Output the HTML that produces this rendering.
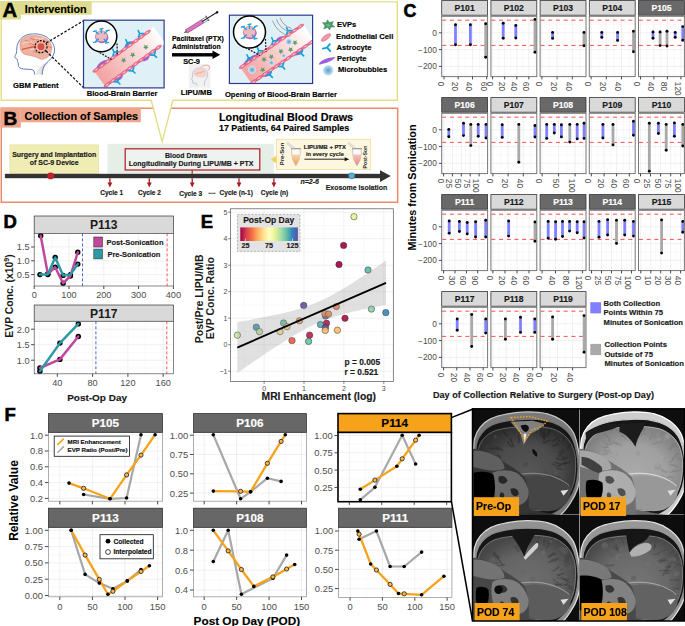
<!DOCTYPE html>
<html><head><meta charset="utf-8"><style>
html,body{margin:0;padding:0;background:#fff;}
svg{display:block;font-family:"Liberation Sans",sans-serif;}
</style></head><body>
<svg width="685" height="626" viewBox="0 0 685 626">
<rect width="685" height="626" fill="#fff"/>
<rect x="441.70" y="0.60" width="45.90" height="14.60" fill="#d9d9d9" stroke="#333" stroke-width="0.8" />
<text x="464.65" y="11.20" style="font-size:8.6px;font-weight:bold;" fill="#1a1a1a" text-anchor="middle"  stroke="#1a1a1a" stroke-width="0.16">P101</text>
<rect x="441.70" y="16.30" width="45.90" height="60.30" fill="#fff" stroke="none" stroke-width="1" />
<line x1="441.70" y1="24.40" x2="487.60" y2="24.40" stroke="#f3f3f3" stroke-width="0.5" />
<line x1="441.70" y1="41.20" x2="487.60" y2="41.20" stroke="#f3f3f3" stroke-width="0.5" />
<line x1="441.70" y1="58.00" x2="487.60" y2="58.00" stroke="#f3f3f3" stroke-width="0.5" />
<line x1="441.70" y1="74.80" x2="487.60" y2="74.80" stroke="#f3f3f3" stroke-width="0.5" />
<line x1="451.10" y1="16.30" x2="451.10" y2="76.60" stroke="#f3f3f3" stroke-width="0.5" />
<line x1="465.30" y1="16.30" x2="465.30" y2="76.60" stroke="#f3f3f3" stroke-width="0.5" />
<line x1="479.50" y1="16.30" x2="479.50" y2="76.60" stroke="#f3f3f3" stroke-width="0.5" />
<line x1="441.70" y1="32.80" x2="487.60" y2="32.80" stroke="#e6e6e6" stroke-width="0.6" />
<line x1="441.70" y1="49.60" x2="487.60" y2="49.60" stroke="#e6e6e6" stroke-width="0.6" />
<line x1="441.70" y1="66.40" x2="487.60" y2="66.40" stroke="#e6e6e6" stroke-width="0.6" />
<line x1="444.00" y1="16.30" x2="444.00" y2="76.60" stroke="#e6e6e6" stroke-width="0.6" />
<line x1="458.20" y1="16.30" x2="458.20" y2="76.60" stroke="#e6e6e6" stroke-width="0.6" />
<line x1="472.50" y1="16.30" x2="472.50" y2="76.60" stroke="#e6e6e6" stroke-width="0.6" />
<line x1="486.70" y1="16.30" x2="486.70" y2="76.60" stroke="#e6e6e6" stroke-width="0.6" />
<line x1="442.20" y1="20.20" x2="487.60" y2="20.20" stroke="#ff3b3b" stroke-width="0.9" stroke-dasharray="4,3.7"/>
<line x1="442.20" y1="45.40" x2="487.60" y2="45.40" stroke="#ff3b3b" stroke-width="0.9" stroke-dasharray="4,3.7"/>
<line x1="455.50" y1="24.80" x2="455.50" y2="44.70" stroke="#8080ff" stroke-width="2.8" />
<line x1="470.40" y1="24.80" x2="470.40" y2="44.70" stroke="#8080ff" stroke-width="2.8" />
<line x1="485.70" y1="23.80" x2="485.70" y2="57.20" stroke="#a9a9a9" stroke-width="2.8" />
<circle cx="455.50" cy="24.80" r="1.45" fill="#000" stroke="none" stroke-width="1" />
<circle cx="455.50" cy="44.70" r="1.45" fill="#000" stroke="none" stroke-width="1" />
<circle cx="470.40" cy="24.80" r="1.45" fill="#000" stroke="none" stroke-width="1" />
<circle cx="470.40" cy="44.70" r="1.45" fill="#000" stroke="none" stroke-width="1" />
<circle cx="485.70" cy="23.80" r="1.45" fill="#000" stroke="none" stroke-width="1" />
<circle cx="485.70" cy="57.20" r="1.45" fill="#000" stroke="none" stroke-width="1" />
<rect x="441.70" y="16.30" width="45.90" height="60.30" fill="none" stroke="#777" stroke-width="1.0" />
<line x1="444.00" y1="76.60" x2="444.00" y2="79.40" stroke="#333" stroke-width="0.9" />
<text transform="translate(437.90,81.80) rotate(90)" style="font-size:8.4px" fill="#4d4d4d">0</text>
<line x1="458.20" y1="76.60" x2="458.20" y2="79.40" stroke="#333" stroke-width="0.9" />
<text transform="translate(452.10,81.80) rotate(90)" style="font-size:8.4px" fill="#4d4d4d">20</text>
<line x1="472.50" y1="76.60" x2="472.50" y2="79.40" stroke="#333" stroke-width="0.9" />
<text transform="translate(466.40,81.80) rotate(90)" style="font-size:8.4px" fill="#4d4d4d">40</text>
<line x1="486.70" y1="76.60" x2="486.70" y2="79.40" stroke="#333" stroke-width="0.9" />
<text transform="translate(480.60,81.80) rotate(90)" style="font-size:8.4px" fill="#4d4d4d">60</text>
<line x1="438.90" y1="32.80" x2="441.70" y2="32.80" stroke="#333" stroke-width="0.9" />
<text x="436.90" y="35.80" style="font-size:8.4px;" fill="#4d4d4d" text-anchor="end" >0</text>
<line x1="438.90" y1="49.60" x2="441.70" y2="49.60" stroke="#333" stroke-width="0.9" />
<text x="436.90" y="52.60" style="font-size:8.4px;" fill="#4d4d4d" text-anchor="end" >−100</text>
<line x1="438.90" y1="66.40" x2="441.70" y2="66.40" stroke="#333" stroke-width="0.9" />
<text x="436.90" y="69.40" style="font-size:8.4px;" fill="#4d4d4d" text-anchor="end" >−200</text>
<rect x="490.90" y="0.60" width="45.90" height="14.60" fill="#d9d9d9" stroke="#333" stroke-width="0.8" />
<text x="513.85" y="11.20" style="font-size:8.6px;font-weight:bold;" fill="#1a1a1a" text-anchor="middle"  stroke="#1a1a1a" stroke-width="0.16">P102</text>
<rect x="490.90" y="16.30" width="45.90" height="60.30" fill="#fff" stroke="none" stroke-width="1" />
<line x1="490.90" y1="24.40" x2="536.80" y2="24.40" stroke="#f3f3f3" stroke-width="0.5" />
<line x1="490.90" y1="41.20" x2="536.80" y2="41.20" stroke="#f3f3f3" stroke-width="0.5" />
<line x1="490.90" y1="58.00" x2="536.80" y2="58.00" stroke="#f3f3f3" stroke-width="0.5" />
<line x1="490.90" y1="74.80" x2="536.80" y2="74.80" stroke="#f3f3f3" stroke-width="0.5" />
<line x1="498.65" y1="16.30" x2="498.65" y2="76.60" stroke="#f3f3f3" stroke-width="0.5" />
<line x1="510.75" y1="16.30" x2="510.75" y2="76.60" stroke="#f3f3f3" stroke-width="0.5" />
<line x1="522.85" y1="16.30" x2="522.85" y2="76.60" stroke="#f3f3f3" stroke-width="0.5" />
<line x1="534.95" y1="16.30" x2="534.95" y2="76.60" stroke="#f3f3f3" stroke-width="0.5" />
<line x1="490.90" y1="32.80" x2="536.80" y2="32.80" stroke="#e6e6e6" stroke-width="0.6" />
<line x1="490.90" y1="49.60" x2="536.80" y2="49.60" stroke="#e6e6e6" stroke-width="0.6" />
<line x1="490.90" y1="66.40" x2="536.80" y2="66.40" stroke="#e6e6e6" stroke-width="0.6" />
<line x1="492.60" y1="16.30" x2="492.60" y2="76.60" stroke="#e6e6e6" stroke-width="0.6" />
<line x1="504.70" y1="16.30" x2="504.70" y2="76.60" stroke="#e6e6e6" stroke-width="0.6" />
<line x1="516.80" y1="16.30" x2="516.80" y2="76.60" stroke="#e6e6e6" stroke-width="0.6" />
<line x1="528.80" y1="16.30" x2="528.80" y2="76.60" stroke="#e6e6e6" stroke-width="0.6" />
<line x1="491.40" y1="20.20" x2="536.80" y2="20.20" stroke="#ff3b3b" stroke-width="0.9" stroke-dasharray="4,3.7"/>
<line x1="491.40" y1="45.40" x2="536.80" y2="45.40" stroke="#ff3b3b" stroke-width="0.9" stroke-dasharray="4,3.7"/>
<line x1="503.20" y1="23.30" x2="503.20" y2="38.20" stroke="#8080ff" stroke-width="2.8" />
<line x1="515.80" y1="25.50" x2="515.80" y2="38.00" stroke="#8080ff" stroke-width="2.8" />
<line x1="535.00" y1="19.40" x2="535.00" y2="52.30" stroke="#a9a9a9" stroke-width="2.8" />
<circle cx="503.20" cy="23.30" r="1.45" fill="#000" stroke="none" stroke-width="1" />
<circle cx="503.20" cy="38.20" r="1.45" fill="#000" stroke="none" stroke-width="1" />
<circle cx="515.80" cy="25.50" r="1.45" fill="#000" stroke="none" stroke-width="1" />
<circle cx="515.80" cy="38.00" r="1.45" fill="#000" stroke="none" stroke-width="1" />
<circle cx="535.00" cy="19.40" r="1.45" fill="#000" stroke="none" stroke-width="1" />
<circle cx="535.00" cy="52.30" r="1.45" fill="#000" stroke="none" stroke-width="1" />
<rect x="490.90" y="16.30" width="45.90" height="60.30" fill="none" stroke="#777" stroke-width="1.0" />
<line x1="492.60" y1="76.60" x2="492.60" y2="79.40" stroke="#333" stroke-width="0.9" />
<text transform="translate(486.50,81.80) rotate(90)" style="font-size:8.4px" fill="#4d4d4d">0</text>
<line x1="504.70" y1="76.60" x2="504.70" y2="79.40" stroke="#333" stroke-width="0.9" />
<text transform="translate(498.60,81.80) rotate(90)" style="font-size:8.4px" fill="#4d4d4d">20</text>
<line x1="516.80" y1="76.60" x2="516.80" y2="79.40" stroke="#333" stroke-width="0.9" />
<text transform="translate(510.70,81.80) rotate(90)" style="font-size:8.4px" fill="#4d4d4d">40</text>
<line x1="528.80" y1="76.60" x2="528.80" y2="79.40" stroke="#333" stroke-width="0.9" />
<text transform="translate(522.70,81.80) rotate(90)" style="font-size:8.4px" fill="#4d4d4d">60</text>
<rect x="540.10" y="0.60" width="45.90" height="14.60" fill="#d9d9d9" stroke="#333" stroke-width="0.8" />
<text x="563.05" y="11.20" style="font-size:8.6px;font-weight:bold;" fill="#1a1a1a" text-anchor="middle"  stroke="#1a1a1a" stroke-width="0.16">P103</text>
<rect x="540.10" y="16.30" width="45.90" height="60.30" fill="#fff" stroke="none" stroke-width="1" />
<line x1="540.10" y1="24.40" x2="586.00" y2="24.40" stroke="#f3f3f3" stroke-width="0.5" />
<line x1="540.10" y1="41.20" x2="586.00" y2="41.20" stroke="#f3f3f3" stroke-width="0.5" />
<line x1="540.10" y1="58.00" x2="586.00" y2="58.00" stroke="#f3f3f3" stroke-width="0.5" />
<line x1="540.10" y1="74.80" x2="586.00" y2="74.80" stroke="#f3f3f3" stroke-width="0.5" />
<line x1="549.50" y1="16.30" x2="549.50" y2="76.60" stroke="#f3f3f3" stroke-width="0.5" />
<line x1="564.70" y1="16.30" x2="564.70" y2="76.60" stroke="#f3f3f3" stroke-width="0.5" />
<line x1="579.90" y1="16.30" x2="579.90" y2="76.60" stroke="#f3f3f3" stroke-width="0.5" />
<line x1="540.10" y1="32.80" x2="586.00" y2="32.80" stroke="#e6e6e6" stroke-width="0.6" />
<line x1="540.10" y1="49.60" x2="586.00" y2="49.60" stroke="#e6e6e6" stroke-width="0.6" />
<line x1="540.10" y1="66.40" x2="586.00" y2="66.40" stroke="#e6e6e6" stroke-width="0.6" />
<line x1="541.90" y1="16.30" x2="541.90" y2="76.60" stroke="#e6e6e6" stroke-width="0.6" />
<line x1="557.10" y1="16.30" x2="557.10" y2="76.60" stroke="#e6e6e6" stroke-width="0.6" />
<line x1="572.30" y1="16.30" x2="572.30" y2="76.60" stroke="#e6e6e6" stroke-width="0.6" />
<line x1="540.60" y1="20.20" x2="586.00" y2="20.20" stroke="#ff3b3b" stroke-width="0.9" stroke-dasharray="4,3.7"/>
<line x1="540.60" y1="45.40" x2="586.00" y2="45.40" stroke="#ff3b3b" stroke-width="0.9" stroke-dasharray="4,3.7"/>
<line x1="552.60" y1="32.40" x2="552.60" y2="38.40" stroke="#8080ff" stroke-width="2.8" />
<line x1="584.00" y1="32.40" x2="584.00" y2="45.80" stroke="#a9a9a9" stroke-width="2.8" />
<circle cx="552.60" cy="32.40" r="1.45" fill="#000" stroke="none" stroke-width="1" />
<circle cx="552.60" cy="38.40" r="1.45" fill="#000" stroke="none" stroke-width="1" />
<circle cx="584.00" cy="32.40" r="1.45" fill="#000" stroke="none" stroke-width="1" />
<circle cx="584.00" cy="45.80" r="1.45" fill="#000" stroke="none" stroke-width="1" />
<rect x="540.10" y="16.30" width="45.90" height="60.30" fill="none" stroke="#777" stroke-width="1.0" />
<line x1="541.90" y1="76.60" x2="541.90" y2="79.40" stroke="#333" stroke-width="0.9" />
<text transform="translate(535.80,81.80) rotate(90)" style="font-size:8.4px" fill="#4d4d4d">0</text>
<line x1="557.10" y1="76.60" x2="557.10" y2="79.40" stroke="#333" stroke-width="0.9" />
<text transform="translate(551.00,81.80) rotate(90)" style="font-size:8.4px" fill="#4d4d4d">20</text>
<line x1="572.30" y1="76.60" x2="572.30" y2="79.40" stroke="#333" stroke-width="0.9" />
<text transform="translate(566.20,81.80) rotate(90)" style="font-size:8.4px" fill="#4d4d4d">40</text>
<rect x="589.30" y="0.60" width="45.90" height="14.60" fill="#d9d9d9" stroke="#333" stroke-width="0.8" />
<text x="612.25" y="11.20" style="font-size:8.6px;font-weight:bold;" fill="#1a1a1a" text-anchor="middle"  stroke="#1a1a1a" stroke-width="0.16">P104</text>
<rect x="589.30" y="16.30" width="45.90" height="60.30" fill="#fff" stroke="none" stroke-width="1" />
<line x1="589.30" y1="24.40" x2="635.20" y2="24.40" stroke="#f3f3f3" stroke-width="0.5" />
<line x1="589.30" y1="41.20" x2="635.20" y2="41.20" stroke="#f3f3f3" stroke-width="0.5" />
<line x1="589.30" y1="58.00" x2="635.20" y2="58.00" stroke="#f3f3f3" stroke-width="0.5" />
<line x1="589.30" y1="74.80" x2="635.20" y2="74.80" stroke="#f3f3f3" stroke-width="0.5" />
<line x1="598.70" y1="16.30" x2="598.70" y2="76.60" stroke="#f3f3f3" stroke-width="0.5" />
<line x1="613.90" y1="16.30" x2="613.90" y2="76.60" stroke="#f3f3f3" stroke-width="0.5" />
<line x1="629.10" y1="16.30" x2="629.10" y2="76.60" stroke="#f3f3f3" stroke-width="0.5" />
<line x1="589.30" y1="32.80" x2="635.20" y2="32.80" stroke="#e6e6e6" stroke-width="0.6" />
<line x1="589.30" y1="49.60" x2="635.20" y2="49.60" stroke="#e6e6e6" stroke-width="0.6" />
<line x1="589.30" y1="66.40" x2="635.20" y2="66.40" stroke="#e6e6e6" stroke-width="0.6" />
<line x1="591.10" y1="16.30" x2="591.10" y2="76.60" stroke="#e6e6e6" stroke-width="0.6" />
<line x1="606.30" y1="16.30" x2="606.30" y2="76.60" stroke="#e6e6e6" stroke-width="0.6" />
<line x1="621.50" y1="16.30" x2="621.50" y2="76.60" stroke="#e6e6e6" stroke-width="0.6" />
<line x1="589.80" y1="20.20" x2="635.20" y2="20.20" stroke="#ff3b3b" stroke-width="0.9" stroke-dasharray="4,3.7"/>
<line x1="589.80" y1="45.40" x2="635.20" y2="45.40" stroke="#ff3b3b" stroke-width="0.9" stroke-dasharray="4,3.7"/>
<line x1="601.80" y1="32.40" x2="601.80" y2="37.40" stroke="#8080ff" stroke-width="2.8" />
<line x1="617.60" y1="32.40" x2="617.60" y2="40.40" stroke="#8080ff" stroke-width="2.8" />
<line x1="633.50" y1="31.30" x2="633.50" y2="51.80" stroke="#a9a9a9" stroke-width="2.8" />
<circle cx="601.80" cy="32.40" r="1.45" fill="#000" stroke="none" stroke-width="1" />
<circle cx="601.80" cy="37.40" r="1.45" fill="#000" stroke="none" stroke-width="1" />
<circle cx="617.60" cy="32.40" r="1.45" fill="#000" stroke="none" stroke-width="1" />
<circle cx="617.60" cy="40.40" r="1.45" fill="#000" stroke="none" stroke-width="1" />
<circle cx="633.50" cy="31.30" r="1.45" fill="#000" stroke="none" stroke-width="1" />
<circle cx="633.50" cy="51.80" r="1.45" fill="#000" stroke="none" stroke-width="1" />
<rect x="589.30" y="16.30" width="45.90" height="60.30" fill="none" stroke="#777" stroke-width="1.0" />
<line x1="591.10" y1="76.60" x2="591.10" y2="79.40" stroke="#333" stroke-width="0.9" />
<text transform="translate(585.00,81.80) rotate(90)" style="font-size:8.4px" fill="#4d4d4d">0</text>
<line x1="606.30" y1="76.60" x2="606.30" y2="79.40" stroke="#333" stroke-width="0.9" />
<text transform="translate(600.20,81.80) rotate(90)" style="font-size:8.4px" fill="#4d4d4d">20</text>
<line x1="621.50" y1="76.60" x2="621.50" y2="79.40" stroke="#333" stroke-width="0.9" />
<text transform="translate(615.40,81.80) rotate(90)" style="font-size:8.4px" fill="#4d4d4d">40</text>
<rect x="638.50" y="0.60" width="45.90" height="14.60" fill="#696969" stroke="#333" stroke-width="0.8" />
<text x="661.45" y="11.20" style="font-size:8.6px;font-weight:bold;" fill="#fff" text-anchor="middle"  stroke="#fff" stroke-width="0.16">P105</text>
<rect x="638.50" y="16.30" width="45.90" height="60.30" fill="#fff" stroke="none" stroke-width="1" />
<line x1="638.50" y1="24.40" x2="684.40" y2="24.40" stroke="#f3f3f3" stroke-width="0.5" />
<line x1="638.50" y1="41.20" x2="684.40" y2="41.20" stroke="#f3f3f3" stroke-width="0.5" />
<line x1="638.50" y1="58.00" x2="684.40" y2="58.00" stroke="#f3f3f3" stroke-width="0.5" />
<line x1="638.50" y1="74.80" x2="684.40" y2="74.80" stroke="#f3f3f3" stroke-width="0.5" />
<line x1="647.20" y1="16.30" x2="647.20" y2="76.60" stroke="#f3f3f3" stroke-width="0.5" />
<line x1="660.60" y1="16.30" x2="660.60" y2="76.60" stroke="#f3f3f3" stroke-width="0.5" />
<line x1="674.00" y1="16.30" x2="674.00" y2="76.60" stroke="#f3f3f3" stroke-width="0.5" />
<line x1="638.50" y1="32.80" x2="684.40" y2="32.80" stroke="#e6e6e6" stroke-width="0.6" />
<line x1="638.50" y1="49.60" x2="684.40" y2="49.60" stroke="#e6e6e6" stroke-width="0.6" />
<line x1="638.50" y1="66.40" x2="684.40" y2="66.40" stroke="#e6e6e6" stroke-width="0.6" />
<line x1="640.50" y1="16.30" x2="640.50" y2="76.60" stroke="#e6e6e6" stroke-width="0.6" />
<line x1="653.90" y1="16.30" x2="653.90" y2="76.60" stroke="#e6e6e6" stroke-width="0.6" />
<line x1="667.40" y1="16.30" x2="667.40" y2="76.60" stroke="#e6e6e6" stroke-width="0.6" />
<line x1="680.90" y1="16.30" x2="680.90" y2="76.60" stroke="#e6e6e6" stroke-width="0.6" />
<line x1="639.00" y1="20.20" x2="684.40" y2="20.20" stroke="#ff3b3b" stroke-width="0.9" stroke-dasharray="4,3.7"/>
<line x1="639.00" y1="45.40" x2="684.40" y2="45.40" stroke="#ff3b3b" stroke-width="0.9" stroke-dasharray="4,3.7"/>
<line x1="653.00" y1="32.00" x2="653.00" y2="38.20" stroke="#8080ff" stroke-width="2.8" />
<line x1="660.10" y1="32.00" x2="660.10" y2="45.60" stroke="#a9a9a9" stroke-width="2.8" />
<line x1="667.00" y1="31.30" x2="667.00" y2="46.00" stroke="#a9a9a9" stroke-width="2.8" />
<line x1="675.20" y1="32.40" x2="675.20" y2="37.40" stroke="#8080ff" stroke-width="2.8" />
<line x1="682.80" y1="26.60" x2="682.80" y2="40.20" stroke="#8080ff" stroke-width="2.8" />
<circle cx="653.00" cy="32.00" r="1.45" fill="#000" stroke="none" stroke-width="1" />
<circle cx="653.00" cy="38.20" r="1.45" fill="#000" stroke="none" stroke-width="1" />
<circle cx="660.10" cy="32.00" r="1.45" fill="#000" stroke="none" stroke-width="1" />
<circle cx="660.10" cy="45.60" r="1.45" fill="#000" stroke="none" stroke-width="1" />
<circle cx="667.00" cy="31.30" r="1.45" fill="#000" stroke="none" stroke-width="1" />
<circle cx="667.00" cy="46.00" r="1.45" fill="#000" stroke="none" stroke-width="1" />
<circle cx="675.20" cy="32.40" r="1.45" fill="#000" stroke="none" stroke-width="1" />
<circle cx="675.20" cy="37.40" r="1.45" fill="#000" stroke="none" stroke-width="1" />
<circle cx="682.80" cy="26.60" r="1.45" fill="#000" stroke="none" stroke-width="1" />
<circle cx="682.80" cy="40.20" r="1.45" fill="#000" stroke="none" stroke-width="1" />
<rect x="638.50" y="16.30" width="45.90" height="60.30" fill="none" stroke="#777" stroke-width="1.0" />
<line x1="640.50" y1="76.60" x2="640.50" y2="79.40" stroke="#333" stroke-width="0.9" />
<text transform="translate(634.40,81.80) rotate(90)" style="font-size:8.4px" fill="#4d4d4d">0</text>
<line x1="653.90" y1="76.60" x2="653.90" y2="79.40" stroke="#333" stroke-width="0.9" />
<text transform="translate(647.80,81.80) rotate(90)" style="font-size:8.4px" fill="#4d4d4d">40</text>
<line x1="667.40" y1="76.60" x2="667.40" y2="79.40" stroke="#333" stroke-width="0.9" />
<text transform="translate(661.30,81.80) rotate(90)" style="font-size:8.4px" fill="#4d4d4d">80</text>
<line x1="680.90" y1="76.60" x2="680.90" y2="79.40" stroke="#333" stroke-width="0.9" />
<text transform="translate(674.80,81.80) rotate(90)" style="font-size:8.4px" fill="#4d4d4d">120</text>
<rect x="441.70" y="97.60" width="45.90" height="14.60" fill="#696969" stroke="#333" stroke-width="0.8" />
<text x="464.65" y="108.20" style="font-size:8.6px;font-weight:bold;" fill="#fff" text-anchor="middle"  stroke="#fff" stroke-width="0.16">P106</text>
<rect x="441.70" y="113.30" width="45.90" height="60.30" fill="#fff" stroke="none" stroke-width="1" />
<line x1="441.70" y1="121.40" x2="487.60" y2="121.40" stroke="#f3f3f3" stroke-width="0.5" />
<line x1="441.70" y1="138.20" x2="487.60" y2="138.20" stroke="#f3f3f3" stroke-width="0.5" />
<line x1="441.70" y1="155.00" x2="487.60" y2="155.00" stroke="#f3f3f3" stroke-width="0.5" />
<line x1="441.70" y1="171.80" x2="487.60" y2="171.80" stroke="#f3f3f3" stroke-width="0.5" />
<line x1="448.00" y1="113.30" x2="448.00" y2="173.60" stroke="#f3f3f3" stroke-width="0.5" />
<line x1="456.80" y1="113.30" x2="456.80" y2="173.60" stroke="#f3f3f3" stroke-width="0.5" />
<line x1="465.60" y1="113.30" x2="465.60" y2="173.60" stroke="#f3f3f3" stroke-width="0.5" />
<line x1="474.40" y1="113.30" x2="474.40" y2="173.60" stroke="#f3f3f3" stroke-width="0.5" />
<line x1="483.20" y1="113.30" x2="483.20" y2="173.60" stroke="#f3f3f3" stroke-width="0.5" />
<line x1="441.70" y1="129.80" x2="487.60" y2="129.80" stroke="#e6e6e6" stroke-width="0.6" />
<line x1="441.70" y1="146.60" x2="487.60" y2="146.60" stroke="#e6e6e6" stroke-width="0.6" />
<line x1="441.70" y1="163.40" x2="487.60" y2="163.40" stroke="#e6e6e6" stroke-width="0.6" />
<line x1="443.60" y1="113.30" x2="443.60" y2="173.60" stroke="#e6e6e6" stroke-width="0.6" />
<line x1="452.40" y1="113.30" x2="452.40" y2="173.60" stroke="#e6e6e6" stroke-width="0.6" />
<line x1="461.30" y1="113.30" x2="461.30" y2="173.60" stroke="#e6e6e6" stroke-width="0.6" />
<line x1="470.20" y1="113.30" x2="470.20" y2="173.60" stroke="#e6e6e6" stroke-width="0.6" />
<line x1="479.10" y1="113.30" x2="479.10" y2="173.60" stroke="#e6e6e6" stroke-width="0.6" />
<line x1="442.20" y1="117.20" x2="487.60" y2="117.20" stroke="#ff3b3b" stroke-width="0.9" stroke-dasharray="4,3.7"/>
<line x1="442.20" y1="142.40" x2="487.60" y2="142.40" stroke="#ff3b3b" stroke-width="0.9" stroke-dasharray="4,3.7"/>
<line x1="448.80" y1="129.40" x2="448.80" y2="136.70" stroke="#8080ff" stroke-width="2.8" />
<line x1="463.50" y1="123.30" x2="463.50" y2="135.60" stroke="#8080ff" stroke-width="2.8" />
<line x1="470.80" y1="124.40" x2="470.80" y2="145.60" stroke="#a9a9a9" stroke-width="2.8" />
<line x1="478.20" y1="124.40" x2="478.20" y2="136.30" stroke="#8080ff" stroke-width="2.8" />
<line x1="486.00" y1="124.40" x2="486.00" y2="138.00" stroke="#8080ff" stroke-width="2.8" />
<circle cx="448.80" cy="129.40" r="1.45" fill="#000" stroke="none" stroke-width="1" />
<circle cx="448.80" cy="136.70" r="1.45" fill="#000" stroke="none" stroke-width="1" />
<circle cx="463.50" cy="123.30" r="1.45" fill="#000" stroke="none" stroke-width="1" />
<circle cx="463.50" cy="135.60" r="1.45" fill="#000" stroke="none" stroke-width="1" />
<circle cx="470.80" cy="124.40" r="1.45" fill="#000" stroke="none" stroke-width="1" />
<circle cx="470.80" cy="145.60" r="1.45" fill="#000" stroke="none" stroke-width="1" />
<circle cx="478.20" cy="124.40" r="1.45" fill="#000" stroke="none" stroke-width="1" />
<circle cx="478.20" cy="136.30" r="1.45" fill="#000" stroke="none" stroke-width="1" />
<circle cx="486.00" cy="124.40" r="1.45" fill="#000" stroke="none" stroke-width="1" />
<circle cx="486.00" cy="138.00" r="1.45" fill="#000" stroke="none" stroke-width="1" />
<rect x="441.70" y="113.30" width="45.90" height="60.30" fill="none" stroke="#777" stroke-width="1.0" />
<line x1="443.60" y1="173.60" x2="443.60" y2="176.40" stroke="#333" stroke-width="0.9" />
<text transform="translate(437.50,178.80) rotate(90)" style="font-size:8.4px" fill="#4d4d4d">0</text>
<line x1="452.40" y1="173.60" x2="452.40" y2="176.40" stroke="#333" stroke-width="0.9" />
<text transform="translate(446.30,178.80) rotate(90)" style="font-size:8.4px" fill="#4d4d4d">25</text>
<line x1="461.30" y1="173.60" x2="461.30" y2="176.40" stroke="#333" stroke-width="0.9" />
<text transform="translate(455.20,178.80) rotate(90)" style="font-size:8.4px" fill="#4d4d4d">50</text>
<line x1="470.20" y1="173.60" x2="470.20" y2="176.40" stroke="#333" stroke-width="0.9" />
<text transform="translate(464.10,178.80) rotate(90)" style="font-size:8.4px" fill="#4d4d4d">75</text>
<line x1="479.10" y1="173.60" x2="479.10" y2="176.40" stroke="#333" stroke-width="0.9" />
<text transform="translate(473.00,178.80) rotate(90)" style="font-size:8.4px" fill="#4d4d4d">100</text>
<line x1="438.90" y1="129.80" x2="441.70" y2="129.80" stroke="#333" stroke-width="0.9" />
<text x="436.90" y="132.80" style="font-size:8.4px;" fill="#4d4d4d" text-anchor="end" >0</text>
<line x1="438.90" y1="146.60" x2="441.70" y2="146.60" stroke="#333" stroke-width="0.9" />
<text x="436.90" y="149.60" style="font-size:8.4px;" fill="#4d4d4d" text-anchor="end" >−100</text>
<line x1="438.90" y1="163.40" x2="441.70" y2="163.40" stroke="#333" stroke-width="0.9" />
<text x="436.90" y="166.40" style="font-size:8.4px;" fill="#4d4d4d" text-anchor="end" >−200</text>
<rect x="490.90" y="97.60" width="45.90" height="14.60" fill="#d9d9d9" stroke="#333" stroke-width="0.8" />
<text x="513.85" y="108.20" style="font-size:8.6px;font-weight:bold;" fill="#1a1a1a" text-anchor="middle"  stroke="#1a1a1a" stroke-width="0.16">P107</text>
<rect x="490.90" y="113.30" width="45.90" height="60.30" fill="#fff" stroke="none" stroke-width="1" />
<line x1="490.90" y1="121.40" x2="536.80" y2="121.40" stroke="#f3f3f3" stroke-width="0.5" />
<line x1="490.90" y1="138.20" x2="536.80" y2="138.20" stroke="#f3f3f3" stroke-width="0.5" />
<line x1="490.90" y1="155.00" x2="536.80" y2="155.00" stroke="#f3f3f3" stroke-width="0.5" />
<line x1="490.90" y1="171.80" x2="536.80" y2="171.80" stroke="#f3f3f3" stroke-width="0.5" />
<line x1="500.50" y1="113.30" x2="500.50" y2="173.60" stroke="#f3f3f3" stroke-width="0.5" />
<line x1="515.70" y1="113.30" x2="515.70" y2="173.60" stroke="#f3f3f3" stroke-width="0.5" />
<line x1="530.90" y1="113.30" x2="530.90" y2="173.60" stroke="#f3f3f3" stroke-width="0.5" />
<line x1="490.90" y1="129.80" x2="536.80" y2="129.80" stroke="#e6e6e6" stroke-width="0.6" />
<line x1="490.90" y1="146.60" x2="536.80" y2="146.60" stroke="#e6e6e6" stroke-width="0.6" />
<line x1="490.90" y1="163.40" x2="536.80" y2="163.40" stroke="#e6e6e6" stroke-width="0.6" />
<line x1="492.90" y1="113.30" x2="492.90" y2="173.60" stroke="#e6e6e6" stroke-width="0.6" />
<line x1="508.10" y1="113.30" x2="508.10" y2="173.60" stroke="#e6e6e6" stroke-width="0.6" />
<line x1="523.30" y1="113.30" x2="523.30" y2="173.60" stroke="#e6e6e6" stroke-width="0.6" />
<line x1="491.40" y1="117.20" x2="536.80" y2="117.20" stroke="#ff3b3b" stroke-width="0.9" stroke-dasharray="4,3.7"/>
<line x1="491.40" y1="142.40" x2="536.80" y2="142.40" stroke="#ff3b3b" stroke-width="0.9" stroke-dasharray="4,3.7"/>
<line x1="502.20" y1="124.80" x2="502.20" y2="137.40" stroke="#8080ff" stroke-width="2.8" />
<line x1="518.80" y1="124.40" x2="518.80" y2="162.20" stroke="#a9a9a9" stroke-width="2.8" />
<line x1="535.00" y1="125.50" x2="535.00" y2="137.00" stroke="#8080ff" stroke-width="2.8" />
<circle cx="502.20" cy="124.80" r="1.45" fill="#000" stroke="none" stroke-width="1" />
<circle cx="502.20" cy="137.40" r="1.45" fill="#000" stroke="none" stroke-width="1" />
<circle cx="518.80" cy="124.40" r="1.45" fill="#000" stroke="none" stroke-width="1" />
<circle cx="518.80" cy="162.20" r="1.45" fill="#000" stroke="none" stroke-width="1" />
<circle cx="535.00" cy="125.50" r="1.45" fill="#000" stroke="none" stroke-width="1" />
<circle cx="535.00" cy="137.00" r="1.45" fill="#000" stroke="none" stroke-width="1" />
<rect x="490.90" y="113.30" width="45.90" height="60.30" fill="none" stroke="#777" stroke-width="1.0" />
<line x1="492.90" y1="173.60" x2="492.90" y2="176.40" stroke="#333" stroke-width="0.9" />
<text transform="translate(486.80,178.80) rotate(90)" style="font-size:8.4px" fill="#4d4d4d">0</text>
<line x1="508.10" y1="173.60" x2="508.10" y2="176.40" stroke="#333" stroke-width="0.9" />
<text transform="translate(502.00,178.80) rotate(90)" style="font-size:8.4px" fill="#4d4d4d">20</text>
<line x1="523.30" y1="173.60" x2="523.30" y2="176.40" stroke="#333" stroke-width="0.9" />
<text transform="translate(517.20,178.80) rotate(90)" style="font-size:8.4px" fill="#4d4d4d">40</text>
<rect x="540.10" y="97.60" width="45.90" height="14.60" fill="#696969" stroke="#333" stroke-width="0.8" />
<text x="563.05" y="108.20" style="font-size:8.6px;font-weight:bold;" fill="#fff" text-anchor="middle"  stroke="#fff" stroke-width="0.16">P108</text>
<rect x="540.10" y="113.30" width="45.90" height="60.30" fill="#fff" stroke="none" stroke-width="1" />
<line x1="540.10" y1="121.40" x2="586.00" y2="121.40" stroke="#f3f3f3" stroke-width="0.5" />
<line x1="540.10" y1="138.20" x2="586.00" y2="138.20" stroke="#f3f3f3" stroke-width="0.5" />
<line x1="540.10" y1="155.00" x2="586.00" y2="155.00" stroke="#f3f3f3" stroke-width="0.5" />
<line x1="540.10" y1="171.80" x2="586.00" y2="171.80" stroke="#f3f3f3" stroke-width="0.5" />
<line x1="550.35" y1="113.30" x2="550.35" y2="173.60" stroke="#f3f3f3" stroke-width="0.5" />
<line x1="566.85" y1="113.30" x2="566.85" y2="173.60" stroke="#f3f3f3" stroke-width="0.5" />
<line x1="583.35" y1="113.30" x2="583.35" y2="173.60" stroke="#f3f3f3" stroke-width="0.5" />
<line x1="540.10" y1="129.80" x2="586.00" y2="129.80" stroke="#e6e6e6" stroke-width="0.6" />
<line x1="540.10" y1="146.60" x2="586.00" y2="146.60" stroke="#e6e6e6" stroke-width="0.6" />
<line x1="540.10" y1="163.40" x2="586.00" y2="163.40" stroke="#e6e6e6" stroke-width="0.6" />
<line x1="542.10" y1="113.30" x2="542.10" y2="173.60" stroke="#e6e6e6" stroke-width="0.6" />
<line x1="558.60" y1="113.30" x2="558.60" y2="173.60" stroke="#e6e6e6" stroke-width="0.6" />
<line x1="575.10" y1="113.30" x2="575.10" y2="173.60" stroke="#e6e6e6" stroke-width="0.6" />
<line x1="540.60" y1="117.20" x2="586.00" y2="117.20" stroke="#ff3b3b" stroke-width="0.9" stroke-dasharray="4,3.7"/>
<line x1="540.60" y1="142.40" x2="586.00" y2="142.40" stroke="#ff3b3b" stroke-width="0.9" stroke-dasharray="4,3.7"/>
<line x1="546.70" y1="124.40" x2="546.70" y2="138.40" stroke="#8080ff" stroke-width="2.8" />
<line x1="554.30" y1="124.40" x2="554.30" y2="133.00" stroke="#8080ff" stroke-width="2.8" />
<line x1="561.40" y1="124.80" x2="561.40" y2="136.90" stroke="#8080ff" stroke-width="2.8" />
<line x1="569.80" y1="124.40" x2="569.80" y2="142.10" stroke="#a9a9a9" stroke-width="2.8" />
<line x1="577.20" y1="124.40" x2="577.20" y2="138.90" stroke="#8080ff" stroke-width="2.8" />
<line x1="584.10" y1="123.30" x2="584.10" y2="138.40" stroke="#8080ff" stroke-width="2.8" />
<circle cx="546.70" cy="124.40" r="1.45" fill="#000" stroke="none" stroke-width="1" />
<circle cx="546.70" cy="138.40" r="1.45" fill="#000" stroke="none" stroke-width="1" />
<circle cx="554.30" cy="124.40" r="1.45" fill="#000" stroke="none" stroke-width="1" />
<circle cx="554.30" cy="133.00" r="1.45" fill="#000" stroke="none" stroke-width="1" />
<circle cx="561.40" cy="124.80" r="1.45" fill="#000" stroke="none" stroke-width="1" />
<circle cx="561.40" cy="136.90" r="1.45" fill="#000" stroke="none" stroke-width="1" />
<circle cx="569.80" cy="124.40" r="1.45" fill="#000" stroke="none" stroke-width="1" />
<circle cx="569.80" cy="142.10" r="1.45" fill="#000" stroke="none" stroke-width="1" />
<circle cx="577.20" cy="124.40" r="1.45" fill="#000" stroke="none" stroke-width="1" />
<circle cx="577.20" cy="138.90" r="1.45" fill="#000" stroke="none" stroke-width="1" />
<circle cx="584.10" cy="123.30" r="1.45" fill="#000" stroke="none" stroke-width="1" />
<circle cx="584.10" cy="138.40" r="1.45" fill="#000" stroke="none" stroke-width="1" />
<rect x="540.10" y="113.30" width="45.90" height="60.30" fill="none" stroke="#777" stroke-width="1.0" />
<line x1="542.10" y1="173.60" x2="542.10" y2="176.40" stroke="#333" stroke-width="0.9" />
<text transform="translate(536.00,178.80) rotate(90)" style="font-size:8.4px" fill="#4d4d4d">0</text>
<line x1="558.60" y1="173.60" x2="558.60" y2="176.40" stroke="#333" stroke-width="0.9" />
<text transform="translate(552.50,178.80) rotate(90)" style="font-size:8.4px" fill="#4d4d4d">50</text>
<line x1="575.10" y1="173.60" x2="575.10" y2="176.40" stroke="#333" stroke-width="0.9" />
<text transform="translate(569.00,178.80) rotate(90)" style="font-size:8.4px" fill="#4d4d4d">100</text>
<rect x="589.30" y="97.60" width="45.90" height="14.60" fill="#d9d9d9" stroke="#333" stroke-width="0.8" />
<text x="612.25" y="108.20" style="font-size:8.6px;font-weight:bold;" fill="#1a1a1a" text-anchor="middle"  stroke="#1a1a1a" stroke-width="0.16">P109</text>
<rect x="589.30" y="113.30" width="45.90" height="60.30" fill="#fff" stroke="none" stroke-width="1" />
<line x1="589.30" y1="121.40" x2="635.20" y2="121.40" stroke="#f3f3f3" stroke-width="0.5" />
<line x1="589.30" y1="138.20" x2="635.20" y2="138.20" stroke="#f3f3f3" stroke-width="0.5" />
<line x1="589.30" y1="155.00" x2="635.20" y2="155.00" stroke="#f3f3f3" stroke-width="0.5" />
<line x1="589.30" y1="171.80" x2="635.20" y2="171.80" stroke="#f3f3f3" stroke-width="0.5" />
<line x1="597.70" y1="113.30" x2="597.70" y2="173.60" stroke="#f3f3f3" stroke-width="0.5" />
<line x1="610.50" y1="113.30" x2="610.50" y2="173.60" stroke="#f3f3f3" stroke-width="0.5" />
<line x1="623.30" y1="113.30" x2="623.30" y2="173.60" stroke="#f3f3f3" stroke-width="0.5" />
<line x1="589.30" y1="129.80" x2="635.20" y2="129.80" stroke="#e6e6e6" stroke-width="0.6" />
<line x1="589.30" y1="146.60" x2="635.20" y2="146.60" stroke="#e6e6e6" stroke-width="0.6" />
<line x1="589.30" y1="163.40" x2="635.20" y2="163.40" stroke="#e6e6e6" stroke-width="0.6" />
<line x1="591.30" y1="113.30" x2="591.30" y2="173.60" stroke="#e6e6e6" stroke-width="0.6" />
<line x1="604.10" y1="113.30" x2="604.10" y2="173.60" stroke="#e6e6e6" stroke-width="0.6" />
<line x1="616.60" y1="113.30" x2="616.60" y2="173.60" stroke="#e6e6e6" stroke-width="0.6" />
<line x1="629.30" y1="113.30" x2="629.30" y2="173.60" stroke="#e6e6e6" stroke-width="0.6" />
<line x1="589.80" y1="117.20" x2="635.20" y2="117.20" stroke="#ff3b3b" stroke-width="0.9" stroke-dasharray="4,3.7"/>
<line x1="589.80" y1="142.40" x2="635.20" y2="142.40" stroke="#ff3b3b" stroke-width="0.9" stroke-dasharray="4,3.7"/>
<line x1="602.90" y1="124.40" x2="602.90" y2="138.00" stroke="#8080ff" stroke-width="2.8" />
<line x1="613.00" y1="124.40" x2="613.00" y2="144.90" stroke="#a9a9a9" stroke-width="2.8" />
<line x1="633.50" y1="121.20" x2="633.50" y2="135.20" stroke="#8080ff" stroke-width="2.8" />
<circle cx="602.90" cy="124.40" r="1.45" fill="#000" stroke="none" stroke-width="1" />
<circle cx="602.90" cy="138.00" r="1.45" fill="#000" stroke="none" stroke-width="1" />
<circle cx="613.00" cy="124.40" r="1.45" fill="#000" stroke="none" stroke-width="1" />
<circle cx="613.00" cy="144.90" r="1.45" fill="#000" stroke="none" stroke-width="1" />
<circle cx="633.50" cy="121.20" r="1.45" fill="#000" stroke="none" stroke-width="1" />
<circle cx="633.50" cy="135.20" r="1.45" fill="#000" stroke="none" stroke-width="1" />
<rect x="589.30" y="113.30" width="45.90" height="60.30" fill="none" stroke="#777" stroke-width="1.0" />
<line x1="591.30" y1="173.60" x2="591.30" y2="176.40" stroke="#333" stroke-width="0.9" />
<text transform="translate(585.20,178.80) rotate(90)" style="font-size:8.4px" fill="#4d4d4d">0</text>
<line x1="604.10" y1="173.60" x2="604.10" y2="176.40" stroke="#333" stroke-width="0.9" />
<text transform="translate(598.00,178.80) rotate(90)" style="font-size:8.4px" fill="#4d4d4d">20</text>
<line x1="616.60" y1="173.60" x2="616.60" y2="176.40" stroke="#333" stroke-width="0.9" />
<text transform="translate(610.50,178.80) rotate(90)" style="font-size:8.4px" fill="#4d4d4d">40</text>
<line x1="629.30" y1="173.60" x2="629.30" y2="176.40" stroke="#333" stroke-width="0.9" />
<text transform="translate(623.20,178.80) rotate(90)" style="font-size:8.4px" fill="#4d4d4d">60</text>
<rect x="638.50" y="97.60" width="45.90" height="14.60" fill="#d9d9d9" stroke="#333" stroke-width="0.8" />
<text x="661.45" y="108.20" style="font-size:8.6px;font-weight:bold;" fill="#1a1a1a" text-anchor="middle"  stroke="#1a1a1a" stroke-width="0.16">P110</text>
<rect x="638.50" y="113.30" width="45.90" height="60.30" fill="#fff" stroke="none" stroke-width="1" />
<line x1="638.50" y1="121.40" x2="684.40" y2="121.40" stroke="#f3f3f3" stroke-width="0.5" />
<line x1="638.50" y1="138.20" x2="684.40" y2="138.20" stroke="#f3f3f3" stroke-width="0.5" />
<line x1="638.50" y1="155.00" x2="684.40" y2="155.00" stroke="#f3f3f3" stroke-width="0.5" />
<line x1="638.50" y1="171.80" x2="684.40" y2="171.80" stroke="#f3f3f3" stroke-width="0.5" />
<line x1="645.50" y1="113.30" x2="645.50" y2="173.60" stroke="#f3f3f3" stroke-width="0.5" />
<line x1="655.50" y1="113.30" x2="655.50" y2="173.60" stroke="#f3f3f3" stroke-width="0.5" />
<line x1="665.50" y1="113.30" x2="665.50" y2="173.60" stroke="#f3f3f3" stroke-width="0.5" />
<line x1="675.50" y1="113.30" x2="675.50" y2="173.60" stroke="#f3f3f3" stroke-width="0.5" />
<line x1="638.50" y1="129.80" x2="684.40" y2="129.80" stroke="#e6e6e6" stroke-width="0.6" />
<line x1="638.50" y1="146.60" x2="684.40" y2="146.60" stroke="#e6e6e6" stroke-width="0.6" />
<line x1="638.50" y1="163.40" x2="684.40" y2="163.40" stroke="#e6e6e6" stroke-width="0.6" />
<line x1="640.50" y1="113.30" x2="640.50" y2="173.60" stroke="#e6e6e6" stroke-width="0.6" />
<line x1="650.50" y1="113.30" x2="650.50" y2="173.60" stroke="#e6e6e6" stroke-width="0.6" />
<line x1="660.60" y1="113.30" x2="660.60" y2="173.60" stroke="#e6e6e6" stroke-width="0.6" />
<line x1="670.70" y1="113.30" x2="670.70" y2="173.60" stroke="#e6e6e6" stroke-width="0.6" />
<line x1="680.60" y1="113.30" x2="680.60" y2="173.60" stroke="#e6e6e6" stroke-width="0.6" />
<line x1="639.00" y1="117.20" x2="684.40" y2="117.20" stroke="#ff3b3b" stroke-width="0.9" stroke-dasharray="4,3.7"/>
<line x1="639.00" y1="142.40" x2="684.40" y2="142.40" stroke="#ff3b3b" stroke-width="0.9" stroke-dasharray="4,3.7"/>
<line x1="649.30" y1="123.30" x2="649.30" y2="171.30" stroke="#a9a9a9" stroke-width="2.8" />
<line x1="658.40" y1="123.30" x2="658.40" y2="133.50" stroke="#8080ff" stroke-width="2.8" />
<line x1="666.20" y1="124.40" x2="666.20" y2="150.30" stroke="#a9a9a9" stroke-width="2.8" />
<line x1="674.40" y1="122.90" x2="674.40" y2="136.30" stroke="#8080ff" stroke-width="2.8" />
<line x1="682.80" y1="124.40" x2="682.80" y2="146.00" stroke="#a9a9a9" stroke-width="2.8" />
<circle cx="649.30" cy="123.30" r="1.45" fill="#000" stroke="none" stroke-width="1" />
<circle cx="649.30" cy="171.30" r="1.45" fill="#000" stroke="none" stroke-width="1" />
<circle cx="658.40" cy="123.30" r="1.45" fill="#000" stroke="none" stroke-width="1" />
<circle cx="658.40" cy="133.50" r="1.45" fill="#000" stroke="none" stroke-width="1" />
<circle cx="666.20" cy="124.40" r="1.45" fill="#000" stroke="none" stroke-width="1" />
<circle cx="666.20" cy="150.30" r="1.45" fill="#000" stroke="none" stroke-width="1" />
<circle cx="674.40" cy="122.90" r="1.45" fill="#000" stroke="none" stroke-width="1" />
<circle cx="674.40" cy="136.30" r="1.45" fill="#000" stroke="none" stroke-width="1" />
<circle cx="682.80" cy="124.40" r="1.45" fill="#000" stroke="none" stroke-width="1" />
<circle cx="682.80" cy="146.00" r="1.45" fill="#000" stroke="none" stroke-width="1" />
<rect x="638.50" y="113.30" width="45.90" height="60.30" fill="none" stroke="#777" stroke-width="1.0" />
<line x1="640.50" y1="173.60" x2="640.50" y2="176.40" stroke="#333" stroke-width="0.9" />
<text transform="translate(634.40,178.80) rotate(90)" style="font-size:8.4px" fill="#4d4d4d">0</text>
<line x1="650.50" y1="173.60" x2="650.50" y2="176.40" stroke="#333" stroke-width="0.9" />
<text transform="translate(644.40,178.80) rotate(90)" style="font-size:8.4px" fill="#4d4d4d">25</text>
<line x1="660.60" y1="173.60" x2="660.60" y2="176.40" stroke="#333" stroke-width="0.9" />
<text transform="translate(654.50,178.80) rotate(90)" style="font-size:8.4px" fill="#4d4d4d">50</text>
<line x1="670.70" y1="173.60" x2="670.70" y2="176.40" stroke="#333" stroke-width="0.9" />
<text transform="translate(664.60,178.80) rotate(90)" style="font-size:8.4px" fill="#4d4d4d">75</text>
<line x1="680.60" y1="173.60" x2="680.60" y2="176.40" stroke="#333" stroke-width="0.9" />
<text transform="translate(674.50,178.80) rotate(90)" style="font-size:8.4px" fill="#4d4d4d">100</text>
<rect x="441.70" y="194.60" width="45.90" height="14.60" fill="#696969" stroke="#333" stroke-width="0.8" />
<text x="464.65" y="205.20" style="font-size:8.6px;font-weight:bold;" fill="#fff" text-anchor="middle"  stroke="#fff" stroke-width="0.16">P111</text>
<rect x="441.70" y="210.30" width="45.90" height="60.30" fill="#fff" stroke="none" stroke-width="1" />
<line x1="441.70" y1="218.40" x2="487.60" y2="218.40" stroke="#f3f3f3" stroke-width="0.5" />
<line x1="441.70" y1="235.20" x2="487.60" y2="235.20" stroke="#f3f3f3" stroke-width="0.5" />
<line x1="441.70" y1="252.00" x2="487.60" y2="252.00" stroke="#f3f3f3" stroke-width="0.5" />
<line x1="441.70" y1="268.80" x2="487.60" y2="268.80" stroke="#f3f3f3" stroke-width="0.5" />
<line x1="449.30" y1="210.30" x2="449.30" y2="270.60" stroke="#f3f3f3" stroke-width="0.5" />
<line x1="460.70" y1="210.30" x2="460.70" y2="270.60" stroke="#f3f3f3" stroke-width="0.5" />
<line x1="472.10" y1="210.30" x2="472.10" y2="270.60" stroke="#f3f3f3" stroke-width="0.5" />
<line x1="483.50" y1="210.30" x2="483.50" y2="270.60" stroke="#f3f3f3" stroke-width="0.5" />
<line x1="441.70" y1="226.80" x2="487.60" y2="226.80" stroke="#e6e6e6" stroke-width="0.6" />
<line x1="441.70" y1="243.60" x2="487.60" y2="243.60" stroke="#e6e6e6" stroke-width="0.6" />
<line x1="441.70" y1="260.40" x2="487.60" y2="260.40" stroke="#e6e6e6" stroke-width="0.6" />
<line x1="443.60" y1="210.30" x2="443.60" y2="270.60" stroke="#e6e6e6" stroke-width="0.6" />
<line x1="455.00" y1="210.30" x2="455.00" y2="270.60" stroke="#e6e6e6" stroke-width="0.6" />
<line x1="466.40" y1="210.30" x2="466.40" y2="270.60" stroke="#e6e6e6" stroke-width="0.6" />
<line x1="477.70" y1="210.30" x2="477.70" y2="270.60" stroke="#e6e6e6" stroke-width="0.6" />
<line x1="442.20" y1="214.20" x2="487.60" y2="214.20" stroke="#ff3b3b" stroke-width="0.9" stroke-dasharray="4,3.7"/>
<line x1="442.20" y1="239.40" x2="487.60" y2="239.40" stroke="#ff3b3b" stroke-width="0.9" stroke-dasharray="4,3.7"/>
<line x1="449.20" y1="221.00" x2="449.20" y2="233.30" stroke="#8080ff" stroke-width="2.8" />
<line x1="459.40" y1="221.40" x2="459.40" y2="231.50" stroke="#8080ff" stroke-width="2.8" />
<line x1="467.20" y1="222.50" x2="467.20" y2="233.90" stroke="#8080ff" stroke-width="2.8" />
<line x1="475.60" y1="221.80" x2="475.60" y2="237.00" stroke="#8080ff" stroke-width="2.8" />
<line x1="485.70" y1="220.30" x2="485.70" y2="237.00" stroke="#8080ff" stroke-width="2.8" />
<circle cx="449.20" cy="221.00" r="1.45" fill="#000" stroke="none" stroke-width="1" />
<circle cx="449.20" cy="233.30" r="1.45" fill="#000" stroke="none" stroke-width="1" />
<circle cx="459.40" cy="221.40" r="1.45" fill="#000" stroke="none" stroke-width="1" />
<circle cx="459.40" cy="231.50" r="1.45" fill="#000" stroke="none" stroke-width="1" />
<circle cx="467.20" cy="222.50" r="1.45" fill="#000" stroke="none" stroke-width="1" />
<circle cx="467.20" cy="233.90" r="1.45" fill="#000" stroke="none" stroke-width="1" />
<circle cx="475.60" cy="221.80" r="1.45" fill="#000" stroke="none" stroke-width="1" />
<circle cx="475.60" cy="237.00" r="1.45" fill="#000" stroke="none" stroke-width="1" />
<circle cx="485.70" cy="220.30" r="1.45" fill="#000" stroke="none" stroke-width="1" />
<circle cx="485.70" cy="237.00" r="1.45" fill="#000" stroke="none" stroke-width="1" />
<rect x="441.70" y="210.30" width="45.90" height="60.30" fill="none" stroke="#777" stroke-width="1.0" />
<line x1="443.60" y1="270.60" x2="443.60" y2="273.40" stroke="#333" stroke-width="0.9" />
<text transform="translate(437.50,275.80) rotate(90)" style="font-size:8.4px" fill="#4d4d4d">0</text>
<line x1="455.00" y1="270.60" x2="455.00" y2="273.40" stroke="#333" stroke-width="0.9" />
<text transform="translate(448.90,275.80) rotate(90)" style="font-size:8.4px" fill="#4d4d4d">30</text>
<line x1="466.40" y1="270.60" x2="466.40" y2="273.40" stroke="#333" stroke-width="0.9" />
<text transform="translate(460.30,275.80) rotate(90)" style="font-size:8.4px" fill="#4d4d4d">60</text>
<line x1="477.70" y1="270.60" x2="477.70" y2="273.40" stroke="#333" stroke-width="0.9" />
<text transform="translate(471.60,275.80) rotate(90)" style="font-size:8.4px" fill="#4d4d4d">90</text>
<line x1="438.90" y1="226.80" x2="441.70" y2="226.80" stroke="#333" stroke-width="0.9" />
<text x="436.90" y="229.80" style="font-size:8.4px;" fill="#4d4d4d" text-anchor="end" >0</text>
<line x1="438.90" y1="243.60" x2="441.70" y2="243.60" stroke="#333" stroke-width="0.9" />
<text x="436.90" y="246.60" style="font-size:8.4px;" fill="#4d4d4d" text-anchor="end" >−100</text>
<line x1="438.90" y1="260.40" x2="441.70" y2="260.40" stroke="#333" stroke-width="0.9" />
<text x="436.90" y="263.40" style="font-size:8.4px;" fill="#4d4d4d" text-anchor="end" >−200</text>
<rect x="490.90" y="194.60" width="45.90" height="14.60" fill="#d9d9d9" stroke="#333" stroke-width="0.8" />
<text x="513.85" y="205.20" style="font-size:8.6px;font-weight:bold;" fill="#1a1a1a" text-anchor="middle"  stroke="#1a1a1a" stroke-width="0.16">P112</text>
<rect x="490.90" y="210.30" width="45.90" height="60.30" fill="#fff" stroke="none" stroke-width="1" />
<line x1="490.90" y1="218.40" x2="536.80" y2="218.40" stroke="#f3f3f3" stroke-width="0.5" />
<line x1="490.90" y1="235.20" x2="536.80" y2="235.20" stroke="#f3f3f3" stroke-width="0.5" />
<line x1="490.90" y1="252.00" x2="536.80" y2="252.00" stroke="#f3f3f3" stroke-width="0.5" />
<line x1="490.90" y1="268.80" x2="536.80" y2="268.80" stroke="#f3f3f3" stroke-width="0.5" />
<line x1="498.95" y1="210.30" x2="498.95" y2="270.60" stroke="#f3f3f3" stroke-width="0.5" />
<line x1="511.05" y1="210.30" x2="511.05" y2="270.60" stroke="#f3f3f3" stroke-width="0.5" />
<line x1="523.15" y1="210.30" x2="523.15" y2="270.60" stroke="#f3f3f3" stroke-width="0.5" />
<line x1="535.25" y1="210.30" x2="535.25" y2="270.60" stroke="#f3f3f3" stroke-width="0.5" />
<line x1="490.90" y1="226.80" x2="536.80" y2="226.80" stroke="#e6e6e6" stroke-width="0.6" />
<line x1="490.90" y1="243.60" x2="536.80" y2="243.60" stroke="#e6e6e6" stroke-width="0.6" />
<line x1="490.90" y1="260.40" x2="536.80" y2="260.40" stroke="#e6e6e6" stroke-width="0.6" />
<line x1="492.90" y1="210.30" x2="492.90" y2="270.60" stroke="#e6e6e6" stroke-width="0.6" />
<line x1="505.00" y1="210.30" x2="505.00" y2="270.60" stroke="#e6e6e6" stroke-width="0.6" />
<line x1="517.00" y1="210.30" x2="517.00" y2="270.60" stroke="#e6e6e6" stroke-width="0.6" />
<line x1="529.00" y1="210.30" x2="529.00" y2="270.60" stroke="#e6e6e6" stroke-width="0.6" />
<line x1="491.40" y1="214.20" x2="536.80" y2="214.20" stroke="#ff3b3b" stroke-width="0.9" stroke-dasharray="4,3.7"/>
<line x1="491.40" y1="239.40" x2="536.80" y2="239.40" stroke="#ff3b3b" stroke-width="0.9" stroke-dasharray="4,3.7"/>
<line x1="508.60" y1="221.00" x2="508.60" y2="236.10" stroke="#8080ff" stroke-width="2.8" />
<line x1="535.00" y1="222.00" x2="535.00" y2="241.30" stroke="#a9a9a9" stroke-width="2.8" />
<circle cx="508.60" cy="221.00" r="1.45" fill="#000" stroke="none" stroke-width="1" />
<circle cx="508.60" cy="236.10" r="1.45" fill="#000" stroke="none" stroke-width="1" />
<circle cx="535.00" cy="222.00" r="1.45" fill="#000" stroke="none" stroke-width="1" />
<circle cx="535.00" cy="241.30" r="1.45" fill="#000" stroke="none" stroke-width="1" />
<rect x="490.90" y="210.30" width="45.90" height="60.30" fill="none" stroke="#777" stroke-width="1.0" />
<line x1="492.90" y1="270.60" x2="492.90" y2="273.40" stroke="#333" stroke-width="0.9" />
<text transform="translate(486.80,275.80) rotate(90)" style="font-size:8.4px" fill="#4d4d4d">0</text>
<line x1="505.00" y1="270.60" x2="505.00" y2="273.40" stroke="#333" stroke-width="0.9" />
<text transform="translate(498.90,275.80) rotate(90)" style="font-size:8.4px" fill="#4d4d4d">20</text>
<line x1="517.00" y1="270.60" x2="517.00" y2="273.40" stroke="#333" stroke-width="0.9" />
<text transform="translate(510.90,275.80) rotate(90)" style="font-size:8.4px" fill="#4d4d4d">40</text>
<line x1="529.00" y1="270.60" x2="529.00" y2="273.40" stroke="#333" stroke-width="0.9" />
<text transform="translate(522.90,275.80) rotate(90)" style="font-size:8.4px" fill="#4d4d4d">60</text>
<rect x="540.10" y="194.60" width="45.90" height="14.60" fill="#696969" stroke="#333" stroke-width="0.8" />
<text x="563.05" y="205.20" style="font-size:8.6px;font-weight:bold;" fill="#fff" text-anchor="middle"  stroke="#fff" stroke-width="0.16">P113</text>
<rect x="540.10" y="210.30" width="45.90" height="60.30" fill="#fff" stroke="none" stroke-width="1" />
<line x1="540.10" y1="218.40" x2="586.00" y2="218.40" stroke="#f3f3f3" stroke-width="0.5" />
<line x1="540.10" y1="235.20" x2="586.00" y2="235.20" stroke="#f3f3f3" stroke-width="0.5" />
<line x1="540.10" y1="252.00" x2="586.00" y2="252.00" stroke="#f3f3f3" stroke-width="0.5" />
<line x1="540.10" y1="268.80" x2="586.00" y2="268.80" stroke="#f3f3f3" stroke-width="0.5" />
<line x1="548.80" y1="210.30" x2="548.80" y2="270.60" stroke="#f3f3f3" stroke-width="0.5" />
<line x1="562.20" y1="210.30" x2="562.20" y2="270.60" stroke="#f3f3f3" stroke-width="0.5" />
<line x1="575.60" y1="210.30" x2="575.60" y2="270.60" stroke="#f3f3f3" stroke-width="0.5" />
<line x1="540.10" y1="226.80" x2="586.00" y2="226.80" stroke="#e6e6e6" stroke-width="0.6" />
<line x1="540.10" y1="243.60" x2="586.00" y2="243.60" stroke="#e6e6e6" stroke-width="0.6" />
<line x1="540.10" y1="260.40" x2="586.00" y2="260.40" stroke="#e6e6e6" stroke-width="0.6" />
<line x1="542.10" y1="210.30" x2="542.10" y2="270.60" stroke="#e6e6e6" stroke-width="0.6" />
<line x1="555.50" y1="210.30" x2="555.50" y2="270.60" stroke="#e6e6e6" stroke-width="0.6" />
<line x1="568.90" y1="210.30" x2="568.90" y2="270.60" stroke="#e6e6e6" stroke-width="0.6" />
<line x1="582.40" y1="210.30" x2="582.40" y2="270.60" stroke="#e6e6e6" stroke-width="0.6" />
<line x1="540.60" y1="214.20" x2="586.00" y2="214.20" stroke="#ff3b3b" stroke-width="0.9" stroke-dasharray="4,3.7"/>
<line x1="540.60" y1="239.40" x2="586.00" y2="239.40" stroke="#ff3b3b" stroke-width="0.9" stroke-dasharray="4,3.7"/>
<line x1="548.20" y1="221.40" x2="548.20" y2="238.20" stroke="#8080ff" stroke-width="2.8" />
<line x1="555.60" y1="221.80" x2="555.60" y2="239.30" stroke="#8080ff" stroke-width="2.8" />
<line x1="562.50" y1="221.40" x2="562.50" y2="236.50" stroke="#8080ff" stroke-width="2.8" />
<line x1="569.60" y1="221.40" x2="569.60" y2="231.10" stroke="#8080ff" stroke-width="2.8" />
<line x1="577.20" y1="221.80" x2="577.20" y2="232.80" stroke="#8080ff" stroke-width="2.8" />
<line x1="584.10" y1="221.80" x2="584.10" y2="238.00" stroke="#8080ff" stroke-width="2.8" />
<circle cx="548.20" cy="221.40" r="1.45" fill="#000" stroke="none" stroke-width="1" />
<circle cx="548.20" cy="238.20" r="1.45" fill="#000" stroke="none" stroke-width="1" />
<circle cx="555.60" cy="221.80" r="1.45" fill="#000" stroke="none" stroke-width="1" />
<circle cx="555.60" cy="239.30" r="1.45" fill="#000" stroke="none" stroke-width="1" />
<circle cx="562.50" cy="221.40" r="1.45" fill="#000" stroke="none" stroke-width="1" />
<circle cx="562.50" cy="236.50" r="1.45" fill="#000" stroke="none" stroke-width="1" />
<circle cx="569.60" cy="221.40" r="1.45" fill="#000" stroke="none" stroke-width="1" />
<circle cx="569.60" cy="231.10" r="1.45" fill="#000" stroke="none" stroke-width="1" />
<circle cx="577.20" cy="221.80" r="1.45" fill="#000" stroke="none" stroke-width="1" />
<circle cx="577.20" cy="232.80" r="1.45" fill="#000" stroke="none" stroke-width="1" />
<circle cx="584.10" cy="221.80" r="1.45" fill="#000" stroke="none" stroke-width="1" />
<circle cx="584.10" cy="238.00" r="1.45" fill="#000" stroke="none" stroke-width="1" />
<rect x="540.10" y="210.30" width="45.90" height="60.30" fill="none" stroke="#777" stroke-width="1.0" />
<line x1="542.10" y1="270.60" x2="542.10" y2="273.40" stroke="#333" stroke-width="0.9" />
<text transform="translate(536.00,275.80) rotate(90)" style="font-size:8.4px" fill="#4d4d4d">0</text>
<line x1="555.50" y1="270.60" x2="555.50" y2="273.40" stroke="#333" stroke-width="0.9" />
<text transform="translate(549.40,275.80) rotate(90)" style="font-size:8.4px" fill="#4d4d4d">40</text>
<line x1="568.90" y1="270.60" x2="568.90" y2="273.40" stroke="#333" stroke-width="0.9" />
<text transform="translate(562.80,275.80) rotate(90)" style="font-size:8.4px" fill="#4d4d4d">80</text>
<line x1="582.40" y1="270.60" x2="582.40" y2="273.40" stroke="#333" stroke-width="0.9" />
<text transform="translate(576.30,275.80) rotate(90)" style="font-size:8.4px" fill="#4d4d4d">120</text>
<rect x="589.30" y="194.60" width="45.90" height="14.60" fill="#696969" stroke="#333" stroke-width="0.8" />
<text x="612.25" y="205.20" style="font-size:8.6px;font-weight:bold;" fill="#fff" text-anchor="middle"  stroke="#fff" stroke-width="0.16">P114</text>
<rect x="589.30" y="210.30" width="45.90" height="60.30" fill="#fff" stroke="none" stroke-width="1" />
<line x1="589.30" y1="218.40" x2="635.20" y2="218.40" stroke="#f3f3f3" stroke-width="0.5" />
<line x1="589.30" y1="235.20" x2="635.20" y2="235.20" stroke="#f3f3f3" stroke-width="0.5" />
<line x1="589.30" y1="252.00" x2="635.20" y2="252.00" stroke="#f3f3f3" stroke-width="0.5" />
<line x1="589.30" y1="268.80" x2="635.20" y2="268.80" stroke="#f3f3f3" stroke-width="0.5" />
<line x1="596.50" y1="210.30" x2="596.50" y2="270.60" stroke="#f3f3f3" stroke-width="0.5" />
<line x1="606.50" y1="210.30" x2="606.50" y2="270.60" stroke="#f3f3f3" stroke-width="0.5" />
<line x1="616.50" y1="210.30" x2="616.50" y2="270.60" stroke="#f3f3f3" stroke-width="0.5" />
<line x1="626.50" y1="210.30" x2="626.50" y2="270.60" stroke="#f3f3f3" stroke-width="0.5" />
<line x1="589.30" y1="226.80" x2="635.20" y2="226.80" stroke="#e6e6e6" stroke-width="0.6" />
<line x1="589.30" y1="243.60" x2="635.20" y2="243.60" stroke="#e6e6e6" stroke-width="0.6" />
<line x1="589.30" y1="260.40" x2="635.20" y2="260.40" stroke="#e6e6e6" stroke-width="0.6" />
<line x1="591.50" y1="210.30" x2="591.50" y2="270.60" stroke="#e6e6e6" stroke-width="0.6" />
<line x1="601.50" y1="210.30" x2="601.50" y2="270.60" stroke="#e6e6e6" stroke-width="0.6" />
<line x1="611.50" y1="210.30" x2="611.50" y2="270.60" stroke="#e6e6e6" stroke-width="0.6" />
<line x1="621.50" y1="210.30" x2="621.50" y2="270.60" stroke="#e6e6e6" stroke-width="0.6" />
<line x1="631.50" y1="210.30" x2="631.50" y2="270.60" stroke="#e6e6e6" stroke-width="0.6" />
<line x1="589.80" y1="214.20" x2="635.20" y2="214.20" stroke="#ff3b3b" stroke-width="0.9" stroke-dasharray="4,3.7"/>
<line x1="589.80" y1="239.40" x2="635.20" y2="239.40" stroke="#ff3b3b" stroke-width="0.9" stroke-dasharray="4,3.7"/>
<line x1="599.00" y1="221.40" x2="599.00" y2="237.20" stroke="#8080ff" stroke-width="2.8" />
<line x1="607.60" y1="219.70" x2="607.60" y2="235.00" stroke="#8080ff" stroke-width="2.8" />
<line x1="616.50" y1="220.30" x2="616.50" y2="243.40" stroke="#a9a9a9" stroke-width="2.8" />
<line x1="624.70" y1="220.30" x2="624.70" y2="235.00" stroke="#8080ff" stroke-width="2.8" />
<line x1="633.50" y1="221.40" x2="633.50" y2="236.10" stroke="#8080ff" stroke-width="2.8" />
<circle cx="599.00" cy="221.40" r="1.45" fill="#000" stroke="none" stroke-width="1" />
<circle cx="599.00" cy="237.20" r="1.45" fill="#000" stroke="none" stroke-width="1" />
<circle cx="607.60" cy="219.70" r="1.45" fill="#000" stroke="none" stroke-width="1" />
<circle cx="607.60" cy="235.00" r="1.45" fill="#000" stroke="none" stroke-width="1" />
<circle cx="616.50" cy="220.30" r="1.45" fill="#000" stroke="none" stroke-width="1" />
<circle cx="616.50" cy="243.40" r="1.45" fill="#000" stroke="none" stroke-width="1" />
<circle cx="624.70" cy="220.30" r="1.45" fill="#000" stroke="none" stroke-width="1" />
<circle cx="624.70" cy="235.00" r="1.45" fill="#000" stroke="none" stroke-width="1" />
<circle cx="633.50" cy="221.40" r="1.45" fill="#000" stroke="none" stroke-width="1" />
<circle cx="633.50" cy="236.10" r="1.45" fill="#000" stroke="none" stroke-width="1" />
<rect x="589.30" y="210.30" width="45.90" height="60.30" fill="none" stroke="#777" stroke-width="1.0" />
<line x1="591.50" y1="270.60" x2="591.50" y2="273.40" stroke="#333" stroke-width="0.9" />
<text transform="translate(585.40,275.80) rotate(90)" style="font-size:8.4px" fill="#4d4d4d">0</text>
<line x1="601.50" y1="270.60" x2="601.50" y2="273.40" stroke="#333" stroke-width="0.9" />
<text transform="translate(595.40,275.80) rotate(90)" style="font-size:8.4px" fill="#4d4d4d">25</text>
<line x1="611.50" y1="270.60" x2="611.50" y2="273.40" stroke="#333" stroke-width="0.9" />
<text transform="translate(605.40,275.80) rotate(90)" style="font-size:8.4px" fill="#4d4d4d">50</text>
<line x1="621.50" y1="270.60" x2="621.50" y2="273.40" stroke="#333" stroke-width="0.9" />
<text transform="translate(615.40,275.80) rotate(90)" style="font-size:8.4px" fill="#4d4d4d">75</text>
<line x1="631.50" y1="270.60" x2="631.50" y2="273.40" stroke="#333" stroke-width="0.9" />
<text transform="translate(625.40,275.80) rotate(90)" style="font-size:8.4px" fill="#4d4d4d">100</text>
<rect x="638.50" y="194.60" width="45.90" height="14.60" fill="#d9d9d9" stroke="#333" stroke-width="0.8" />
<text x="661.45" y="205.20" style="font-size:8.6px;font-weight:bold;" fill="#1a1a1a" text-anchor="middle"  stroke="#1a1a1a" stroke-width="0.16">P115</text>
<rect x="638.50" y="210.30" width="45.90" height="60.30" fill="#fff" stroke="none" stroke-width="1" />
<line x1="638.50" y1="218.40" x2="684.40" y2="218.40" stroke="#f3f3f3" stroke-width="0.5" />
<line x1="638.50" y1="235.20" x2="684.40" y2="235.20" stroke="#f3f3f3" stroke-width="0.5" />
<line x1="638.50" y1="252.00" x2="684.40" y2="252.00" stroke="#f3f3f3" stroke-width="0.5" />
<line x1="638.50" y1="268.80" x2="684.40" y2="268.80" stroke="#f3f3f3" stroke-width="0.5" />
<line x1="645.80" y1="210.30" x2="645.80" y2="270.60" stroke="#f3f3f3" stroke-width="0.5" />
<line x1="655.80" y1="210.30" x2="655.80" y2="270.60" stroke="#f3f3f3" stroke-width="0.5" />
<line x1="665.80" y1="210.30" x2="665.80" y2="270.60" stroke="#f3f3f3" stroke-width="0.5" />
<line x1="675.80" y1="210.30" x2="675.80" y2="270.60" stroke="#f3f3f3" stroke-width="0.5" />
<line x1="638.50" y1="226.80" x2="684.40" y2="226.80" stroke="#e6e6e6" stroke-width="0.6" />
<line x1="638.50" y1="243.60" x2="684.40" y2="243.60" stroke="#e6e6e6" stroke-width="0.6" />
<line x1="638.50" y1="260.40" x2="684.40" y2="260.40" stroke="#e6e6e6" stroke-width="0.6" />
<line x1="640.80" y1="210.30" x2="640.80" y2="270.60" stroke="#e6e6e6" stroke-width="0.6" />
<line x1="650.80" y1="210.30" x2="650.80" y2="270.60" stroke="#e6e6e6" stroke-width="0.6" />
<line x1="660.70" y1="210.30" x2="660.70" y2="270.60" stroke="#e6e6e6" stroke-width="0.6" />
<line x1="670.60" y1="210.30" x2="670.60" y2="270.60" stroke="#e6e6e6" stroke-width="0.6" />
<line x1="680.60" y1="210.30" x2="680.60" y2="270.60" stroke="#e6e6e6" stroke-width="0.6" />
<line x1="639.00" y1="214.20" x2="684.40" y2="214.20" stroke="#ff3b3b" stroke-width="0.9" stroke-dasharray="4,3.7"/>
<line x1="639.00" y1="239.40" x2="684.40" y2="239.40" stroke="#ff3b3b" stroke-width="0.9" stroke-dasharray="4,3.7"/>
<line x1="661.60" y1="219.90" x2="661.60" y2="253.10" stroke="#a9a9a9" stroke-width="2.8" />
<line x1="682.80" y1="221.40" x2="682.80" y2="232.20" stroke="#8080ff" stroke-width="2.8" />
<circle cx="661.60" cy="219.90" r="1.45" fill="#000" stroke="none" stroke-width="1" />
<circle cx="661.60" cy="253.10" r="1.45" fill="#000" stroke="none" stroke-width="1" />
<circle cx="682.80" cy="221.40" r="1.45" fill="#000" stroke="none" stroke-width="1" />
<circle cx="682.80" cy="232.20" r="1.45" fill="#000" stroke="none" stroke-width="1" />
<rect x="638.50" y="210.30" width="45.90" height="60.30" fill="none" stroke="#777" stroke-width="1.0" />
<line x1="640.80" y1="270.60" x2="640.80" y2="273.40" stroke="#333" stroke-width="0.9" />
<text transform="translate(634.70,275.80) rotate(90)" style="font-size:8.4px" fill="#4d4d4d">0</text>
<line x1="650.80" y1="270.60" x2="650.80" y2="273.40" stroke="#333" stroke-width="0.9" />
<text transform="translate(644.70,275.80) rotate(90)" style="font-size:8.4px" fill="#4d4d4d">10</text>
<line x1="660.70" y1="270.60" x2="660.70" y2="273.40" stroke="#333" stroke-width="0.9" />
<text transform="translate(654.60,275.80) rotate(90)" style="font-size:8.4px" fill="#4d4d4d">20</text>
<line x1="670.60" y1="270.60" x2="670.60" y2="273.40" stroke="#333" stroke-width="0.9" />
<text transform="translate(664.50,275.80) rotate(90)" style="font-size:8.4px" fill="#4d4d4d">30</text>
<line x1="680.60" y1="270.60" x2="680.60" y2="273.40" stroke="#333" stroke-width="0.9" />
<text transform="translate(674.50,275.80) rotate(90)" style="font-size:8.4px" fill="#4d4d4d">40</text>
<rect x="441.70" y="291.60" width="45.90" height="14.60" fill="#d9d9d9" stroke="#333" stroke-width="0.8" />
<text x="464.65" y="302.20" style="font-size:8.6px;font-weight:bold;" fill="#1a1a1a" text-anchor="middle"  stroke="#1a1a1a" stroke-width="0.16">P117</text>
<rect x="441.70" y="307.30" width="45.90" height="60.30" fill="#fff" stroke="none" stroke-width="1" />
<line x1="441.70" y1="315.40" x2="487.60" y2="315.40" stroke="#f3f3f3" stroke-width="0.5" />
<line x1="441.70" y1="332.20" x2="487.60" y2="332.20" stroke="#f3f3f3" stroke-width="0.5" />
<line x1="441.70" y1="349.00" x2="487.60" y2="349.00" stroke="#f3f3f3" stroke-width="0.5" />
<line x1="441.70" y1="365.80" x2="487.60" y2="365.80" stroke="#f3f3f3" stroke-width="0.5" />
<line x1="450.20" y1="307.30" x2="450.20" y2="367.60" stroke="#f3f3f3" stroke-width="0.5" />
<line x1="463.40" y1="307.30" x2="463.40" y2="367.60" stroke="#f3f3f3" stroke-width="0.5" />
<line x1="476.60" y1="307.30" x2="476.60" y2="367.60" stroke="#f3f3f3" stroke-width="0.5" />
<line x1="441.70" y1="323.80" x2="487.60" y2="323.80" stroke="#e6e6e6" stroke-width="0.6" />
<line x1="441.70" y1="340.60" x2="487.60" y2="340.60" stroke="#e6e6e6" stroke-width="0.6" />
<line x1="441.70" y1="357.40" x2="487.60" y2="357.40" stroke="#e6e6e6" stroke-width="0.6" />
<line x1="443.60" y1="307.30" x2="443.60" y2="367.60" stroke="#e6e6e6" stroke-width="0.6" />
<line x1="456.80" y1="307.30" x2="456.80" y2="367.60" stroke="#e6e6e6" stroke-width="0.6" />
<line x1="470.00" y1="307.30" x2="470.00" y2="367.60" stroke="#e6e6e6" stroke-width="0.6" />
<line x1="483.20" y1="307.30" x2="483.20" y2="367.60" stroke="#e6e6e6" stroke-width="0.6" />
<line x1="442.20" y1="311.20" x2="487.60" y2="311.20" stroke="#ff3b3b" stroke-width="0.9" stroke-dasharray="4,3.7"/>
<line x1="442.20" y1="336.40" x2="487.60" y2="336.40" stroke="#ff3b3b" stroke-width="0.9" stroke-dasharray="4,3.7"/>
<line x1="457.20" y1="319.00" x2="457.20" y2="330.30" stroke="#8080ff" stroke-width="2.8" />
<line x1="471.70" y1="314.50" x2="471.70" y2="346.50" stroke="#a9a9a9" stroke-width="2.8" />
<line x1="485.70" y1="319.00" x2="485.70" y2="333.10" stroke="#8080ff" stroke-width="2.8" />
<circle cx="457.20" cy="319.00" r="1.45" fill="#000" stroke="none" stroke-width="1" />
<circle cx="457.20" cy="330.30" r="1.45" fill="#000" stroke="none" stroke-width="1" />
<circle cx="471.70" cy="314.50" r="1.45" fill="#000" stroke="none" stroke-width="1" />
<circle cx="471.70" cy="346.50" r="1.45" fill="#000" stroke="none" stroke-width="1" />
<circle cx="485.70" cy="319.00" r="1.45" fill="#000" stroke="none" stroke-width="1" />
<circle cx="485.70" cy="333.10" r="1.45" fill="#000" stroke="none" stroke-width="1" />
<rect x="441.70" y="307.30" width="45.90" height="60.30" fill="none" stroke="#777" stroke-width="1.0" />
<line x1="443.60" y1="367.60" x2="443.60" y2="370.40" stroke="#333" stroke-width="0.9" />
<text transform="translate(437.50,372.80) rotate(90)" style="font-size:8.4px" fill="#4d4d4d">0</text>
<line x1="456.80" y1="367.60" x2="456.80" y2="370.40" stroke="#333" stroke-width="0.9" />
<text transform="translate(450.70,372.80) rotate(90)" style="font-size:8.4px" fill="#4d4d4d">20</text>
<line x1="470.00" y1="367.60" x2="470.00" y2="370.40" stroke="#333" stroke-width="0.9" />
<text transform="translate(463.90,372.80) rotate(90)" style="font-size:8.4px" fill="#4d4d4d">40</text>
<line x1="483.20" y1="367.60" x2="483.20" y2="370.40" stroke="#333" stroke-width="0.9" />
<text transform="translate(477.10,372.80) rotate(90)" style="font-size:8.4px" fill="#4d4d4d">60</text>
<line x1="438.90" y1="323.80" x2="441.70" y2="323.80" stroke="#333" stroke-width="0.9" />
<text x="436.90" y="326.80" style="font-size:8.4px;" fill="#4d4d4d" text-anchor="end" >0</text>
<line x1="438.90" y1="340.60" x2="441.70" y2="340.60" stroke="#333" stroke-width="0.9" />
<text x="436.90" y="343.60" style="font-size:8.4px;" fill="#4d4d4d" text-anchor="end" >−100</text>
<line x1="438.90" y1="357.40" x2="441.70" y2="357.40" stroke="#333" stroke-width="0.9" />
<text x="436.90" y="360.40" style="font-size:8.4px;" fill="#4d4d4d" text-anchor="end" >−200</text>
<rect x="490.90" y="291.60" width="45.90" height="14.60" fill="#d9d9d9" stroke="#333" stroke-width="0.8" />
<text x="513.85" y="302.20" style="font-size:8.6px;font-weight:bold;" fill="#1a1a1a" text-anchor="middle"  stroke="#1a1a1a" stroke-width="0.16">P118</text>
<rect x="490.90" y="307.30" width="45.90" height="60.30" fill="#fff" stroke="none" stroke-width="1" />
<line x1="490.90" y1="315.40" x2="536.80" y2="315.40" stroke="#f3f3f3" stroke-width="0.5" />
<line x1="490.90" y1="332.20" x2="536.80" y2="332.20" stroke="#f3f3f3" stroke-width="0.5" />
<line x1="490.90" y1="349.00" x2="536.80" y2="349.00" stroke="#f3f3f3" stroke-width="0.5" />
<line x1="490.90" y1="365.80" x2="536.80" y2="365.80" stroke="#f3f3f3" stroke-width="0.5" />
<line x1="499.55" y1="307.30" x2="499.55" y2="367.60" stroke="#f3f3f3" stroke-width="0.5" />
<line x1="512.85" y1="307.30" x2="512.85" y2="367.60" stroke="#f3f3f3" stroke-width="0.5" />
<line x1="526.15" y1="307.30" x2="526.15" y2="367.60" stroke="#f3f3f3" stroke-width="0.5" />
<line x1="490.90" y1="323.80" x2="536.80" y2="323.80" stroke="#e6e6e6" stroke-width="0.6" />
<line x1="490.90" y1="340.60" x2="536.80" y2="340.60" stroke="#e6e6e6" stroke-width="0.6" />
<line x1="490.90" y1="357.40" x2="536.80" y2="357.40" stroke="#e6e6e6" stroke-width="0.6" />
<line x1="492.90" y1="307.30" x2="492.90" y2="367.60" stroke="#e6e6e6" stroke-width="0.6" />
<line x1="506.20" y1="307.30" x2="506.20" y2="367.60" stroke="#e6e6e6" stroke-width="0.6" />
<line x1="519.50" y1="307.30" x2="519.50" y2="367.60" stroke="#e6e6e6" stroke-width="0.6" />
<line x1="532.80" y1="307.30" x2="532.80" y2="367.60" stroke="#e6e6e6" stroke-width="0.6" />
<line x1="491.40" y1="311.20" x2="536.80" y2="311.20" stroke="#ff3b3b" stroke-width="0.9" stroke-dasharray="4,3.7"/>
<line x1="491.40" y1="336.40" x2="536.80" y2="336.40" stroke="#ff3b3b" stroke-width="0.9" stroke-dasharray="4,3.7"/>
<line x1="505.40" y1="319.00" x2="505.40" y2="339.30" stroke="#a9a9a9" stroke-width="2.8" />
<line x1="520.50" y1="317.30" x2="520.50" y2="332.40" stroke="#8080ff" stroke-width="2.8" />
<line x1="534.80" y1="319.00" x2="534.80" y2="332.40" stroke="#8080ff" stroke-width="2.8" />
<circle cx="505.40" cy="319.00" r="1.45" fill="#000" stroke="none" stroke-width="1" />
<circle cx="505.40" cy="339.30" r="1.45" fill="#000" stroke="none" stroke-width="1" />
<circle cx="520.50" cy="317.30" r="1.45" fill="#000" stroke="none" stroke-width="1" />
<circle cx="520.50" cy="332.40" r="1.45" fill="#000" stroke="none" stroke-width="1" />
<circle cx="534.80" cy="319.00" r="1.45" fill="#000" stroke="none" stroke-width="1" />
<circle cx="534.80" cy="332.40" r="1.45" fill="#000" stroke="none" stroke-width="1" />
<rect x="490.90" y="307.30" width="45.90" height="60.30" fill="none" stroke="#777" stroke-width="1.0" />
<line x1="492.90" y1="367.60" x2="492.90" y2="370.40" stroke="#333" stroke-width="0.9" />
<text transform="translate(486.80,372.80) rotate(90)" style="font-size:8.4px" fill="#4d4d4d">0</text>
<line x1="506.20" y1="367.60" x2="506.20" y2="370.40" stroke="#333" stroke-width="0.9" />
<text transform="translate(500.10,372.80) rotate(90)" style="font-size:8.4px" fill="#4d4d4d">20</text>
<line x1="519.50" y1="367.60" x2="519.50" y2="370.40" stroke="#333" stroke-width="0.9" />
<text transform="translate(513.40,372.80) rotate(90)" style="font-size:8.4px" fill="#4d4d4d">40</text>
<line x1="532.80" y1="367.60" x2="532.80" y2="370.40" stroke="#333" stroke-width="0.9" />
<text transform="translate(526.70,372.80) rotate(90)" style="font-size:8.4px" fill="#4d4d4d">60</text>
<rect x="540.10" y="291.60" width="45.90" height="14.60" fill="#d9d9d9" stroke="#333" stroke-width="0.8" />
<text x="563.05" y="302.20" style="font-size:8.6px;font-weight:bold;" fill="#1a1a1a" text-anchor="middle"  stroke="#1a1a1a" stroke-width="0.16">P119</text>
<rect x="540.10" y="307.30" width="45.90" height="60.30" fill="#fff" stroke="none" stroke-width="1" />
<line x1="540.10" y1="315.40" x2="586.00" y2="315.40" stroke="#f3f3f3" stroke-width="0.5" />
<line x1="540.10" y1="332.20" x2="586.00" y2="332.20" stroke="#f3f3f3" stroke-width="0.5" />
<line x1="540.10" y1="349.00" x2="586.00" y2="349.00" stroke="#f3f3f3" stroke-width="0.5" />
<line x1="540.10" y1="365.80" x2="586.00" y2="365.80" stroke="#f3f3f3" stroke-width="0.5" />
<line x1="549.90" y1="307.30" x2="549.90" y2="367.60" stroke="#f3f3f3" stroke-width="0.5" />
<line x1="565.10" y1="307.30" x2="565.10" y2="367.60" stroke="#f3f3f3" stroke-width="0.5" />
<line x1="580.30" y1="307.30" x2="580.30" y2="367.60" stroke="#f3f3f3" stroke-width="0.5" />
<line x1="540.10" y1="323.80" x2="586.00" y2="323.80" stroke="#e6e6e6" stroke-width="0.6" />
<line x1="540.10" y1="340.60" x2="586.00" y2="340.60" stroke="#e6e6e6" stroke-width="0.6" />
<line x1="540.10" y1="357.40" x2="586.00" y2="357.40" stroke="#e6e6e6" stroke-width="0.6" />
<line x1="542.30" y1="307.30" x2="542.30" y2="367.60" stroke="#e6e6e6" stroke-width="0.6" />
<line x1="557.50" y1="307.30" x2="557.50" y2="367.60" stroke="#e6e6e6" stroke-width="0.6" />
<line x1="572.60" y1="307.30" x2="572.60" y2="367.60" stroke="#e6e6e6" stroke-width="0.6" />
<line x1="540.60" y1="311.20" x2="586.00" y2="311.20" stroke="#ff3b3b" stroke-width="0.9" stroke-dasharray="4,3.7"/>
<line x1="540.60" y1="336.40" x2="586.00" y2="336.40" stroke="#ff3b3b" stroke-width="0.9" stroke-dasharray="4,3.7"/>
<line x1="552.60" y1="316.90" x2="552.60" y2="339.30" stroke="#a9a9a9" stroke-width="2.8" />
<line x1="584.10" y1="315.60" x2="584.10" y2="352.30" stroke="#a9a9a9" stroke-width="2.8" />
<circle cx="552.60" cy="316.90" r="1.45" fill="#000" stroke="none" stroke-width="1" />
<circle cx="552.60" cy="339.30" r="1.45" fill="#000" stroke="none" stroke-width="1" />
<circle cx="584.10" cy="315.60" r="1.45" fill="#000" stroke="none" stroke-width="1" />
<circle cx="584.10" cy="352.30" r="1.45" fill="#000" stroke="none" stroke-width="1" />
<rect x="540.10" y="307.30" width="45.90" height="60.30" fill="none" stroke="#777" stroke-width="1.0" />
<line x1="542.30" y1="367.60" x2="542.30" y2="370.40" stroke="#333" stroke-width="0.9" />
<text transform="translate(536.20,372.80) rotate(90)" style="font-size:8.4px" fill="#4d4d4d">0</text>
<line x1="557.50" y1="367.60" x2="557.50" y2="370.40" stroke="#333" stroke-width="0.9" />
<text transform="translate(551.40,372.80) rotate(90)" style="font-size:8.4px" fill="#4d4d4d">20</text>
<line x1="572.60" y1="367.60" x2="572.60" y2="370.40" stroke="#333" stroke-width="0.9" />
<text transform="translate(566.50,372.80) rotate(90)" style="font-size:8.4px" fill="#4d4d4d">40</text>
<text transform="translate(415.5,187.5) rotate(-90)" style="font-size:10.8px;font-weight:bold" text-anchor="middle" fill="#000">Minutes from Sonication</text>
<text x="543.50" y="397.50" style="font-size:9.08px;font-weight:bold;" fill="#1a1a1a" text-anchor="middle"  stroke="#1a1a1a" stroke-width="0.16">Day of Collection Relative to Surgery (Post-op Day)</text>
<text x="403.60" y="16.80" style="font-size:17.8px;font-weight:bold;" fill="#000" text-anchor="start" stroke="#000" stroke-width="0.6">C</text>
<rect x="590.30" y="302.20" width="10.80" height="11.20" fill="#8080ff" stroke="none" stroke-width="1" />
<rect x="590.30" y="343.90" width="10.80" height="11.20" fill="#a9a9a9" stroke="none" stroke-width="1" />
<text x="603.50" y="305.60" style="font-size:7.66px;font-weight:bold;" fill="#1a1a1a" text-anchor="start"  stroke="#1a1a1a" stroke-width="0.16">Both Collection</text>
<text x="603.50" y="315.10" style="font-size:7.66px;font-weight:bold;" fill="#1a1a1a" text-anchor="start"  stroke="#1a1a1a" stroke-width="0.16">Points Within 75</text>
<text x="603.50" y="324.60" style="font-size:7.66px;font-weight:bold;" fill="#1a1a1a" text-anchor="start"  stroke="#1a1a1a" stroke-width="0.16">Minutes of Sonication</text>
<text x="604.40" y="347.30" style="font-size:7.66px;font-weight:bold;" fill="#1a1a1a" text-anchor="start"  stroke="#1a1a1a" stroke-width="0.16">Collection Points</text>
<text x="604.40" y="356.70" style="font-size:7.66px;font-weight:bold;" fill="#1a1a1a" text-anchor="start"  stroke="#1a1a1a" stroke-width="0.16">Outside of 75</text>
<text x="604.40" y="366.10" style="font-size:7.66px;font-weight:bold;" fill="#1a1a1a" text-anchor="start"  stroke="#1a1a1a" stroke-width="0.16">Minutes of Sonication</text>
<text x="3.60" y="227.80" style="font-size:18.5px;font-weight:bold;" fill="#000" text-anchor="start" stroke="#000" stroke-width="0.6">D</text>
<rect x="34.20" y="216.00" width="139.20" height="17.40" fill="#d9d9d9" stroke="#333" stroke-width="0.7" />
<text x="103.80" y="229.30" style="font-size:12.0px;font-weight:bold;" fill="#1a1a1a" text-anchor="middle" >P113</text>
<rect x="34.20" y="233.40" width="139.20" height="52.60" fill="#fff" stroke="none" stroke-width="1" />
<line x1="51.60" y1="233.40" x2="51.60" y2="286.00" stroke="#f3f3f3" stroke-width="0.5" />
<line x1="86.40" y1="233.40" x2="86.40" y2="286.00" stroke="#f3f3f3" stroke-width="0.5" />
<line x1="121.20" y1="233.40" x2="121.20" y2="286.00" stroke="#f3f3f3" stroke-width="0.5" />
<line x1="156.00" y1="233.40" x2="156.00" y2="286.00" stroke="#f3f3f3" stroke-width="0.5" />
<line x1="34.20" y1="281.50" x2="173.40" y2="281.50" stroke="#f3f3f3" stroke-width="0.5" />
<line x1="34.20" y1="267.70" x2="173.40" y2="267.70" stroke="#f3f3f3" stroke-width="0.5" />
<line x1="34.20" y1="253.90" x2="173.40" y2="253.90" stroke="#f3f3f3" stroke-width="0.5" />
<line x1="34.20" y1="240.10" x2="173.40" y2="240.10" stroke="#f3f3f3" stroke-width="0.5" />
<line x1="69.00" y1="233.40" x2="69.00" y2="286.00" stroke="#e6e6e6" stroke-width="0.6" />
<line x1="103.80" y1="233.40" x2="103.80" y2="286.00" stroke="#e6e6e6" stroke-width="0.6" />
<line x1="138.60" y1="233.40" x2="138.60" y2="286.00" stroke="#e6e6e6" stroke-width="0.6" />
<line x1="34.20" y1="274.60" x2="173.40" y2="274.60" stroke="#e6e6e6" stroke-width="0.6" />
<line x1="34.20" y1="260.80" x2="173.40" y2="260.80" stroke="#e6e6e6" stroke-width="0.6" />
<line x1="34.20" y1="247.00" x2="173.40" y2="247.00" stroke="#e6e6e6" stroke-width="0.6" />
<line x1="82.50" y1="233.40" x2="82.50" y2="286.00" stroke="#4a66c8" stroke-width="1.0" stroke-dasharray="3,2"/>
<line x1="167.10" y1="233.40" x2="167.10" y2="286.00" stroke="#ff4444" stroke-width="0.9" stroke-dasharray="3,2"/>
<circle cx="40.70" cy="235.70" r="2.70" fill="#000" stroke="none" stroke-width="1" />
<circle cx="47.80" cy="273.80" r="2.70" fill="#000" stroke="none" stroke-width="1" />
<circle cx="55.20" cy="267.30" r="2.70" fill="#000" stroke="none" stroke-width="1" />
<circle cx="63.10" cy="283.30" r="2.70" fill="#000" stroke="none" stroke-width="1" />
<circle cx="70.40" cy="276.00" r="2.70" fill="#000" stroke="none" stroke-width="1" />
<circle cx="77.80" cy="252.30" r="2.70" fill="#000" stroke="none" stroke-width="1" />
<circle cx="39.90" cy="274.60" r="2.70" fill="#000" stroke="none" stroke-width="1" />
<circle cx="47.80" cy="274.60" r="2.70" fill="#000" stroke="none" stroke-width="1" />
<circle cx="55.20" cy="257.50" r="2.70" fill="#000" stroke="none" stroke-width="1" />
<circle cx="63.10" cy="275.40" r="2.70" fill="#000" stroke="none" stroke-width="1" />
<circle cx="70.40" cy="274.60" r="2.70" fill="#000" stroke="none" stroke-width="1" />
<circle cx="77.80" cy="264.10" r="2.70" fill="#000" stroke="none" stroke-width="1" />
<polyline points="40.70,235.70 47.80,273.80 55.20,267.30 63.10,283.30 70.40,276.00 77.80,252.30" fill="none" stroke="#c1479e" stroke-width="2.5" stroke-linejoin="round" stroke-linecap="round" />
<polyline points="39.90,274.60 47.80,274.60 55.20,257.50 63.10,275.40 70.40,274.60 77.80,264.10" fill="none" stroke="#2b9aa6" stroke-width="2.5" stroke-linejoin="round" stroke-linecap="round" />
<rect x="34.20" y="233.40" width="139.20" height="52.60" fill="none" stroke="#555" stroke-width="0.7" />
<rect x="93.80" y="237.00" width="8.70" height="10.00" fill="#c1479e" stroke="#333" stroke-width="0.6" />
<rect x="93.80" y="249.10" width="8.70" height="9.80" fill="#2b9aa6" stroke="#333" stroke-width="0.6" />
<text x="106.40" y="245.00" style="font-size:7.5px;font-weight:bold;" fill="#1a1a1a" text-anchor="start"  stroke="#1a1a1a" stroke-width="0.16">Post-Sonication</text>
<text x="107.40" y="256.60" style="font-size:7.5px;font-weight:bold;" fill="#1a1a1a" text-anchor="start"  stroke="#1a1a1a" stroke-width="0.16">Pre-Sonication</text>
<line x1="31.10" y1="274.60" x2="34.20" y2="274.60" stroke="#333" stroke-width="0.9" />
<text x="29.60" y="277.90" style="font-size:9.2px;" fill="#4d4d4d" text-anchor="end" >0.5</text>
<line x1="31.10" y1="260.80" x2="34.20" y2="260.80" stroke="#333" stroke-width="0.9" />
<text x="29.60" y="264.10" style="font-size:9.2px;" fill="#4d4d4d" text-anchor="end" >1.0</text>
<line x1="31.10" y1="247.00" x2="34.20" y2="247.00" stroke="#333" stroke-width="0.9" />
<text x="29.60" y="250.30" style="font-size:9.2px;" fill="#4d4d4d" text-anchor="end" >1.5</text>
<line x1="34.20" y1="286.00" x2="34.20" y2="289.00" stroke="#333" stroke-width="0.9" />
<text x="34.20" y="298.40" style="font-size:9.2px;" fill="#4d4d4d" text-anchor="middle" >0</text>
<line x1="69.00" y1="286.00" x2="69.00" y2="289.00" stroke="#333" stroke-width="0.9" />
<text x="69.00" y="298.40" style="font-size:9.2px;" fill="#4d4d4d" text-anchor="middle" >100</text>
<line x1="103.80" y1="286.00" x2="103.80" y2="289.00" stroke="#333" stroke-width="0.9" />
<text x="103.80" y="298.40" style="font-size:9.2px;" fill="#4d4d4d" text-anchor="middle" >200</text>
<line x1="138.60" y1="286.00" x2="138.60" y2="289.00" stroke="#333" stroke-width="0.9" />
<text x="138.60" y="298.40" style="font-size:9.2px;" fill="#4d4d4d" text-anchor="middle" >300</text>
<line x1="173.40" y1="286.00" x2="173.40" y2="289.00" stroke="#333" stroke-width="0.9" />
<text x="173.40" y="298.40" style="font-size:9.2px;" fill="#4d4d4d" text-anchor="middle" >400</text>
<rect x="34.20" y="305.00" width="139.20" height="16.30" fill="#d9d9d9" stroke="#333" stroke-width="0.7" />
<text x="103.80" y="318.00" style="font-size:12.0px;font-weight:bold;" fill="#1a1a1a" text-anchor="middle" >P117</text>
<rect x="34.20" y="321.30" width="139.20" height="52.50" fill="#fff" stroke="none" stroke-width="1" />
<line x1="39.65" y1="321.30" x2="39.65" y2="373.80" stroke="#f3f3f3" stroke-width="0.5" />
<line x1="74.95" y1="321.30" x2="74.95" y2="373.80" stroke="#f3f3f3" stroke-width="0.5" />
<line x1="110.25" y1="321.30" x2="110.25" y2="373.80" stroke="#f3f3f3" stroke-width="0.5" />
<line x1="145.55" y1="321.30" x2="145.55" y2="373.80" stroke="#f3f3f3" stroke-width="0.5" />
<line x1="34.20" y1="367.95" x2="173.40" y2="367.95" stroke="#f3f3f3" stroke-width="0.5" />
<line x1="34.20" y1="352.45" x2="173.40" y2="352.45" stroke="#f3f3f3" stroke-width="0.5" />
<line x1="34.20" y1="336.95" x2="173.40" y2="336.95" stroke="#f3f3f3" stroke-width="0.5" />
<line x1="57.30" y1="321.30" x2="57.30" y2="373.80" stroke="#e6e6e6" stroke-width="0.6" />
<line x1="92.60" y1="321.30" x2="92.60" y2="373.80" stroke="#e6e6e6" stroke-width="0.6" />
<line x1="127.90" y1="321.30" x2="127.90" y2="373.80" stroke="#e6e6e6" stroke-width="0.6" />
<line x1="163.20" y1="321.30" x2="163.20" y2="373.80" stroke="#e6e6e6" stroke-width="0.6" />
<line x1="34.20" y1="360.20" x2="173.40" y2="360.20" stroke="#e6e6e6" stroke-width="0.6" />
<line x1="34.20" y1="344.70" x2="173.40" y2="344.70" stroke="#e6e6e6" stroke-width="0.6" />
<line x1="34.20" y1="329.20" x2="173.40" y2="329.20" stroke="#e6e6e6" stroke-width="0.6" />
<line x1="95.90" y1="321.30" x2="95.90" y2="373.80" stroke="#4a66c8" stroke-width="1.0" stroke-dasharray="3,2"/>
<line x1="166.80" y1="321.30" x2="166.80" y2="373.80" stroke="#ff4444" stroke-width="0.9" stroke-dasharray="3,2"/>
<circle cx="39.90" cy="368.00" r="2.70" fill="#000" stroke="none" stroke-width="1" />
<circle cx="59.90" cy="359.40" r="2.70" fill="#000" stroke="none" stroke-width="1" />
<circle cx="78.30" cy="336.50" r="2.70" fill="#000" stroke="none" stroke-width="1" />
<circle cx="39.90" cy="371.20" r="2.70" fill="#000" stroke="none" stroke-width="1" />
<circle cx="59.90" cy="343.10" r="2.70" fill="#000" stroke="none" stroke-width="1" />
<circle cx="78.30" cy="323.90" r="2.70" fill="#000" stroke="none" stroke-width="1" />
<polyline points="39.90,368.00 59.90,359.40 78.30,336.50" fill="none" stroke="#c1479e" stroke-width="2.5" stroke-linejoin="round" stroke-linecap="round" />
<polyline points="39.90,371.20 59.90,343.10 78.30,323.90" fill="none" stroke="#2b9aa6" stroke-width="2.5" stroke-linejoin="round" stroke-linecap="round" />
<rect x="34.20" y="321.30" width="139.20" height="52.50" fill="none" stroke="#555" stroke-width="0.7" />
<line x1="31.10" y1="360.20" x2="34.20" y2="360.20" stroke="#333" stroke-width="0.9" />
<text x="29.60" y="363.50" style="font-size:9.2px;" fill="#4d4d4d" text-anchor="end" >1.0</text>
<line x1="31.10" y1="344.70" x2="34.20" y2="344.70" stroke="#333" stroke-width="0.9" />
<text x="29.60" y="348.00" style="font-size:9.2px;" fill="#4d4d4d" text-anchor="end" >1.5</text>
<line x1="31.10" y1="329.20" x2="34.20" y2="329.20" stroke="#333" stroke-width="0.9" />
<text x="29.60" y="332.50" style="font-size:9.2px;" fill="#4d4d4d" text-anchor="end" >2.0</text>
<line x1="57.30" y1="373.80" x2="57.30" y2="376.80" stroke="#333" stroke-width="0.9" />
<text x="57.30" y="386.20" style="font-size:9.2px;" fill="#4d4d4d" text-anchor="middle" >40</text>
<line x1="92.60" y1="373.80" x2="92.60" y2="376.80" stroke="#333" stroke-width="0.9" />
<text x="92.60" y="386.20" style="font-size:9.2px;" fill="#4d4d4d" text-anchor="middle" >80</text>
<line x1="127.90" y1="373.80" x2="127.90" y2="376.80" stroke="#333" stroke-width="0.9" />
<text x="127.90" y="386.20" style="font-size:9.2px;" fill="#4d4d4d" text-anchor="middle" >120</text>
<line x1="163.20" y1="373.80" x2="163.20" y2="376.80" stroke="#333" stroke-width="0.9" />
<text x="163.20" y="386.20" style="font-size:9.2px;" fill="#4d4d4d" text-anchor="middle" >160</text>
<text x="97.10" y="400.50" style="font-size:9.97px;font-weight:bold;" fill="#1a1a1a" text-anchor="middle"  stroke="#1a1a1a" stroke-width="0.16">Post-Op Day</text>
<text transform="translate(12.5,296) rotate(-90)" style="font-size:10.4px;font-weight:bold" text-anchor="middle" fill="#1a1a1a">EVP Conc. (x10<tspan dy="-4" style="font-size:7px">9</tspan><tspan dy="4">)</tspan></text>
<text x="200.80" y="228.20" style="font-size:18.5px;font-weight:bold;" fill="#000" text-anchor="start" stroke="#000" stroke-width="0.6">E</text>
<rect x="230.60" y="208.80" width="162.70" height="172.70" fill="#fff" stroke="none" stroke-width="1" />
<line x1="244.15" y1="208.80" x2="244.15" y2="381.50" stroke="#f3f3f3" stroke-width="0.5" />
<line x1="284.05" y1="208.80" x2="284.05" y2="381.50" stroke="#f3f3f3" stroke-width="0.5" />
<line x1="323.95" y1="208.80" x2="323.95" y2="381.50" stroke="#f3f3f3" stroke-width="0.5" />
<line x1="363.85" y1="208.80" x2="363.85" y2="381.50" stroke="#f3f3f3" stroke-width="0.5" />
<line x1="230.60" y1="357.95" x2="393.30" y2="357.95" stroke="#f3f3f3" stroke-width="0.5" />
<line x1="230.60" y1="331.45" x2="393.30" y2="331.45" stroke="#f3f3f3" stroke-width="0.5" />
<line x1="230.60" y1="304.95" x2="393.30" y2="304.95" stroke="#f3f3f3" stroke-width="0.5" />
<line x1="230.60" y1="278.45" x2="393.30" y2="278.45" stroke="#f3f3f3" stroke-width="0.5" />
<line x1="230.60" y1="251.95" x2="393.30" y2="251.95" stroke="#f3f3f3" stroke-width="0.5" />
<line x1="230.60" y1="225.45" x2="393.30" y2="225.45" stroke="#f3f3f3" stroke-width="0.5" />
<line x1="264.10" y1="208.80" x2="264.10" y2="381.50" stroke="#e6e6e6" stroke-width="0.6" />
<line x1="304.00" y1="208.80" x2="304.00" y2="381.50" stroke="#e6e6e6" stroke-width="0.6" />
<line x1="343.90" y1="208.80" x2="343.90" y2="381.50" stroke="#e6e6e6" stroke-width="0.6" />
<line x1="383.80" y1="208.80" x2="383.80" y2="381.50" stroke="#e6e6e6" stroke-width="0.6" />
<line x1="230.60" y1="371.20" x2="393.30" y2="371.20" stroke="#e6e6e6" stroke-width="0.6" />
<line x1="230.60" y1="344.70" x2="393.30" y2="344.70" stroke="#e6e6e6" stroke-width="0.6" />
<line x1="230.60" y1="318.20" x2="393.30" y2="318.20" stroke="#e6e6e6" stroke-width="0.6" />
<line x1="230.60" y1="291.70" x2="393.30" y2="291.70" stroke="#e6e6e6" stroke-width="0.6" />
<line x1="230.60" y1="265.20" x2="393.30" y2="265.20" stroke="#e6e6e6" stroke-width="0.6" />
<line x1="230.60" y1="238.70" x2="393.30" y2="238.70" stroke="#e6e6e6" stroke-width="0.6" />
<line x1="230.60" y1="212.20" x2="393.30" y2="212.20" stroke="#e6e6e6" stroke-width="0.6" />
<circle cx="354.00" cy="216.70" r="3.20" fill="#e6f598" stroke="#333" stroke-width="0.5" fill-opacity="0.9"/>
<circle cx="343.60" cy="245.40" r="3.20" fill="#9e0142" stroke="#333" stroke-width="0.5" fill-opacity="0.9"/>
<circle cx="339.00" cy="264.50" r="3.20" fill="#9e0142" stroke="#333" stroke-width="0.5" fill-opacity="0.9"/>
<circle cx="368.00" cy="270.00" r="3.20" fill="#5bb6a9" stroke="#333" stroke-width="0.5" fill-opacity="0.9"/>
<circle cx="303.70" cy="305.40" r="3.20" fill="#5e4fa2" stroke="#333" stroke-width="0.5" fill-opacity="0.9"/>
<circle cx="336.40" cy="306.60" r="3.20" fill="#f57a49" stroke="#333" stroke-width="0.5" fill-opacity="0.9"/>
<circle cx="371.40" cy="309.10" r="3.20" fill="#88cfa4" stroke="#333" stroke-width="0.5" fill-opacity="0.9"/>
<circle cx="385.80" cy="312.60" r="3.20" fill="#3288bd" stroke="#333" stroke-width="0.5" fill-opacity="0.9"/>
<circle cx="325.50" cy="316.00" r="3.20" fill="#5060aa" stroke="#333" stroke-width="0.5" fill-opacity="0.9"/>
<circle cx="324.80" cy="313.60" r="3.20" fill="#f88d52" stroke="#333" stroke-width="0.5" fill-opacity="0.9"/>
<circle cx="328.50" cy="314.00" r="3.20" fill="#f7874f" stroke="#333" stroke-width="0.5" fill-opacity="0.9"/>
<circle cx="345.00" cy="318.30" r="3.20" fill="#a90d44" stroke="#333" stroke-width="0.5" fill-opacity="0.9"/>
<circle cx="299.50" cy="320.80" r="3.20" fill="#fa9a58" stroke="#333" stroke-width="0.5" fill-opacity="0.9"/>
<circle cx="283.60" cy="323.00" r="3.20" fill="#66c2a5" stroke="#333" stroke-width="0.5" fill-opacity="0.9"/>
<circle cx="326.50" cy="323.30" r="3.20" fill="#b41947" stroke="#333" stroke-width="0.5" fill-opacity="0.9"/>
<circle cx="320.50" cy="324.50" r="3.20" fill="#51aaae" stroke="#333" stroke-width="0.5" fill-opacity="0.9"/>
<circle cx="287.00" cy="326.70" r="3.20" fill="#fdd682" stroke="#333" stroke-width="0.5" fill-opacity="0.9"/>
<circle cx="256.30" cy="327.20" r="3.20" fill="#3c93b8" stroke="#333" stroke-width="0.5" fill-opacity="0.9"/>
<circle cx="259.50" cy="331.70" r="3.20" fill="#c2e69f" stroke="#333" stroke-width="0.5" fill-opacity="0.9"/>
<circle cx="280.00" cy="331.70" r="3.20" fill="#fee08b" stroke="#333" stroke-width="0.5" fill-opacity="0.9"/>
<circle cx="325.50" cy="327.50" r="3.20" fill="#5e4fa2" stroke="#333" stroke-width="0.5" fill-opacity="0.9"/>
<circle cx="325.30" cy="330.40" r="3.20" fill="#fdbd6d" stroke="#333" stroke-width="0.5" fill-opacity="0.9"/>
<circle cx="337.40" cy="330.20" r="3.20" fill="#fdbd6d" stroke="#333" stroke-width="0.5" fill-opacity="0.9"/>
<circle cx="237.40" cy="335.20" r="3.20" fill="#ceeb9c" stroke="#333" stroke-width="0.5" fill-opacity="0.9"/>
<circle cx="309.60" cy="335.20" r="3.20" fill="#b91f48" stroke="#333" stroke-width="0.5" fill-opacity="0.9"/>
<circle cx="292.00" cy="340.60" r="3.20" fill="#e75a47" stroke="#333" stroke-width="0.5" fill-opacity="0.9"/>
<circle cx="308.60" cy="341.40" r="3.20" fill="#66c2a5" stroke="#333" stroke-width="0.5" fill-opacity="0.9"/>
<path d="M237.3,322.2 L242.3,321.3 L247.2,320.4 L252.2,319.5 L257.1,318.6 L262.1,317.6 L267.0,316.6 L272.0,315.6 L277.0,314.5 L281.9,313.4 L286.9,312.2 L291.8,310.9 L296.8,309.5 L301.7,308.0 L306.7,306.4 L311.6,304.5 L316.6,302.5 L321.6,300.3 L326.5,297.9 L331.5,295.4 L336.4,292.6 L341.4,289.8 L346.3,286.8 L351.3,283.7 L356.3,280.6 L361.2,277.3 L366.2,274.1 L371.1,270.7 L376.1,267.4 L381.0,264.0 L386.0,260.6 L386.0,304.9 L381.0,305.8 L376.1,306.8 L371.1,307.8 L366.2,308.8 L361.2,309.8 L356.3,310.9 L351.3,312.1 L346.3,313.3 L341.4,314.7 L336.4,316.1 L331.5,317.7 L326.5,319.5 L321.6,321.4 L316.6,323.5 L311.6,325.8 L306.7,328.3 L301.7,331.0 L296.8,333.8 L291.8,336.7 L286.9,339.8 L281.9,342.9 L277.0,346.1 L272.0,349.3 L267.0,352.6 L262.1,356.0 L257.1,359.3 L252.2,362.7 L247.2,366.1 L242.3,369.6 L237.3,373.0Z" fill="#999999" stroke="none" stroke-width="1" fill-opacity="0.3"/>
<line x1="237.30" y1="347.60" x2="386.00" y2="282.77" stroke="#000" stroke-width="1.9" />
<rect x="230.60" y="208.80" width="162.70" height="172.70" fill="none" stroke="#555" stroke-width="0.7" />
<defs><linearGradient id="spg" x1="0" x2="1" y1="0" y2="0"><stop offset="0.0" stop-color="#9e0142"/><stop offset="0.1" stop-color="#d53e4f"/><stop offset="0.2" stop-color="#f46d43"/><stop offset="0.3" stop-color="#fdae61"/><stop offset="0.4" stop-color="#fee08b"/><stop offset="0.5" stop-color="#ffffbf"/><stop offset="0.6" stop-color="#e6f598"/><stop offset="0.7" stop-color="#abdda4"/><stop offset="0.8" stop-color="#66c2a5"/><stop offset="0.9" stop-color="#3288bd"/><stop offset="1.0" stop-color="#5e4fa2"/></linearGradient></defs>
<rect x="237.40" y="214.40" width="62.60" height="37.00" fill="#e3e3e3" stroke="#999" stroke-width="0.7" stroke-dasharray="2,1.5"/>
<text x="268.70" y="222.60" style="font-size:8.5px;font-weight:bold;" fill="#1a1a1a" text-anchor="middle"  stroke="#1a1a1a" stroke-width="0.16">Post-Op Day</text>
<rect x="240.30" y="227.40" width="57.60" height="13.60" fill="url(#spg)" stroke="none" stroke-width="1" />
<line x1="245.40" y1="238.50" x2="245.40" y2="241.00" stroke="#fff" stroke-width="0.6" />
<text x="245.40" y="248.40" style="font-size:7.2px;font-weight:bold;" fill="#1a1a1a" text-anchor="middle"  stroke="#1a1a1a" stroke-width="0.16">25</text>
<line x1="269.00" y1="238.50" x2="269.00" y2="241.00" stroke="#fff" stroke-width="0.6" />
<text x="269.00" y="248.40" style="font-size:7.2px;font-weight:bold;" fill="#1a1a1a" text-anchor="middle"  stroke="#1a1a1a" stroke-width="0.16">75</text>
<line x1="292.50" y1="238.50" x2="292.50" y2="241.00" stroke="#fff" stroke-width="0.6" />
<text x="292.50" y="248.40" style="font-size:7.2px;font-weight:bold;" fill="#1a1a1a" text-anchor="middle"  stroke="#1a1a1a" stroke-width="0.16">125</text>
<line x1="228.20" y1="371.20" x2="230.60" y2="371.20" stroke="#333" stroke-width="0.6" />
<text x="227.40" y="373.70" style="font-size:7.0px;" fill="#4d4d4d" text-anchor="end" >−1</text>
<line x1="228.20" y1="344.70" x2="230.60" y2="344.70" stroke="#333" stroke-width="0.6" />
<text x="227.40" y="347.20" style="font-size:7.0px;" fill="#4d4d4d" text-anchor="end" >0</text>
<line x1="228.20" y1="318.20" x2="230.60" y2="318.20" stroke="#333" stroke-width="0.6" />
<text x="227.40" y="320.70" style="font-size:7.0px;" fill="#4d4d4d" text-anchor="end" >1</text>
<line x1="228.20" y1="291.70" x2="230.60" y2="291.70" stroke="#333" stroke-width="0.6" />
<text x="227.40" y="294.20" style="font-size:7.0px;" fill="#4d4d4d" text-anchor="end" >2</text>
<line x1="228.20" y1="265.20" x2="230.60" y2="265.20" stroke="#333" stroke-width="0.6" />
<text x="227.40" y="267.70" style="font-size:7.0px;" fill="#4d4d4d" text-anchor="end" >3</text>
<line x1="228.20" y1="238.70" x2="230.60" y2="238.70" stroke="#333" stroke-width="0.6" />
<text x="227.40" y="241.20" style="font-size:7.0px;" fill="#4d4d4d" text-anchor="end" >4</text>
<line x1="228.20" y1="212.20" x2="230.60" y2="212.20" stroke="#333" stroke-width="0.6" />
<text x="227.40" y="214.70" style="font-size:7.0px;" fill="#4d4d4d" text-anchor="end" >5</text>
<line x1="264.10" y1="381.50" x2="264.10" y2="383.90" stroke="#333" stroke-width="0.6" />
<text x="264.10" y="391.10" style="font-size:7.0px;" fill="#4d4d4d" text-anchor="middle" >0</text>
<line x1="304.00" y1="381.50" x2="304.00" y2="383.90" stroke="#333" stroke-width="0.6" />
<text x="304.00" y="391.10" style="font-size:7.0px;" fill="#4d4d4d" text-anchor="middle" >1</text>
<line x1="343.90" y1="381.50" x2="343.90" y2="383.90" stroke="#333" stroke-width="0.6" />
<text x="343.90" y="391.10" style="font-size:7.0px;" fill="#4d4d4d" text-anchor="middle" >2</text>
<line x1="383.80" y1="381.50" x2="383.80" y2="383.90" stroke="#333" stroke-width="0.6" />
<text x="383.80" y="391.10" style="font-size:7.0px;" fill="#4d4d4d" text-anchor="middle" >3</text>
<text x="318.80" y="400.00" style="font-size:10.3px;font-weight:bold;" fill="#1a1a1a" text-anchor="middle"  stroke="#1a1a1a" stroke-width="0.16">MRI Enhancement (log)</text>
<text transform="translate(202.8,298.8) rotate(-90)" style="font-size:10.5px;font-weight:bold" text-anchor="middle" fill="#1a1a1a">Post/Pre LIPU/MB</text>
<text transform="translate(214.4,298.2) rotate(-90)" style="font-size:10.5px;font-weight:bold" text-anchor="middle" fill="#1a1a1a">EVP Conc. Ratio</text>
<text x="344.50" y="365.00" style="font-size:8.4px;font-weight:bold;" fill="#1a1a1a" text-anchor="start"  stroke="#1a1a1a" stroke-width="0.16">p = 0.005</text>
<text x="344.50" y="375.30" style="font-size:8.4px;font-weight:bold;" fill="#1a1a1a" text-anchor="start"  stroke="#1a1a1a" stroke-width="0.16">r = 0.521</text>
<text x="4.50" y="420.50" style="font-size:18.5px;font-weight:bold;" fill="#000" text-anchor="start" stroke="#000" stroke-width="0.6">F</text>
<rect x="48.40" y="432.30" width="114.10" height="68.90" fill="#fff" stroke="none" stroke-width="1" />
<line x1="48.40" y1="443.10" x2="162.50" y2="443.10" stroke="#f3f3f3" stroke-width="0.5" />
<line x1="48.40" y1="458.90" x2="162.50" y2="458.90" stroke="#f3f3f3" stroke-width="0.5" />
<line x1="48.40" y1="474.70" x2="162.50" y2="474.70" stroke="#f3f3f3" stroke-width="0.5" />
<line x1="48.40" y1="490.50" x2="162.50" y2="490.50" stroke="#f3f3f3" stroke-width="0.5" />
<line x1="76.10" y1="432.30" x2="76.10" y2="501.20" stroke="#f3f3f3" stroke-width="0.5" />
<line x1="108.70" y1="432.30" x2="108.70" y2="501.20" stroke="#f3f3f3" stroke-width="0.5" />
<line x1="141.30" y1="432.30" x2="141.30" y2="501.20" stroke="#f3f3f3" stroke-width="0.5" />
<line x1="48.40" y1="435.20" x2="162.50" y2="435.20" stroke="#e6e6e6" stroke-width="0.6" />
<line x1="48.40" y1="451.00" x2="162.50" y2="451.00" stroke="#e6e6e6" stroke-width="0.6" />
<line x1="48.40" y1="466.80" x2="162.50" y2="466.80" stroke="#e6e6e6" stroke-width="0.6" />
<line x1="48.40" y1="482.60" x2="162.50" y2="482.60" stroke="#e6e6e6" stroke-width="0.6" />
<line x1="48.40" y1="498.40" x2="162.50" y2="498.40" stroke="#e6e6e6" stroke-width="0.6" />
<line x1="59.80" y1="432.30" x2="59.80" y2="501.20" stroke="#e6e6e6" stroke-width="0.6" />
<line x1="92.40" y1="432.30" x2="92.40" y2="501.20" stroke="#e6e6e6" stroke-width="0.6" />
<line x1="125.00" y1="432.30" x2="125.00" y2="501.20" stroke="#e6e6e6" stroke-width="0.6" />
<line x1="157.60" y1="432.30" x2="157.60" y2="501.20" stroke="#e6e6e6" stroke-width="0.6" />
<polyline points="83.60,494.50 110.00,498.80 126.60,498.00 141.00,434.70" fill="none" stroke="#a8a8a8" stroke-width="2.2" stroke-linejoin="round" stroke-linecap="round" />
<polyline points="69.00,483.10 83.60,488.30 110.00,498.80 126.60,474.90 141.00,455.10 155.10,434.70" fill="none" stroke="#f7a21b" stroke-width="2.3" stroke-linejoin="round" stroke-linecap="round" />
<circle cx="83.60" cy="494.50" r="1.80" fill="#000" stroke="none" stroke-width="1" />
<circle cx="110.00" cy="498.80" r="1.80" fill="#000" stroke="none" stroke-width="1" />
<circle cx="126.60" cy="498.00" r="1.80" fill="#000" stroke="none" stroke-width="1" />
<circle cx="141.00" cy="434.70" r="1.80" fill="#000" stroke="none" stroke-width="1" />
<circle cx="69.00" cy="483.10" r="1.80" fill="#000" stroke="none" stroke-width="1" />
<circle cx="83.60" cy="488.30" r="2.10" fill="#f8b84e" stroke="#1a1a1a" stroke-width="0.8" />
<circle cx="110.00" cy="498.80" r="1.80" fill="#000" stroke="none" stroke-width="1" />
<circle cx="126.60" cy="474.90" r="2.10" fill="#f8b84e" stroke="#1a1a1a" stroke-width="0.8" />
<circle cx="141.00" cy="455.10" r="2.10" fill="#f8b84e" stroke="#1a1a1a" stroke-width="0.8" />
<circle cx="155.10" cy="434.70" r="1.80" fill="#000" stroke="none" stroke-width="1" />
<rect x="48.40" y="432.30" width="114.10" height="68.90" fill="none" stroke="#9a9a9a" stroke-width="0.8" />
<rect x="48.40" y="413.60" width="114.10" height="18.70" fill="#676767" stroke="#333" stroke-width="0.8" />
<text x="105.45" y="427.30" style="font-size:11.7px;font-weight:bold;" fill="#fff" text-anchor="middle"  stroke="#fff" stroke-width="0.16">P105</text>
<line x1="44.90" y1="435.20" x2="48.40" y2="435.20" stroke="#333" stroke-width="0.9" />
<text x="43.00" y="438.60" style="font-size:9.4px;" fill="#4d4d4d" text-anchor="end" >1.0</text>
<line x1="44.90" y1="451.00" x2="48.40" y2="451.00" stroke="#333" stroke-width="0.9" />
<text x="43.00" y="454.40" style="font-size:9.4px;" fill="#4d4d4d" text-anchor="end" >0.8</text>
<line x1="44.90" y1="466.80" x2="48.40" y2="466.80" stroke="#333" stroke-width="0.9" />
<text x="43.00" y="470.20" style="font-size:9.4px;" fill="#4d4d4d" text-anchor="end" >0.6</text>
<line x1="44.90" y1="482.60" x2="48.40" y2="482.60" stroke="#333" stroke-width="0.9" />
<text x="43.00" y="486.00" style="font-size:9.4px;" fill="#4d4d4d" text-anchor="end" >0.4</text>
<line x1="44.90" y1="498.40" x2="48.40" y2="498.40" stroke="#333" stroke-width="0.9" />
<text x="43.00" y="501.80" style="font-size:9.4px;" fill="#4d4d4d" text-anchor="end" >0.2</text>
<line x1="59.80" y1="501.20" x2="59.80" y2="504.40" stroke="#333" stroke-width="0.9" />
<line x1="92.40" y1="501.20" x2="92.40" y2="504.40" stroke="#333" stroke-width="0.9" />
<line x1="125.00" y1="501.20" x2="125.00" y2="504.40" stroke="#333" stroke-width="0.9" />
<line x1="157.60" y1="501.20" x2="157.60" y2="504.40" stroke="#333" stroke-width="0.9" />
<rect x="193.50" y="432.30" width="112.90" height="68.90" fill="#fff" stroke="none" stroke-width="1" />
<line x1="193.50" y1="444.85" x2="306.40" y2="444.85" stroke="#f3f3f3" stroke-width="0.5" />
<line x1="193.50" y1="464.15" x2="306.40" y2="464.15" stroke="#f3f3f3" stroke-width="0.5" />
<line x1="193.50" y1="483.45" x2="306.40" y2="483.45" stroke="#f3f3f3" stroke-width="0.5" />
<line x1="220.42" y1="432.30" x2="220.42" y2="501.20" stroke="#f3f3f3" stroke-width="0.5" />
<line x1="252.85" y1="432.30" x2="252.85" y2="501.20" stroke="#f3f3f3" stroke-width="0.5" />
<line x1="285.29" y1="432.30" x2="285.29" y2="501.20" stroke="#f3f3f3" stroke-width="0.5" />
<line x1="193.50" y1="435.20" x2="306.40" y2="435.20" stroke="#e6e6e6" stroke-width="0.6" />
<line x1="193.50" y1="454.50" x2="306.40" y2="454.50" stroke="#e6e6e6" stroke-width="0.6" />
<line x1="193.50" y1="473.80" x2="306.40" y2="473.80" stroke="#e6e6e6" stroke-width="0.6" />
<line x1="193.50" y1="493.10" x2="306.40" y2="493.10" stroke="#e6e6e6" stroke-width="0.6" />
<line x1="204.20" y1="432.30" x2="204.20" y2="501.20" stroke="#e6e6e6" stroke-width="0.6" />
<line x1="236.63" y1="432.30" x2="236.63" y2="501.20" stroke="#e6e6e6" stroke-width="0.6" />
<line x1="269.07" y1="432.30" x2="269.07" y2="501.20" stroke="#e6e6e6" stroke-width="0.6" />
<line x1="301.50" y1="432.30" x2="301.50" y2="501.20" stroke="#e6e6e6" stroke-width="0.6" />
<polyline points="213.30,434.70 240.60,498.80 250.60,491.80 267.40,478.20 281.10,481.40" fill="none" stroke="#a8a8a8" stroke-width="2.2" stroke-linejoin="round" stroke-linecap="round" />
<polyline points="213.30,491.10 240.60,491.30 250.60,491.80 267.40,463.30 281.10,441.40 285.30,434.70" fill="none" stroke="#f7a21b" stroke-width="2.3" stroke-linejoin="round" stroke-linecap="round" />
<circle cx="213.30" cy="434.70" r="1.80" fill="#000" stroke="none" stroke-width="1" />
<circle cx="240.60" cy="498.80" r="1.80" fill="#000" stroke="none" stroke-width="1" />
<circle cx="250.60" cy="491.80" r="1.80" fill="#000" stroke="none" stroke-width="1" />
<circle cx="267.40" cy="478.20" r="1.80" fill="#000" stroke="none" stroke-width="1" />
<circle cx="281.10" cy="481.40" r="1.80" fill="#000" stroke="none" stroke-width="1" />
<circle cx="213.30" cy="491.10" r="1.80" fill="#000" stroke="none" stroke-width="1" />
<circle cx="240.60" cy="491.30" r="2.10" fill="#f8b84e" stroke="#1a1a1a" stroke-width="0.8" />
<circle cx="250.60" cy="491.80" r="1.80" fill="#000" stroke="none" stroke-width="1" />
<circle cx="267.40" cy="463.30" r="2.10" fill="#f8b84e" stroke="#1a1a1a" stroke-width="0.8" />
<circle cx="281.10" cy="441.40" r="2.10" fill="#f8b84e" stroke="#1a1a1a" stroke-width="0.8" />
<circle cx="285.30" cy="434.70" r="1.80" fill="#000" stroke="none" stroke-width="1" />
<rect x="193.50" y="432.30" width="112.90" height="68.90" fill="none" stroke="#9a9a9a" stroke-width="0.8" />
<rect x="193.50" y="413.60" width="112.90" height="18.70" fill="#676767" stroke="#333" stroke-width="0.8" />
<text x="249.95" y="427.30" style="font-size:11.7px;font-weight:bold;" fill="#fff" text-anchor="middle"  stroke="#fff" stroke-width="0.16">P106</text>
<line x1="190.00" y1="435.20" x2="193.50" y2="435.20" stroke="#333" stroke-width="0.9" />
<text x="188.10" y="438.60" style="font-size:9.4px;" fill="#4d4d4d" text-anchor="end" >1.00</text>
<line x1="190.00" y1="454.50" x2="193.50" y2="454.50" stroke="#333" stroke-width="0.9" />
<text x="188.10" y="457.90" style="font-size:9.4px;" fill="#4d4d4d" text-anchor="end" >0.75</text>
<line x1="190.00" y1="473.80" x2="193.50" y2="473.80" stroke="#333" stroke-width="0.9" />
<text x="188.10" y="477.20" style="font-size:9.4px;" fill="#4d4d4d" text-anchor="end" >0.50</text>
<line x1="190.00" y1="493.10" x2="193.50" y2="493.10" stroke="#333" stroke-width="0.9" />
<text x="188.10" y="496.50" style="font-size:9.4px;" fill="#4d4d4d" text-anchor="end" >0.25</text>
<line x1="204.20" y1="501.20" x2="204.20" y2="504.40" stroke="#333" stroke-width="0.9" />
<line x1="236.63" y1="501.20" x2="236.63" y2="504.40" stroke="#333" stroke-width="0.9" />
<line x1="269.07" y1="501.20" x2="269.07" y2="504.40" stroke="#333" stroke-width="0.9" />
<line x1="301.50" y1="501.20" x2="301.50" y2="504.40" stroke="#333" stroke-width="0.9" />
<rect x="338.00" y="432.30" width="113.40" height="69.40" fill="#fff" stroke="none" stroke-width="1" />
<line x1="338.00" y1="496.05" x2="451.40" y2="496.05" stroke="#f3f3f3" stroke-width="0.5" />
<line x1="338.00" y1="444.15" x2="451.40" y2="444.15" stroke="#f3f3f3" stroke-width="0.5" />
<line x1="338.00" y1="461.45" x2="451.40" y2="461.45" stroke="#f3f3f3" stroke-width="0.5" />
<line x1="338.00" y1="478.75" x2="451.40" y2="478.75" stroke="#f3f3f3" stroke-width="0.5" />
<line x1="338.00" y1="496.05" x2="451.40" y2="496.05" stroke="#f3f3f3" stroke-width="0.5" />
<line x1="365.53" y1="432.30" x2="365.53" y2="501.70" stroke="#f3f3f3" stroke-width="0.5" />
<line x1="397.98" y1="432.30" x2="397.98" y2="501.70" stroke="#f3f3f3" stroke-width="0.5" />
<line x1="430.43" y1="432.30" x2="430.43" y2="501.70" stroke="#f3f3f3" stroke-width="0.5" />
<line x1="338.00" y1="435.50" x2="451.40" y2="435.50" stroke="#e6e6e6" stroke-width="0.6" />
<line x1="338.00" y1="452.80" x2="451.40" y2="452.80" stroke="#e6e6e6" stroke-width="0.6" />
<line x1="338.00" y1="470.10" x2="451.40" y2="470.10" stroke="#e6e6e6" stroke-width="0.6" />
<line x1="338.00" y1="487.40" x2="451.40" y2="487.40" stroke="#e6e6e6" stroke-width="0.6" />
<line x1="349.30" y1="432.30" x2="349.30" y2="501.70" stroke="#e6e6e6" stroke-width="0.6" />
<line x1="381.75" y1="432.30" x2="381.75" y2="501.70" stroke="#e6e6e6" stroke-width="0.6" />
<line x1="414.20" y1="432.30" x2="414.20" y2="501.70" stroke="#e6e6e6" stroke-width="0.6" />
<line x1="446.65" y1="432.30" x2="446.65" y2="501.70" stroke="#e6e6e6" stroke-width="0.6" />
<polyline points="360.30,499.80 374.90,487.30 402.20,435.20 415.60,464.00" fill="none" stroke="#a8a8a8" stroke-width="2.2" stroke-linejoin="round" stroke-linecap="round" />
<polyline points="360.30,489.30 374.90,480.10 396.80,466.30 402.20,458.80 415.60,440.20 419.10,435.20" fill="none" stroke="#f7a21b" stroke-width="2.3" stroke-linejoin="round" stroke-linecap="round" />
<circle cx="360.30" cy="499.80" r="1.80" fill="#000" stroke="none" stroke-width="1" />
<circle cx="374.90" cy="487.30" r="1.80" fill="#000" stroke="none" stroke-width="1" />
<circle cx="402.20" cy="435.20" r="1.80" fill="#000" stroke="none" stroke-width="1" />
<circle cx="415.60" cy="464.00" r="1.80" fill="#000" stroke="none" stroke-width="1" />
<circle cx="360.30" cy="489.30" r="1.80" fill="#000" stroke="none" stroke-width="1" />
<circle cx="374.90" cy="480.10" r="2.10" fill="#f8b84e" stroke="#1a1a1a" stroke-width="0.8" />
<circle cx="396.80" cy="466.30" r="1.80" fill="#000" stroke="none" stroke-width="1" />
<circle cx="402.20" cy="458.80" r="2.10" fill="#f8b84e" stroke="#1a1a1a" stroke-width="0.8" />
<circle cx="415.60" cy="440.20" r="2.10" fill="#f8b84e" stroke="#1a1a1a" stroke-width="0.8" />
<circle cx="419.10" cy="435.20" r="1.80" fill="#000" stroke="none" stroke-width="1" />
<rect x="338.00" y="432.30" width="113.40" height="69.40" fill="none" stroke="#000" stroke-width="1.6" />
<rect x="338.00" y="413.60" width="113.40" height="18.70" fill="#f7a21b" stroke="#000" stroke-width="1.6" />
<text x="394.70" y="427.30" style="font-size:11.7px;font-weight:bold;" fill="#000" text-anchor="middle"  stroke="#000" stroke-width="0.16">P114</text>
<line x1="334.50" y1="435.50" x2="338.00" y2="435.50" stroke="#333" stroke-width="0.9" />
<text x="332.60" y="438.90" style="font-size:9.4px;" fill="#4d4d4d" text-anchor="end" >1.00</text>
<line x1="334.50" y1="452.80" x2="338.00" y2="452.80" stroke="#333" stroke-width="0.9" />
<text x="332.60" y="456.20" style="font-size:9.4px;" fill="#4d4d4d" text-anchor="end" >0.75</text>
<line x1="334.50" y1="470.10" x2="338.00" y2="470.10" stroke="#333" stroke-width="0.9" />
<text x="332.60" y="473.50" style="font-size:9.4px;" fill="#4d4d4d" text-anchor="end" >0.50</text>
<line x1="334.50" y1="487.40" x2="338.00" y2="487.40" stroke="#333" stroke-width="0.9" />
<text x="332.60" y="490.80" style="font-size:9.4px;" fill="#4d4d4d" text-anchor="end" >0.25</text>
<line x1="349.30" y1="501.70" x2="349.30" y2="504.90" stroke="#333" stroke-width="0.9" />
<line x1="381.75" y1="501.70" x2="381.75" y2="504.90" stroke="#333" stroke-width="0.9" />
<line x1="414.20" y1="501.70" x2="414.20" y2="504.90" stroke="#333" stroke-width="0.9" />
<line x1="446.65" y1="501.70" x2="446.65" y2="504.90" stroke="#333" stroke-width="0.9" />
<rect x="48.40" y="527.30" width="114.10" height="69.50" fill="#fff" stroke="none" stroke-width="1" />
<line x1="48.40" y1="538.45" x2="162.50" y2="538.45" stroke="#f3f3f3" stroke-width="0.5" />
<line x1="48.40" y1="554.75" x2="162.50" y2="554.75" stroke="#f3f3f3" stroke-width="0.5" />
<line x1="48.40" y1="571.05" x2="162.50" y2="571.05" stroke="#f3f3f3" stroke-width="0.5" />
<line x1="48.40" y1="587.35" x2="162.50" y2="587.35" stroke="#f3f3f3" stroke-width="0.5" />
<line x1="76.10" y1="527.30" x2="76.10" y2="596.80" stroke="#f3f3f3" stroke-width="0.5" />
<line x1="108.70" y1="527.30" x2="108.70" y2="596.80" stroke="#f3f3f3" stroke-width="0.5" />
<line x1="141.30" y1="527.30" x2="141.30" y2="596.80" stroke="#f3f3f3" stroke-width="0.5" />
<line x1="48.40" y1="530.30" x2="162.50" y2="530.30" stroke="#e6e6e6" stroke-width="0.6" />
<line x1="48.40" y1="546.60" x2="162.50" y2="546.60" stroke="#e6e6e6" stroke-width="0.6" />
<line x1="48.40" y1="562.90" x2="162.50" y2="562.90" stroke="#e6e6e6" stroke-width="0.6" />
<line x1="48.40" y1="579.20" x2="162.50" y2="579.20" stroke="#e6e6e6" stroke-width="0.6" />
<line x1="48.40" y1="595.50" x2="162.50" y2="595.50" stroke="#e6e6e6" stroke-width="0.6" />
<line x1="59.80" y1="527.30" x2="59.80" y2="596.80" stroke="#e6e6e6" stroke-width="0.6" />
<line x1="92.40" y1="527.30" x2="92.40" y2="596.80" stroke="#e6e6e6" stroke-width="0.6" />
<line x1="125.00" y1="527.30" x2="125.00" y2="596.80" stroke="#e6e6e6" stroke-width="0.6" />
<line x1="157.60" y1="527.30" x2="157.60" y2="596.80" stroke="#e6e6e6" stroke-width="0.6" />
<polyline points="71.20,530.30 85.10,574.40 99.30,583.10 112.90,588.80 127.30,580.90 141.00,569.50" fill="none" stroke="#a8a8a8" stroke-width="2.2" stroke-linejoin="round" stroke-linecap="round" />
<polyline points="71.20,530.30 85.10,555.10 99.30,579.40 107.90,594.30 112.90,591.30 127.30,580.90 141.00,571.50 149.40,565.80" fill="none" stroke="#f7a21b" stroke-width="2.3" stroke-linejoin="round" stroke-linecap="round" />
<circle cx="71.20" cy="530.30" r="1.80" fill="#000" stroke="none" stroke-width="1" />
<circle cx="85.10" cy="574.40" r="1.80" fill="#000" stroke="none" stroke-width="1" />
<circle cx="99.30" cy="583.10" r="1.80" fill="#000" stroke="none" stroke-width="1" />
<circle cx="112.90" cy="588.80" r="1.80" fill="#000" stroke="none" stroke-width="1" />
<circle cx="127.30" cy="580.90" r="1.80" fill="#000" stroke="none" stroke-width="1" />
<circle cx="141.00" cy="569.50" r="1.80" fill="#000" stroke="none" stroke-width="1" />
<circle cx="71.20" cy="530.30" r="1.80" fill="#000" stroke="none" stroke-width="1" />
<circle cx="85.10" cy="555.10" r="2.10" fill="#f8b84e" stroke="#1a1a1a" stroke-width="0.8" />
<circle cx="99.30" cy="579.40" r="2.10" fill="#f8b84e" stroke="#1a1a1a" stroke-width="0.8" />
<circle cx="107.90" cy="594.30" r="1.80" fill="#000" stroke="none" stroke-width="1" />
<circle cx="112.90" cy="591.30" r="2.10" fill="#f8b84e" stroke="#1a1a1a" stroke-width="0.8" />
<circle cx="127.30" cy="580.90" r="1.80" fill="#000" stroke="none" stroke-width="1" />
<circle cx="141.00" cy="571.50" r="2.10" fill="#f8b84e" stroke="#1a1a1a" stroke-width="0.8" />
<circle cx="149.40" cy="565.80" r="1.80" fill="#000" stroke="none" stroke-width="1" />
<rect x="48.40" y="527.30" width="114.10" height="69.50" fill="none" stroke="#9a9a9a" stroke-width="0.8" />
<rect x="48.40" y="508.20" width="114.10" height="19.10" fill="#676767" stroke="#333" stroke-width="0.8" />
<text x="105.45" y="522.30" style="font-size:11.7px;font-weight:bold;" fill="#fff" text-anchor="middle"  stroke="#fff" stroke-width="0.16">P113</text>
<line x1="44.90" y1="530.30" x2="48.40" y2="530.30" stroke="#333" stroke-width="0.9" />
<text x="43.00" y="533.70" style="font-size:9.4px;" fill="#4d4d4d" text-anchor="end" >1.00</text>
<line x1="44.90" y1="546.60" x2="48.40" y2="546.60" stroke="#333" stroke-width="0.9" />
<text x="43.00" y="550.00" style="font-size:9.4px;" fill="#4d4d4d" text-anchor="end" >0.75</text>
<line x1="44.90" y1="562.90" x2="48.40" y2="562.90" stroke="#333" stroke-width="0.9" />
<text x="43.00" y="566.30" style="font-size:9.4px;" fill="#4d4d4d" text-anchor="end" >0.50</text>
<line x1="44.90" y1="579.20" x2="48.40" y2="579.20" stroke="#333" stroke-width="0.9" />
<text x="43.00" y="582.60" style="font-size:9.4px;" fill="#4d4d4d" text-anchor="end" >0.25</text>
<line x1="44.90" y1="595.50" x2="48.40" y2="595.50" stroke="#333" stroke-width="0.9" />
<text x="43.00" y="598.90" style="font-size:9.4px;" fill="#4d4d4d" text-anchor="end" >0.00</text>
<line x1="59.80" y1="596.80" x2="59.80" y2="600.00" stroke="#333" stroke-width="0.9" />
<text x="59.80" y="609.60" style="font-size:9.4px;" fill="#4d4d4d" text-anchor="middle" >0</text>
<line x1="92.40" y1="596.80" x2="92.40" y2="600.00" stroke="#333" stroke-width="0.9" />
<text x="92.40" y="609.60" style="font-size:9.4px;" fill="#4d4d4d" text-anchor="middle" >50</text>
<line x1="125.00" y1="596.80" x2="125.00" y2="600.00" stroke="#333" stroke-width="0.9" />
<text x="125.00" y="609.60" style="font-size:9.4px;" fill="#4d4d4d" text-anchor="middle" >100</text>
<line x1="157.60" y1="596.80" x2="157.60" y2="600.00" stroke="#333" stroke-width="0.9" />
<text x="157.60" y="609.60" style="font-size:9.4px;" fill="#4d4d4d" text-anchor="middle" >150</text>
<rect x="193.50" y="527.30" width="112.90" height="69.50" fill="#fff" stroke="none" stroke-width="1" />
<line x1="193.50" y1="540.25" x2="306.40" y2="540.25" stroke="#f3f3f3" stroke-width="0.5" />
<line x1="193.50" y1="560.15" x2="306.40" y2="560.15" stroke="#f3f3f3" stroke-width="0.5" />
<line x1="193.50" y1="580.05" x2="306.40" y2="580.05" stroke="#f3f3f3" stroke-width="0.5" />
<line x1="220.42" y1="527.30" x2="220.42" y2="596.80" stroke="#f3f3f3" stroke-width="0.5" />
<line x1="252.85" y1="527.30" x2="252.85" y2="596.80" stroke="#f3f3f3" stroke-width="0.5" />
<line x1="285.29" y1="527.30" x2="285.29" y2="596.80" stroke="#f3f3f3" stroke-width="0.5" />
<line x1="193.50" y1="530.30" x2="306.40" y2="530.30" stroke="#e6e6e6" stroke-width="0.6" />
<line x1="193.50" y1="550.20" x2="306.40" y2="550.20" stroke="#e6e6e6" stroke-width="0.6" />
<line x1="193.50" y1="570.10" x2="306.40" y2="570.10" stroke="#e6e6e6" stroke-width="0.6" />
<line x1="193.50" y1="590.00" x2="306.40" y2="590.00" stroke="#e6e6e6" stroke-width="0.6" />
<line x1="204.20" y1="527.30" x2="204.20" y2="596.80" stroke="#e6e6e6" stroke-width="0.6" />
<line x1="236.63" y1="527.30" x2="236.63" y2="596.80" stroke="#e6e6e6" stroke-width="0.6" />
<line x1="269.07" y1="527.30" x2="269.07" y2="596.80" stroke="#e6e6e6" stroke-width="0.6" />
<line x1="301.50" y1="527.30" x2="301.50" y2="596.80" stroke="#e6e6e6" stroke-width="0.6" />
<polyline points="213.30,561.50 228.20,530.30 241.40,594.30 272.90,578.20 286.60,555.10" fill="none" stroke="#a8a8a8" stroke-width="2.2" stroke-linejoin="round" stroke-linecap="round" />
<polyline points="213.30,530.30 228.20,550.90 241.40,569.50 253.80,586.40 272.90,576.90 286.60,569.00 294.70,564.50" fill="none" stroke="#f7a21b" stroke-width="2.3" stroke-linejoin="round" stroke-linecap="round" />
<circle cx="213.30" cy="561.50" r="1.80" fill="#000" stroke="none" stroke-width="1" />
<circle cx="228.20" cy="530.30" r="1.80" fill="#000" stroke="none" stroke-width="1" />
<circle cx="241.40" cy="594.30" r="1.80" fill="#000" stroke="none" stroke-width="1" />
<circle cx="272.90" cy="578.20" r="1.80" fill="#000" stroke="none" stroke-width="1" />
<circle cx="286.60" cy="555.10" r="1.80" fill="#000" stroke="none" stroke-width="1" />
<circle cx="213.30" cy="530.30" r="1.80" fill="#000" stroke="none" stroke-width="1" />
<circle cx="228.20" cy="550.90" r="2.10" fill="#f8b84e" stroke="#1a1a1a" stroke-width="0.8" />
<circle cx="241.40" cy="569.50" r="2.10" fill="#f8b84e" stroke="#1a1a1a" stroke-width="0.8" />
<circle cx="253.80" cy="586.40" r="1.80" fill="#000" stroke="none" stroke-width="1" />
<circle cx="272.90" cy="576.90" r="2.10" fill="#f8b84e" stroke="#1a1a1a" stroke-width="0.8" />
<circle cx="286.60" cy="569.00" r="2.10" fill="#f8b84e" stroke="#1a1a1a" stroke-width="0.8" />
<circle cx="294.70" cy="564.50" r="1.80" fill="#000" stroke="none" stroke-width="1" />
<rect x="193.50" y="527.30" width="112.90" height="69.50" fill="none" stroke="#9a9a9a" stroke-width="0.8" />
<rect x="193.50" y="508.20" width="112.90" height="19.10" fill="#676767" stroke="#333" stroke-width="0.8" />
<text x="249.95" y="522.30" style="font-size:11.7px;font-weight:bold;" fill="#fff" text-anchor="middle"  stroke="#fff" stroke-width="0.16">P108</text>
<line x1="190.00" y1="530.30" x2="193.50" y2="530.30" stroke="#333" stroke-width="0.9" />
<text x="188.10" y="533.70" style="font-size:9.4px;" fill="#4d4d4d" text-anchor="end" >1.0</text>
<line x1="190.00" y1="550.20" x2="193.50" y2="550.20" stroke="#333" stroke-width="0.9" />
<text x="188.10" y="553.60" style="font-size:9.4px;" fill="#4d4d4d" text-anchor="end" >0.8</text>
<line x1="190.00" y1="570.10" x2="193.50" y2="570.10" stroke="#333" stroke-width="0.9" />
<text x="188.10" y="573.50" style="font-size:9.4px;" fill="#4d4d4d" text-anchor="end" >0.6</text>
<line x1="190.00" y1="590.00" x2="193.50" y2="590.00" stroke="#333" stroke-width="0.9" />
<text x="188.10" y="593.40" style="font-size:9.4px;" fill="#4d4d4d" text-anchor="end" >0.4</text>
<line x1="204.20" y1="596.80" x2="204.20" y2="600.00" stroke="#333" stroke-width="0.9" />
<text x="204.20" y="609.60" style="font-size:9.4px;" fill="#4d4d4d" text-anchor="middle" >0</text>
<line x1="236.63" y1="596.80" x2="236.63" y2="600.00" stroke="#333" stroke-width="0.9" />
<text x="236.63" y="609.60" style="font-size:9.4px;" fill="#4d4d4d" text-anchor="middle" >50</text>
<line x1="269.07" y1="596.80" x2="269.07" y2="600.00" stroke="#333" stroke-width="0.9" />
<text x="269.07" y="609.60" style="font-size:9.4px;" fill="#4d4d4d" text-anchor="middle" >100</text>
<line x1="301.50" y1="596.80" x2="301.50" y2="600.00" stroke="#333" stroke-width="0.9" />
<text x="301.50" y="609.60" style="font-size:9.4px;" fill="#4d4d4d" text-anchor="middle" >150</text>
<rect x="338.50" y="527.30" width="113.40" height="70.20" fill="#fff" stroke="none" stroke-width="1" />
<line x1="338.50" y1="540.60" x2="451.90" y2="540.60" stroke="#f3f3f3" stroke-width="0.5" />
<line x1="338.50" y1="559.80" x2="451.90" y2="559.80" stroke="#f3f3f3" stroke-width="0.5" />
<line x1="338.50" y1="579.00" x2="451.90" y2="579.00" stroke="#f3f3f3" stroke-width="0.5" />
<line x1="366.28" y1="527.30" x2="366.28" y2="597.50" stroke="#f3f3f3" stroke-width="0.5" />
<line x1="398.62" y1="527.30" x2="398.62" y2="597.50" stroke="#f3f3f3" stroke-width="0.5" />
<line x1="430.98" y1="527.30" x2="430.98" y2="597.50" stroke="#f3f3f3" stroke-width="0.5" />
<line x1="338.50" y1="531.00" x2="451.90" y2="531.00" stroke="#e6e6e6" stroke-width="0.6" />
<line x1="338.50" y1="550.20" x2="451.90" y2="550.20" stroke="#e6e6e6" stroke-width="0.6" />
<line x1="338.50" y1="569.40" x2="451.90" y2="569.40" stroke="#e6e6e6" stroke-width="0.6" />
<line x1="338.50" y1="588.60" x2="451.90" y2="588.60" stroke="#e6e6e6" stroke-width="0.6" />
<line x1="350.10" y1="527.30" x2="350.10" y2="597.50" stroke="#e6e6e6" stroke-width="0.6" />
<line x1="382.45" y1="527.30" x2="382.45" y2="597.50" stroke="#e6e6e6" stroke-width="0.6" />
<line x1="414.80" y1="527.30" x2="414.80" y2="597.50" stroke="#e6e6e6" stroke-width="0.6" />
<line x1="447.15" y1="527.30" x2="447.15" y2="597.50" stroke="#e6e6e6" stroke-width="0.6" />
<polyline points="359.10,539.20 376.40,531.00 390.10,566.50 404.20,566.50 421.60,552.10" fill="none" stroke="#a8a8a8" stroke-width="2.2" stroke-linejoin="round" stroke-linecap="round" />
<polyline points="359.10,534.20 370.70,564.00 376.40,570.00 390.10,584.40 398.50,593.50 404.20,593.80 421.60,594.80 443.90,576.20" fill="none" stroke="#f7a21b" stroke-width="2.3" stroke-linejoin="round" stroke-linecap="round" />
<circle cx="359.10" cy="539.20" r="1.80" fill="#000" stroke="none" stroke-width="1" />
<circle cx="376.40" cy="531.00" r="1.80" fill="#000" stroke="none" stroke-width="1" />
<circle cx="390.10" cy="566.50" r="1.80" fill="#000" stroke="none" stroke-width="1" />
<circle cx="404.20" cy="566.50" r="1.80" fill="#000" stroke="none" stroke-width="1" />
<circle cx="421.60" cy="552.10" r="1.80" fill="#000" stroke="none" stroke-width="1" />
<circle cx="359.10" cy="534.20" r="2.10" fill="#f8b84e" stroke="#1a1a1a" stroke-width="0.8" />
<circle cx="370.70" cy="564.00" r="1.80" fill="#000" stroke="none" stroke-width="1" />
<circle cx="376.40" cy="570.00" r="2.10" fill="#f8b84e" stroke="#1a1a1a" stroke-width="0.8" />
<circle cx="390.10" cy="584.40" r="2.10" fill="#f8b84e" stroke="#1a1a1a" stroke-width="0.8" />
<circle cx="398.50" cy="593.50" r="1.80" fill="#000" stroke="none" stroke-width="1" />
<circle cx="404.20" cy="593.80" r="2.10" fill="#f8b84e" stroke="#1a1a1a" stroke-width="0.8" />
<circle cx="421.60" cy="594.80" r="1.80" fill="#000" stroke="none" stroke-width="1" />
<circle cx="443.90" cy="576.20" r="1.80" fill="#000" stroke="none" stroke-width="1" />
<circle cx="357.80" cy="531.00" r="1.80" fill="#000" stroke="none" stroke-width="1" />
<rect x="338.50" y="527.30" width="113.40" height="70.20" fill="none" stroke="#9a9a9a" stroke-width="0.8" />
<rect x="338.50" y="508.20" width="113.40" height="19.10" fill="#676767" stroke="#333" stroke-width="0.8" />
<text x="395.20" y="522.30" style="font-size:11.7px;font-weight:bold;" fill="#fff" text-anchor="middle"  stroke="#fff" stroke-width="0.16">P111</text>
<line x1="335.00" y1="531.00" x2="338.50" y2="531.00" stroke="#333" stroke-width="0.9" />
<text x="333.10" y="534.40" style="font-size:9.4px;" fill="#4d4d4d" text-anchor="end" >1.00</text>
<line x1="335.00" y1="550.20" x2="338.50" y2="550.20" stroke="#333" stroke-width="0.9" />
<text x="333.10" y="553.60" style="font-size:9.4px;" fill="#4d4d4d" text-anchor="end" >0.75</text>
<line x1="335.00" y1="569.40" x2="338.50" y2="569.40" stroke="#333" stroke-width="0.9" />
<text x="333.10" y="572.80" style="font-size:9.4px;" fill="#4d4d4d" text-anchor="end" >0.50</text>
<line x1="335.00" y1="588.60" x2="338.50" y2="588.60" stroke="#333" stroke-width="0.9" />
<text x="333.10" y="592.00" style="font-size:9.4px;" fill="#4d4d4d" text-anchor="end" >0.25</text>
<line x1="350.10" y1="597.50" x2="350.10" y2="600.70" stroke="#333" stroke-width="0.9" />
<text x="350.10" y="609.60" style="font-size:9.4px;" fill="#4d4d4d" text-anchor="middle" >0</text>
<line x1="382.45" y1="597.50" x2="382.45" y2="600.70" stroke="#333" stroke-width="0.9" />
<text x="382.45" y="609.60" style="font-size:9.4px;" fill="#4d4d4d" text-anchor="middle" >50</text>
<line x1="414.80" y1="597.50" x2="414.80" y2="600.70" stroke="#333" stroke-width="0.9" />
<text x="414.80" y="609.60" style="font-size:9.4px;" fill="#4d4d4d" text-anchor="middle" >100</text>
<line x1="447.15" y1="597.50" x2="447.15" y2="600.70" stroke="#333" stroke-width="0.9" />
<text x="447.15" y="609.60" style="font-size:9.4px;" fill="#4d4d4d" text-anchor="middle" >150</text>
<rect x="54.20" y="436.10" width="75.30" height="20.20" fill="#fff" stroke="#111" stroke-width="0.8" />
<line x1="57.40" y1="444.90" x2="63.80" y2="438.60" stroke="#f7a21b" stroke-width="1.6" />
<line x1="57.40" y1="452.70" x2="63.80" y2="446.40" stroke="#a8a8a8" stroke-width="1.6" />
<text x="67.60" y="444.30" style="font-size:6.15px;font-weight:bold;" fill="#111" text-anchor="start"  stroke="#111" stroke-width="0.16">MRI Enhancement</text>
<text x="67.60" y="452.10" style="font-size:6.15px;font-weight:bold;" fill="#111" text-anchor="start"  stroke="#111" stroke-width="0.16">EVP Ratio (Post/Pre)</text>
<rect x="100.00" y="534.70" width="53.30" height="24.10" fill="#fff" stroke="#111" stroke-width="0.8" />
<circle cx="108.00" cy="541.20" r="2.40" fill="#000" stroke="none" stroke-width="1" />
<circle cx="108.00" cy="552.00" r="2.40" fill="#fff" stroke="#111" stroke-width="0.8" />
<text x="113.40" y="543.60" style="font-size:6.7px;font-weight:bold;" fill="#111" text-anchor="start"  stroke="#111" stroke-width="0.16">Collected</text>
<text x="113.40" y="554.30" style="font-size:6.7px;font-weight:bold;" fill="#111" text-anchor="start"  stroke="#111" stroke-width="0.16">Interpolated</text>
<text x="246.90" y="624.50" style="font-size:11.78px;font-weight:bold;" fill="#000" text-anchor="middle"  stroke="#000" stroke-width="0.16">Post Op Day (POD)</text>
<text transform="translate(17.6,500.5) rotate(-90)" style="font-size:12px;font-weight:bold" text-anchor="middle" fill="#000">Relative Value</text>
<path d="M153.4,108.3 H1.3 V202.3 H397.7 V108.3 H170.8" fill="none" stroke="#ea8c6c" stroke-width="1.5" />
<rect x="0.40" y="107.60" width="20.40" height="20.00" fill="#eda68c" stroke="none" stroke-width="1" />
<rect x="20.70" y="107.60" width="120.10" height="14.70" fill="#eda68c" stroke="none" stroke-width="1" />
<text x="3.40" y="124.80" style="font-size:19.0px;font-weight:bold;" fill="#000" text-anchor="start" stroke="#000" stroke-width="0.5">B</text>
<text x="24.60" y="119.70" style="font-size:10.86px;font-weight:bold;" fill="#000" text-anchor="start"  stroke="#000" stroke-width="0.16">Collection of Samples</text>
<text x="219.00" y="121.20" style="font-size:10.84px;font-weight:bold;" fill="#000" text-anchor="start"  stroke="#000" stroke-width="0.16">Longitudinal Blood Draws</text>
<text x="219.00" y="131.30" style="font-size:8.88px;font-weight:bold;" fill="#000" text-anchor="start"  stroke="#000" stroke-width="0.16">17 Patients, 64 Paired Samples</text>
<rect x="9.90" y="144.90" width="88.60" height="28.60" fill="#f0edb4" stroke="#e4df96" stroke-width="0.7" />
<text x="54.20" y="156.60" style="font-size:6.97px;font-weight:bold;" fill="#1a1a1a" text-anchor="middle"  stroke="#1a1a1a" stroke-width="0.16">Surgery and Implantation</text>
<text x="54.20" y="165.40" style="font-size:6.97px;font-weight:bold;" fill="#1a1a1a" text-anchor="middle"  stroke="#1a1a1a" stroke-width="0.16">of SC-9 Device</text>
<rect x="107.50" y="143.80" width="166.40" height="29.90" fill="#e6eee8" stroke="none" stroke-width="1" />
<rect x="125.20" y="148.80" width="134.60" height="21.20" fill="#eef3ef" stroke="#b9282f" stroke-width="1.3" />
<text x="165.00" y="157.90" style="font-size:6.9px;font-weight:bold;" fill="#1a1a1a" text-anchor="start"  stroke="#1a1a1a" stroke-width="0.16">Blood Draws</text>
<text x="128.80" y="165.80" style="font-size:7.0px;font-weight:bold;" fill="#1a1a1a" text-anchor="start"  stroke="#1a1a1a" stroke-width="0.16">Longitudinally During LIPU/MB + PTX</text>
<line x1="192.20" y1="170.00" x2="192.20" y2="174.00" stroke="#b9282f" stroke-width="1.2" />
<rect x="276.40" y="139.30" width="94.00" height="30.10" fill="#fef7e0" stroke="#f3dc9a" stroke-width="0.8" />
<path d="M270.9,159.6 L276.4,155.6 L276.4,163.6 Z" fill="#f5cf5e" stroke="none" stroke-width="1" />
<text transform="translate(284.0,154.0) rotate(-90)" style="font-size:5.9px;font-weight:bold" text-anchor="middle" fill="#1a1a1a">Pre-Son</text>
<text transform="translate(367.2,157.0) rotate(-90)" style="font-size:5.2px;font-weight:bold" text-anchor="middle" fill="#1a1a1a">Post-Son</text>
<defs><linearGradient id="tube1" x1="0" x2="0" y1="0" y2="1"><stop offset="0" stop-color="#f8d8a8"/><stop offset="1" stop-color="#eea060"/></linearGradient><linearGradient id="tube2" x1="0" x2="0" y1="0" y2="1"><stop offset="0" stop-color="#f5c4b8"/><stop offset="1" stop-color="#e58a80"/></linearGradient></defs>
<path d="M291.6,148.7 H300.2 V153.5 Q300.2,160 295.9,165.8 Q291.6,160 291.6,153.5 Z" fill="#fafafa" stroke="#9a9a9a" stroke-width="0.5" />
<path d="M291.9,154.5 H299.9 Q299.9,160 295.9,165.5 Q291.9,160 291.9,154.5 Z" fill="url(#tube1)" stroke="none" stroke-width="1" />
<line x1="291.00" y1="148.70" x2="300.80" y2="148.70" stroke="#888" stroke-width="0.9" />
<path d="M292.6,148.5 L286.6,143.5 L288.1,142.5 L294.6,148 Z" fill="#e8e8e8" stroke="#aaa" stroke-width="0.4" />
<path d="M352.7,148.7 H361.3 V153.5 Q361.3,160 357.0,165.8 Q352.7,160 352.7,153.5 Z" fill="#fafafa" stroke="#9a9a9a" stroke-width="0.5" />
<path d="M353.0,154.5 H361.0 Q361.0,160 357.0,165.5 Q353.0,160 353.0,154.5 Z" fill="url(#tube2)" stroke="none" stroke-width="1" />
<line x1="352.10" y1="148.70" x2="361.90" y2="148.70" stroke="#888" stroke-width="0.9" />
<path d="M353.7,148.5 L347.7,143.5 L349.2,142.5 L355.7,148 Z" fill="#e8e8e8" stroke="#aaa" stroke-width="0.4" />
<text x="324.80" y="149.10" style="font-size:5.84px;font-weight:bold;" fill="#1a1a1a" text-anchor="middle"  stroke="#1a1a1a" stroke-width="0.16">LIPU/MB + PTX</text>
<text x="324.90" y="155.60" style="font-size:5.8px;font-weight:bold;" fill="#1a1a1a" text-anchor="middle"  stroke="#1a1a1a" stroke-width="0.16">in every cycle</text>
<line x1="304.40" y1="159.20" x2="345.50" y2="159.20" stroke="#111" stroke-width="0.9" />
<path d="M349.2,159.2 L344.6,157.2 L344.6,161.2 Z" fill="#111" stroke="none" stroke-width="1" />
<rect x="4.90" y="173.80" width="375.60" height="4.40" fill="#333" stroke="none" stroke-width="1" />
<path d="M380.0,170.2 L390.8,176.0 L380.0,182.0 Z" fill="#333" stroke="none" stroke-width="1" />
<circle cx="50.70" cy="175.90" r="3.40" fill="#c4202b" stroke="none" stroke-width="1" />
<circle cx="351.70" cy="175.80" r="3.10" fill="#5eaad2" stroke="#2f7fb0" stroke-width="0.6" />
<line x1="109.90" y1="178.20" x2="109.90" y2="183.50" stroke="#a81d25" stroke-width="1.3" />
<path d="M107.5,182.6 L112.3,182.6 L109.9,187.6 Z" fill="#a81d25" stroke="none" stroke-width="1" />
<text x="111.70" y="194.70" style="font-size:6.5px;font-weight:bold;" fill="#1a1a1a" text-anchor="middle"  stroke="#1a1a1a" stroke-width="0.16">Cycle 1</text>
<line x1="149.30" y1="178.20" x2="149.30" y2="183.50" stroke="#a81d25" stroke-width="1.3" />
<path d="M146.9,182.6 L151.7,182.6 L149.3,187.6 Z" fill="#a81d25" stroke="none" stroke-width="1" />
<text x="149.40" y="194.70" style="font-size:6.5px;font-weight:bold;" fill="#1a1a1a" text-anchor="middle"  stroke="#1a1a1a" stroke-width="0.16">Cycle 2</text>
<line x1="192.20" y1="178.20" x2="192.20" y2="183.50" stroke="#a81d25" stroke-width="1.3" />
<path d="M189.8,182.6 L194.6,182.6 L192.2,187.6 Z" fill="#a81d25" stroke="none" stroke-width="1" />
<text x="190.70" y="195.50" style="font-size:6.5px;font-weight:bold;" fill="#1a1a1a" text-anchor="middle"  stroke="#1a1a1a" stroke-width="0.16">Cycle 3</text>
<line x1="239.00" y1="178.20" x2="239.00" y2="183.50" stroke="#a81d25" stroke-width="1.3" />
<path d="M236.6,182.6 L241.4,182.6 L239.0,187.6 Z" fill="#a81d25" stroke="none" stroke-width="1" />
<text x="236.20" y="194.80" style="font-size:6.5px;font-weight:bold;" fill="#1a1a1a" text-anchor="middle"  stroke="#1a1a1a" stroke-width="0.16">Cycle (n-1)</text>
<line x1="273.90" y1="178.20" x2="273.90" y2="183.50" stroke="#a81d25" stroke-width="1.3" />
<path d="M271.5,182.6 L276.3,182.6 L273.9,187.6 Z" fill="#a81d25" stroke="none" stroke-width="1" />
<text x="274.50" y="194.80" style="font-size:6.5px;font-weight:bold;" fill="#1a1a1a" text-anchor="middle"  stroke="#1a1a1a" stroke-width="0.16">Cycle (n)</text>
<text x="211.90" y="193.60" style="font-size:6.5px;font-weight:bold;" fill="#1a1a1a" text-anchor="middle"  stroke="#1a1a1a" stroke-width="0.16">....</text>
<text x="300.50" y="183.60" style="font-size:7.0px;font-weight:bold;" fill="#1a1a1a" text-anchor="start" font-style="italic" stroke="#1a1a1a" stroke-width="0.16">n=2-6</text>
<text x="325.70" y="189.70" style="font-size:6.97px;font-weight:bold;" fill="#1a1a1a" text-anchor="start"  stroke="#1a1a1a" stroke-width="0.16">Exosome Isolation</text>
<path d="M1.2,1.9 H397.3 V100.2 H172.9 L162.2,141.6 L151.2,100.2 H1.2 Z" fill="#fff" stroke="#e3de86" stroke-width="1.4" />
<rect x="0.20" y="1.00" width="20.80" height="18.50" fill="#dfdb8f" stroke="none" stroke-width="1" />
<rect x="20.80" y="1.00" width="70.90" height="13.70" fill="#dfdb8f" stroke="none" stroke-width="1" />
<text x="2.60" y="16.80" style="font-size:20.3px;font-weight:bold;" fill="#000" text-anchor="start" stroke="#000" stroke-width="0.5">A</text>
<text x="24.80" y="12.70" style="font-size:10.8px;font-weight:bold;" fill="#000" text-anchor="start"  stroke="#000" stroke-width="0.16">Intervention</text>
<defs><linearGradient id="vg1" x1="0" x2="1" y1="0" y2="0"><stop offset="0" stop-color="#f2a1a1"/><stop offset="0.7" stop-color="#fbe0e0"/><stop offset="1" stop-color="#ffffff"/></linearGradient><radialGradient id="mbg"><stop offset="0" stop-color="#5aa0cf"/><stop offset="0.6" stop-color="#9cc8e4"/><stop offset="1" stop-color="#d8ebf6"/></radialGradient></defs>
<path d="M36,74.6 C37,70 40,66 44,63.5 C46,62.5 47.5,62.5 48,63 C45,66 43,70 42.6,74.6 Z" fill="#e4e4e4" stroke="none" stroke-width="1" />
<path d="M16.8,48 C17.5,41 22,36 28,34.6 C35,33 43,34 48.5,38.5 C53.5,42.5 55.5,48 54.2,53 C53,57.5 49,60.5 46,63.5 C43.5,66 42.3,70 42.2,74.6" fill="none" stroke="#4d6fa8" stroke-width="0.9" />
<path d="M16.8,48 C16.5,50 17,51.5 16.4,53 C15.8,54.8 14.6,56.5 14.8,57.4 C15.2,58.4 17,58.6 17.4,59.4 C17.6,60.5 17.2,61.2 17.9,62.2 C18.5,63 18.1,64.8 18.6,66.4 C19.5,68.6 23,69.2 26,69.2 C30,69.3 33,69.2 34,71 L34.8,74.6" fill="none" stroke="#4d6fa8" stroke-width="0.9" />
<path d="M20,44 C20,38 27,35.5 33,35.6 C41,35.6 48,38 51,44 C53,49 51,55 47,57.5 C44,59.5 41,60 38,58 C35,56.5 31,55.5 27,55 C22,54.5 19.5,50 20,44 Z" fill="#efb2a2" stroke="#d98070" stroke-width="0.5" />
<path d="M22,49.5 C27,48.5 31,47 36,46.5" fill="none" stroke="#de5a48" stroke-width="1.3" />
<path d="M25,41 q1.5,-1 3,0.2 q1,1 2.2,0.3" fill="none" stroke="#d45a48" stroke-width="0.6" />
<path d="M30,39 q1.5,-1 3,0.2 q1,1 2.2,0.3" fill="none" stroke="#d45a48" stroke-width="0.6" />
<path d="M36,40 q1.5,-1 3,0.2 q1,1 2.2,0.3" fill="none" stroke="#d45a48" stroke-width="0.6" />
<path d="M43,41 q1.5,-1 3,0.2 q1,1 2.2,0.3" fill="none" stroke="#d45a48" stroke-width="0.6" />
<path d="M47,47 q1.5,-1 3,0.2 q1,1 2.2,0.3" fill="none" stroke="#d45a48" stroke-width="0.6" />
<path d="M29,44 q1.5,-1 3,0.2 q1,1 2.2,0.3" fill="none" stroke="#d45a48" stroke-width="0.6" />
<path d="M44,53 q1.5,-1 3,0.2 q1,1 2.2,0.3" fill="none" stroke="#d45a48" stroke-width="0.6" />
<path d="M33,52 q1.5,-1 3,0.2 q1,1 2.2,0.3" fill="none" stroke="#d45a48" stroke-width="0.6" />
<path d="M22,44 Q27,41 32,42" fill="none" stroke="#fbe3dc" stroke-width="0.7" />
<path d="M30,50 Q34,47 39,50" fill="none" stroke="#fbe3dc" stroke-width="0.7" />
<path d="M44,52 Q47,55 50,52" fill="none" stroke="#fbe3dc" stroke-width="0.7" />
<path d="M35,38 Q39,40 44,38" fill="none" stroke="#fbe3dc" stroke-width="0.7" />
<circle cx="41.00" cy="46.70" r="3.40" fill="#d9503f" stroke="none" stroke-width="1" />
<circle cx="41.00" cy="46.70" r="6.00" fill="none" stroke="#111" stroke-width="1.2" stroke-dasharray="2,1.3"/>
<line x1="46.30" y1="43.00" x2="83.50" y2="20.80" stroke="#111" stroke-width="1.25" stroke-dasharray="2.6,1.6"/>
<line x1="46.00" y1="51.00" x2="83.50" y2="87.60" stroke="#111" stroke-width="1.25" stroke-dasharray="2.6,1.6"/>
<text x="13.10" y="87.70" style="font-size:7.65px;font-weight:bold;" fill="#000" text-anchor="start"  stroke="#000" stroke-width="0.16">GBM Patient</text>
<rect x="83.50" y="20.20" width="80.60" height="67.70" fill="#dff0f6" stroke="#2e3a8c" stroke-width="1.2" />
<clipPath id="cb1"><rect x="84.1" y="20.8" width="79.4" height="66.5"/></clipPath>
<g clip-path="url(#cb1)">
<g transform="translate(99.7,78.7) rotate(-36.1)">
<path d="M2.6,-9.8 C6.6,-13.8 14.6,-13.8 18.6,-9.8 Z" fill="#9b63dc"/>
<path d="M37.6,-9.8 C40.6,-13.8 46.6,-13.8 49.6,-9.8 Z" fill="#9b63dc"/>
<path d="M10.6,9.8 C13.4,13.8 18.9,13.8 21.6,9.8 Z" fill="#9b63dc"/>
<path d="M43.7,9.8 C46.5,13.8 52.0,13.8 54.7,9.8 Z" fill="#9b63dc"/>
<rect x="0.00" y="-10.25" width="74.00" height="20.50" fill="url(#vg1)" stroke="none" stroke-width="1" />
<ellipse cx="2.5" cy="-9.3" rx="3.9" ry="1.45" fill="#f27f9a" stroke="#c9375f" stroke-width="0.4"/>
<ellipse cx="2.5" cy="-9.3" rx="1.1" ry="0.6" fill="#fbd0da"/>
<ellipse cx="9.5" cy="-9.3" rx="3.9" ry="1.45" fill="#f27f9a" stroke="#c9375f" stroke-width="0.4"/>
<ellipse cx="9.5" cy="-9.3" rx="1.1" ry="0.6" fill="#fbd0da"/>
<ellipse cx="16.5" cy="-9.3" rx="3.9" ry="1.45" fill="#f27f9a" stroke="#c9375f" stroke-width="0.4"/>
<ellipse cx="16.5" cy="-9.3" rx="1.1" ry="0.6" fill="#fbd0da"/>
<ellipse cx="23.5" cy="-9.3" rx="3.9" ry="1.45" fill="#f27f9a" stroke="#c9375f" stroke-width="0.4"/>
<ellipse cx="23.5" cy="-9.3" rx="1.1" ry="0.6" fill="#fbd0da"/>
<ellipse cx="30.5" cy="-9.3" rx="3.9" ry="1.45" fill="#f27f9a" stroke="#c9375f" stroke-width="0.4"/>
<ellipse cx="30.5" cy="-9.3" rx="1.1" ry="0.6" fill="#fbd0da"/>
<ellipse cx="37.5" cy="-9.3" rx="3.9" ry="1.45" fill="#f27f9a" stroke="#c9375f" stroke-width="0.4"/>
<ellipse cx="37.5" cy="-9.3" rx="1.1" ry="0.6" fill="#fbd0da"/>
<ellipse cx="44.5" cy="-9.3" rx="3.9" ry="1.45" fill="#f27f9a" stroke="#c9375f" stroke-width="0.4"/>
<ellipse cx="44.5" cy="-9.3" rx="1.1" ry="0.6" fill="#fbd0da"/>
<ellipse cx="51.5" cy="-9.3" rx="3.9" ry="1.45" fill="#f27f9a" stroke="#c9375f" stroke-width="0.4"/>
<ellipse cx="51.5" cy="-9.3" rx="1.1" ry="0.6" fill="#fbd0da"/>
<ellipse cx="58.5" cy="-9.3" rx="3.9" ry="1.45" fill="#f27f9a" stroke="#c9375f" stroke-width="0.4"/>
<ellipse cx="58.5" cy="-9.3" rx="1.1" ry="0.6" fill="#fbd0da"/>
<ellipse cx="65.5" cy="-9.3" rx="3.9" ry="1.45" fill="#f27f9a" stroke="#c9375f" stroke-width="0.4"/>
<ellipse cx="65.5" cy="-9.3" rx="1.1" ry="0.6" fill="#fbd0da"/>
<ellipse cx="2.5" cy="9.3" rx="3.9" ry="1.45" fill="#f27f9a" stroke="#c9375f" stroke-width="0.4"/>
<ellipse cx="2.5" cy="9.3" rx="1.1" ry="0.6" fill="#fbd0da"/>
<ellipse cx="9.5" cy="9.3" rx="3.9" ry="1.45" fill="#f27f9a" stroke="#c9375f" stroke-width="0.4"/>
<ellipse cx="9.5" cy="9.3" rx="1.1" ry="0.6" fill="#fbd0da"/>
<ellipse cx="16.5" cy="9.3" rx="3.9" ry="1.45" fill="#f27f9a" stroke="#c9375f" stroke-width="0.4"/>
<ellipse cx="16.5" cy="9.3" rx="1.1" ry="0.6" fill="#fbd0da"/>
<ellipse cx="23.5" cy="9.3" rx="3.9" ry="1.45" fill="#f27f9a" stroke="#c9375f" stroke-width="0.4"/>
<ellipse cx="23.5" cy="9.3" rx="1.1" ry="0.6" fill="#fbd0da"/>
<ellipse cx="30.5" cy="9.3" rx="3.9" ry="1.45" fill="#f27f9a" stroke="#c9375f" stroke-width="0.4"/>
<ellipse cx="30.5" cy="9.3" rx="1.1" ry="0.6" fill="#fbd0da"/>
<ellipse cx="37.5" cy="9.3" rx="3.9" ry="1.45" fill="#f27f9a" stroke="#c9375f" stroke-width="0.4"/>
<ellipse cx="37.5" cy="9.3" rx="1.1" ry="0.6" fill="#fbd0da"/>
<ellipse cx="44.5" cy="9.3" rx="3.9" ry="1.45" fill="#f27f9a" stroke="#c9375f" stroke-width="0.4"/>
<ellipse cx="44.5" cy="9.3" rx="1.1" ry="0.6" fill="#fbd0da"/>
<ellipse cx="51.5" cy="9.3" rx="3.9" ry="1.45" fill="#f27f9a" stroke="#c9375f" stroke-width="0.4"/>
<ellipse cx="51.5" cy="9.3" rx="1.1" ry="0.6" fill="#fbd0da"/>
<ellipse cx="58.5" cy="9.3" rx="3.9" ry="1.45" fill="#f27f9a" stroke="#c9375f" stroke-width="0.4"/>
<ellipse cx="58.5" cy="9.3" rx="1.1" ry="0.6" fill="#fbd0da"/>
<ellipse cx="65.5" cy="9.3" rx="3.9" ry="1.45" fill="#f27f9a" stroke="#c9375f" stroke-width="0.4"/>
<ellipse cx="65.5" cy="9.3" rx="1.1" ry="0.6" fill="#fbd0da"/>
<path d="M24.3,-10.8 L27.3,-13.1 L30.3,-10.8 M27.3,-13.1 L27.9,-16.2" stroke="#16a0de" stroke-width="1.6" fill="none" stroke-linecap="round" stroke-linejoin="round"/>
<path d="M40.5,-10.8 L43.5,-13.1 L46.5,-10.8 M43.5,-13.1 L44.1,-16.2" stroke="#16a0de" stroke-width="1.6" fill="none" stroke-linecap="round" stroke-linejoin="round"/>
<path d="M55.9,-10.8 L58.9,-13.1 L61.9,-10.8 M58.9,-13.1 L59.5,-16.2" stroke="#16a0de" stroke-width="1.6" fill="none" stroke-linecap="round" stroke-linejoin="round"/>
<path d="M9.6,10.8 L12.6,13.1 L15.6,10.8 M12.6,13.1 L13.2,16.2" stroke="#16a0de" stroke-width="1.6" fill="none" stroke-linecap="round" stroke-linejoin="round"/>
<path d="M28.3,10.8 L31.3,13.1 L34.3,10.8 M31.3,13.1 L31.9,16.2" stroke="#16a0de" stroke-width="1.6" fill="none" stroke-linecap="round" stroke-linejoin="round"/>
<path d="M54.9,10.8 L57.9,13.1 L60.9,10.8 M57.9,13.1 L58.5,16.2" stroke="#16a0de" stroke-width="1.6" fill="none" stroke-linecap="round" stroke-linejoin="round"/>
<polygon points="30.20,-3.80 30.99,-1.89 33.05,-1.73 31.48,-0.38 31.96,1.63 30.20,0.55 28.44,1.63 28.92,-0.38 27.35,-1.73 29.41,-1.89" fill="#5a9f6a"/>
<polygon points="40.70,-2.80 41.49,-0.89 43.55,-0.73 41.98,0.62 42.46,2.63 40.70,1.55 38.94,2.63 39.42,0.62 37.85,-0.73 39.91,-0.89" fill="#5a9f6a"/>
<polygon points="55.90,-1.30 56.69,0.61 58.75,0.77 57.18,2.12 57.66,4.13 55.90,3.05 54.14,4.13 54.62,2.12 53.05,0.77 55.11,0.61" fill="#5a9f6a"/>
</g>
</g>
<line x1="117.00" y1="43.50" x2="117.30" y2="55.50" stroke="#111" stroke-width="1.2" stroke-dasharray="1.8,1.3"/>
<line x1="97.00" y1="51.00" x2="111.50" y2="59.50" stroke="#111" stroke-width="1.2" stroke-dasharray="1.8,1.3"/>
<circle cx="101.40" cy="36.30" r="15.40" fill="#fff" stroke="#000" stroke-width="1.5" />
<ellipse cx="101.9" cy="37.3" rx="6.5" ry="5.9" fill="#9a6ad8"/>
<ellipse cx="101.4" cy="36.3" rx="5.9" ry="5.5" fill="#f2b8bf" stroke="#c86a7a" stroke-width="0.6"/>
<path d="M98.4,33.9 L95.0,31.1 M93.5,31.4 L96.5,30.8" stroke="#1aa3dd" stroke-width="1.3" fill="none" stroke-linecap="round"/>
<path d="M104.4,33.6 L107.8,30.5 M106.3,30.8 L109.3,30.2" stroke="#1aa3dd" stroke-width="1.3" fill="none" stroke-linecap="round"/>
<path d="M98.4,39.0 L95.0,42.1 M93.5,42.4 L96.5,41.8" stroke="#1aa3dd" stroke-width="1.3" fill="none" stroke-linecap="round"/>
<path d="M104.1,39.3 L107.2,42.7 M105.7,43.0 L108.7,42.4" stroke="#1aa3dd" stroke-width="1.3" fill="none" stroke-linecap="round"/>
<path d="M101.4,32.8 L101.4,28.8 M99.9,29.1 L102.9,28.5" stroke="#1aa3dd" stroke-width="1.3" fill="none" stroke-linecap="round"/>
<text x="86.70" y="96.30" style="font-size:7.64px;font-weight:bold;" fill="#000" text-anchor="start"  stroke="#000" stroke-width="0.16">Blood-Brain Barrier</text>
<g transform="translate(183.6,33.2) rotate(-32)"><path d="M0,0 L3.5,-1.3 L3.5,1.3 Z" fill="#666"/><rect x="3.5" y="-1.9" width="19" height="3.8" fill="#e46fcb" stroke="#444" stroke-width="0.5"/><line x1="22.5" y1="-1.9" x2="29" y2="-1.9" stroke="#444" stroke-width="0.5"/><line x1="22.5" y1="1.9" x2="29" y2="1.9" stroke="#444" stroke-width="0.5"/><line x1="28" y1="-3.2" x2="28" y2="3.2" stroke="#333" stroke-width="0.7"/><line x1="22" y1="0" x2="39" y2="0" stroke="#222" stroke-width="1.0"/><circle cx="39.5" cy="0" r="1.3" fill="#111"/></g>
<text x="172.00" y="41.20" style="font-size:6.92px;font-weight:bold;" fill="#000" text-anchor="start"  stroke="#000" stroke-width="0.16">Paclitaxel (PTX)</text>
<text x="172.00" y="48.70" style="font-size:6.9px;font-weight:bold;" fill="#000" text-anchor="start"  stroke="#000" stroke-width="0.16">Administration</text>
<rect x="172.00" y="53.10" width="41.00" height="3.40" fill="#000" stroke="none" stroke-width="1" />
<path d="M212.5,50.6 L220.2,54.8 L212.5,59.0 Z" fill="#000" stroke="none" stroke-width="1" />
<text x="183.20" y="63.90" style="font-size:7.37px;font-weight:bold;" fill="#000" text-anchor="start"  stroke="#000" stroke-width="0.16">SC-9</text>
<rect x="188.80" y="64.20" width="21.50" height="23.50" fill="#f1f1f1" stroke="none" stroke-width="1" />
<path d="M192.5,77 C191.8,72 194.5,68.5 199,68 C203.5,67.5 207.5,70 207.6,74.5 C207.7,77.5 205.8,79 204.7,81 L204.5,86" fill="none" stroke="#8ca0c0" stroke-width="0.5" />
<path d="M192.5,77 L191.6,79.5 L192.6,80 L192.8,83 L196.5,83.5 L197,86" fill="none" stroke="#8ca0c0" stroke-width="0.5" />
<path d="M193.5,73.5 C194,69.8 198,68.3 201.5,68.6 C205.5,69 207.2,72 206.5,75 C205.5,78 201.5,78 198,77 C195.5,76.5 193.3,76 193.5,73.5 Z" fill="#f6d3ca" stroke="none" stroke-width="1" />
<path d="M195,74 C198,73 201,72.5 204,71.5" fill="none" stroke="#e89080" stroke-width="0.6" />
<path d="M200.5,67.5 C203,65 207,64.7 209,66 C210.5,67.2 209.5,69.5 207.5,70" fill="none" stroke="#e89a8a" stroke-width="0.8" />
<text x="180.80" y="95.00" style="font-size:7.57px;font-weight:bold;" fill="#000" text-anchor="start"  stroke="#000" stroke-width="0.16">LIPU/MB</text>
<rect x="229.40" y="15.20" width="83.20" height="68.30" fill="#dff0f6" stroke="#2e3a8c" stroke-width="1.2" />
<clipPath id="cb2"><rect x="230" y="15.8" width="82" height="67.1"/></clipPath>
<g clip-path="url(#cb2)">
<g transform="translate(246.0,75.5) rotate(-34.5)">
<path d="M3.1,-10.0 C8.1,-14.1 18.1,-14.1 23.1,-10.0 Z" fill="#9b63dc"/>
<path d="M42.1,-10.0 C45.1,-14.1 51.1,-14.1 54.1,-10.0 Z" fill="#9b63dc"/>
<path d="M13.2,10.0 C15.9,14.1 21.4,14.1 24.2,10.0 Z" fill="#9b63dc"/>
<path d="M50.5,10.0 C53.5,14.1 59.5,14.1 62.5,10.0 Z" fill="#9b63dc"/>
<rect x="0.00" y="-10.50" width="76.00" height="21.00" fill="url(#vg1)" stroke="none" stroke-width="1" />
<ellipse cx="2.5" cy="-9.6" rx="3.9" ry="1.45" fill="#f27f9a" stroke="#c9375f" stroke-width="0.4"/>
<ellipse cx="2.5" cy="-9.6" rx="1.1" ry="0.6" fill="#fbd0da"/>
<ellipse cx="9.5" cy="-9.6" rx="3.9" ry="1.45" fill="#f27f9a" stroke="#c9375f" stroke-width="0.4"/>
<ellipse cx="9.5" cy="-9.6" rx="1.1" ry="0.6" fill="#fbd0da"/>
<ellipse cx="16.5" cy="-9.6" rx="3.9" ry="1.45" fill="#f27f9a" stroke="#c9375f" stroke-width="0.4"/>
<ellipse cx="16.5" cy="-9.6" rx="1.1" ry="0.6" fill="#fbd0da"/>
<ellipse cx="23.5" cy="-9.6" rx="3.9" ry="1.45" fill="#f27f9a" stroke="#c9375f" stroke-width="0.4"/>
<ellipse cx="23.5" cy="-9.6" rx="1.1" ry="0.6" fill="#fbd0da"/>
<ellipse cx="30.5" cy="-9.6" rx="3.9" ry="1.45" fill="#f27f9a" stroke="#c9375f" stroke-width="0.4"/>
<ellipse cx="30.5" cy="-9.6" rx="1.1" ry="0.6" fill="#fbd0da"/>
<ellipse cx="37.5" cy="-9.6" rx="3.9" ry="1.45" fill="#f27f9a" stroke="#c9375f" stroke-width="0.4"/>
<ellipse cx="37.5" cy="-9.6" rx="1.1" ry="0.6" fill="#fbd0da"/>
<ellipse cx="44.5" cy="-9.6" rx="3.9" ry="1.45" fill="#f27f9a" stroke="#c9375f" stroke-width="0.4"/>
<ellipse cx="44.5" cy="-9.6" rx="1.1" ry="0.6" fill="#fbd0da"/>
<ellipse cx="51.5" cy="-9.6" rx="3.9" ry="1.45" fill="#f27f9a" stroke="#c9375f" stroke-width="0.4"/>
<ellipse cx="51.5" cy="-9.6" rx="1.1" ry="0.6" fill="#fbd0da"/>
<ellipse cx="58.5" cy="-9.6" rx="3.9" ry="1.45" fill="#f27f9a" stroke="#c9375f" stroke-width="0.4"/>
<ellipse cx="58.5" cy="-9.6" rx="1.1" ry="0.6" fill="#fbd0da"/>
<ellipse cx="65.5" cy="-9.6" rx="3.9" ry="1.45" fill="#f27f9a" stroke="#c9375f" stroke-width="0.4"/>
<ellipse cx="65.5" cy="-9.6" rx="1.1" ry="0.6" fill="#fbd0da"/>
<ellipse cx="72.5" cy="-9.6" rx="3.9" ry="1.45" fill="#f27f9a" stroke="#c9375f" stroke-width="0.4"/>
<ellipse cx="72.5" cy="-9.6" rx="1.1" ry="0.6" fill="#fbd0da"/>
<ellipse cx="2.5" cy="9.6" rx="3.9" ry="1.45" fill="#f27f9a" stroke="#c9375f" stroke-width="0.4"/>
<ellipse cx="2.5" cy="9.6" rx="1.1" ry="0.6" fill="#fbd0da"/>
<ellipse cx="9.5" cy="9.6" rx="3.9" ry="1.45" fill="#f27f9a" stroke="#c9375f" stroke-width="0.4"/>
<ellipse cx="9.5" cy="9.6" rx="1.1" ry="0.6" fill="#fbd0da"/>
<ellipse cx="16.5" cy="9.6" rx="3.9" ry="1.45" fill="#f27f9a" stroke="#c9375f" stroke-width="0.4"/>
<ellipse cx="16.5" cy="9.6" rx="1.1" ry="0.6" fill="#fbd0da"/>
<ellipse cx="23.5" cy="9.6" rx="3.9" ry="1.45" fill="#f27f9a" stroke="#c9375f" stroke-width="0.4"/>
<ellipse cx="23.5" cy="9.6" rx="1.1" ry="0.6" fill="#fbd0da"/>
<ellipse cx="30.5" cy="9.6" rx="3.9" ry="1.45" fill="#f27f9a" stroke="#c9375f" stroke-width="0.4"/>
<ellipse cx="30.5" cy="9.6" rx="1.1" ry="0.6" fill="#fbd0da"/>
<ellipse cx="37.5" cy="9.6" rx="3.9" ry="1.45" fill="#f27f9a" stroke="#c9375f" stroke-width="0.4"/>
<ellipse cx="37.5" cy="9.6" rx="1.1" ry="0.6" fill="#fbd0da"/>
<ellipse cx="44.5" cy="9.6" rx="3.9" ry="1.45" fill="#f27f9a" stroke="#c9375f" stroke-width="0.4"/>
<ellipse cx="44.5" cy="9.6" rx="1.1" ry="0.6" fill="#fbd0da"/>
<ellipse cx="51.5" cy="9.6" rx="3.9" ry="1.45" fill="#f27f9a" stroke="#c9375f" stroke-width="0.4"/>
<ellipse cx="51.5" cy="9.6" rx="1.1" ry="0.6" fill="#fbd0da"/>
<ellipse cx="58.5" cy="9.6" rx="3.9" ry="1.45" fill="#f27f9a" stroke="#c9375f" stroke-width="0.4"/>
<ellipse cx="58.5" cy="9.6" rx="1.1" ry="0.6" fill="#fbd0da"/>
<ellipse cx="65.5" cy="9.6" rx="3.9" ry="1.45" fill="#f27f9a" stroke="#c9375f" stroke-width="0.4"/>
<ellipse cx="65.5" cy="9.6" rx="1.1" ry="0.6" fill="#fbd0da"/>
<ellipse cx="72.5" cy="9.6" rx="3.9" ry="1.45" fill="#f27f9a" stroke="#c9375f" stroke-width="0.4"/>
<ellipse cx="72.5" cy="9.6" rx="1.1" ry="0.6" fill="#fbd0da"/>
<path d="M9.0,-11.1 L12.0,-13.3 L15.0,-11.1 M12.0,-13.3 L12.6,-16.5" stroke="#16a0de" stroke-width="1.6" fill="none" stroke-linecap="round" stroke-linejoin="round"/>
<path d="M21.6,-11.1 L24.6,-13.3 L27.6,-11.1 M24.6,-13.3 L25.2,-16.5" stroke="#16a0de" stroke-width="1.6" fill="none" stroke-linecap="round" stroke-linejoin="round"/>
<path d="M39.0,-11.1 L42.0,-13.3 L45.0,-11.1 M42.0,-13.3 L42.6,-16.5" stroke="#16a0de" stroke-width="1.6" fill="none" stroke-linecap="round" stroke-linejoin="round"/>
<path d="M57.0,-11.1 L60.0,-13.3 L63.0,-11.1 M60.0,-13.3 L60.6,-16.5" stroke="#16a0de" stroke-width="1.6" fill="none" stroke-linecap="round" stroke-linejoin="round"/>
<path d="M17.0,11.1 L20.0,13.3 L23.0,11.1 M20.0,13.3 L20.6,16.5" stroke="#16a0de" stroke-width="1.6" fill="none" stroke-linecap="round" stroke-linejoin="round"/>
<path d="M32.0,11.1 L35.0,13.3 L38.0,11.1 M35.0,13.3 L35.6,16.5" stroke="#16a0de" stroke-width="1.6" fill="none" stroke-linecap="round" stroke-linejoin="round"/>
<path d="M55.0,11.1 L58.0,13.3 L61.0,11.1 M58.0,13.3 L58.6,16.5" stroke="#16a0de" stroke-width="1.6" fill="none" stroke-linecap="round" stroke-linejoin="round"/>
<polygon points="31.50,-4.10 32.29,-2.19 34.35,-2.03 32.78,-0.68 33.26,1.33 31.50,0.25 29.74,1.33 30.22,-0.68 28.65,-2.03 30.71,-2.19" fill="#5a9f6a"/>
<polygon points="42.40,-3.10 43.19,-1.19 45.25,-1.03 43.68,0.32 44.16,2.33 42.40,1.25 40.64,2.33 41.12,0.32 39.55,-1.03 41.61,-1.19" fill="#5a9f6a"/>
<polygon points="51.40,1.00 52.19,2.91 54.25,3.07 52.68,4.42 53.16,6.43 51.40,5.35 49.64,6.43 50.12,4.42 48.55,3.07 50.61,2.91" fill="#5a9f6a"/>
<polygon points="59.00,-2.30 59.79,-0.39 61.85,-0.23 60.28,1.12 60.76,3.13 59.00,2.05 57.24,3.13 57.72,1.12 56.15,-0.23 58.21,-0.39" fill="#5a9f6a"/>
<polygon points="17.00,1.80 17.79,3.71 19.85,3.87 18.28,5.22 18.76,7.23 17.00,6.15 15.24,7.23 15.72,5.22 14.15,3.87 16.21,3.71" fill="#5a9f6a"/>
<polygon points="24.00,-6.00 24.79,-4.09 26.85,-3.93 25.28,-2.58 25.76,-0.57 24.00,-1.65 22.24,-0.57 22.72,-2.58 21.15,-3.93 23.21,-4.09" fill="#5a9f6a"/>
<circle cx="8.2" cy="-1.2" r="3.8" fill="url(#mbg)"/>
<circle cx="28.1" cy="3.9" r="2.6" fill="url(#mbg)"/>
<circle cx="54.4" cy="-3.5" r="3.2" fill="url(#mbg)"/>
<circle cx="42.3" cy="5.1" r="2.0" fill="url(#mbg)"/>
</g>
<path d="M291.6,28.4 A17,17 0 0 1 280.0,17.8" stroke="#999" stroke-width="0.9" fill="none"/>
<path d="M290.6,32.3 A21,21 0 0 1 276.3,19.2" stroke="#999" stroke-width="0.9" fill="none"/>
<path d="M289.5,36.1 A25,25 0 0 1 272.5,20.6" stroke="#999" stroke-width="0.9" fill="none"/>
<path d="M262.6,100.6 A10,10 0 0 1 268.6,94.6" stroke="#999" stroke-width="0.9" fill="none"/>
<path d="M259.3,99.4 A13.5,13.5 0 0 1 267.4,91.3" stroke="#999" stroke-width="0.9" fill="none"/>
<path d="M256.0,98.2 A17,17 0 0 1 266.2,88.0" stroke="#999" stroke-width="0.9" fill="none"/>
</g>
<line x1="265.50" y1="39.00" x2="266.00" y2="52.00" stroke="#111" stroke-width="1.2" stroke-dasharray="1.8,1.3"/>
<line x1="245.50" y1="47.50" x2="260.00" y2="55.50" stroke="#111" stroke-width="1.2" stroke-dasharray="1.8,1.3"/>
<circle cx="249.50" cy="32.10" r="16.00" fill="#fff" stroke="#000" stroke-width="1.5" />
<ellipse cx="250.0" cy="33.1" rx="6.7" ry="6.1" fill="#9a6ad8"/>
<ellipse cx="249.5" cy="32.1" rx="6.1" ry="5.8" fill="#f2b8bf" stroke="#c86a7a" stroke-width="0.6"/>
<path d="M246.4,29.6 L242.9,26.7 M241.4,27.0 L244.4,26.4" stroke="#1aa3dd" stroke-width="1.3" fill="none" stroke-linecap="round"/>
<path d="M252.6,29.3 L256.1,26.1 M254.6,26.4 L257.6,25.8" stroke="#1aa3dd" stroke-width="1.3" fill="none" stroke-linecap="round"/>
<path d="M246.4,34.9 L242.9,38.1 M241.4,38.4 L244.4,37.8" stroke="#1aa3dd" stroke-width="1.3" fill="none" stroke-linecap="round"/>
<path d="M252.3,35.2 L255.5,38.7 M254.0,39.0 L257.0,38.4" stroke="#1aa3dd" stroke-width="1.3" fill="none" stroke-linecap="round"/>
<path d="M249.5,28.5 L249.5,24.3 M248.0,24.6 L251.0,24.0" stroke="#1aa3dd" stroke-width="1.3" fill="none" stroke-linecap="round"/>
<text x="225.00" y="97.00" style="font-size:7.55px;font-weight:bold;" fill="#000" text-anchor="start"  stroke="#000" stroke-width="0.16">Opening of Blood-Brain Barrier</text>
<path d="M322.5,22.5 L326,22.8 L327.5,19.8 L329.5,22.5 L333.5,21.5 L332,24.5 L335,27 L331,27 L329.5,30 L327.5,27.5 L323.5,29 L325,26 Z" fill="#4a9a68" stroke="#3a7a55" stroke-width="0.4"/>
<path d="M325.5,24.5 L328.5,23.5 L331,25.5 L328,27 Z" fill="#6cbf8a" opacity="0.8"/>
<ellipse cx="326" cy="37.5" rx="5.6" ry="2.1" transform="rotate(-38 326 37.5)" fill="#f39aa6" stroke="#d4486a" stroke-width="0.5"/>
<path d="M322.8,48.6 L327,47.6 L329.8,44.2 M327,47.6 L330.2,51" stroke="#16a0de" stroke-width="1.9" fill="none" stroke-linecap="round" stroke-linejoin="round"/>
<path d="M318.5,64.5 C321,60 326,58.5 330,57.8 C332,57.4 334,57 335.5,56.8 C334,59.5 330,61.8 326,63 C323,63.8 320.5,64.5 318.5,64.5 Z" fill="#9a62da"/>
<circle cx="328.20" cy="70.30" r="5.40" fill="url(#mbg)" stroke="none" stroke-width="1" />
<text x="337.10" y="26.70" style="font-size:7.5px;font-weight:bold;" fill="#000" text-anchor="start"  stroke="#000" stroke-width="0.16">EVPs</text>
<text x="336.10" y="38.90" style="font-size:7.64px;font-weight:bold;" fill="#000" text-anchor="start"  stroke="#000" stroke-width="0.16">Endothelial Cell</text>
<text x="336.50" y="49.70" style="font-size:7.6px;font-weight:bold;" fill="#000" text-anchor="start"  stroke="#000" stroke-width="0.16">Astrocyte</text>
<text x="337.00" y="60.60" style="font-size:7.6px;font-weight:bold;" fill="#000" text-anchor="start"  stroke="#000" stroke-width="0.16">Pericyte</text>
<text x="338.00" y="71.70" style="font-size:7.57px;font-weight:bold;" fill="#000" text-anchor="start"  stroke="#000" stroke-width="0.16">Microbubbles</text>
<defs><filter id="mblur" x="-5%" y="-5%" width="110%" height="110%"><feGaussianBlur stdDeviation="0.6"/></filter></defs>
<g filter="url(#mblur)">
<clipPath id="mc1"><rect x="0" y="0" width="107.0" height="105.9"/></clipPath>
<g transform="translate(472.5,408.8)" clip-path="url(#mc1)">
<rect x="0.00" y="0.00" width="107.00" height="105.90" fill="#070707" stroke="none" stroke-width="1" />
<g transform="translate(0,2)">
<radialGradient id="bg1" cx="0.5" cy="0.55" r="0.55"><stop offset="0" stop-color="#565656"/><stop offset="0.6" stop-color="#4c4c4c"/><stop offset="1" stop-color="#2e2e2e"/></radialGradient>
<path d="M1.0,48.0 C1.3,39.3 0.8,33.3 2.0,28.0 C3.2,22.7 5.3,19.3 8.0,16.0 C10.7,12.7 13.5,10.2 18.0,8.0 C22.5,5.8 28.8,4.2 35.0,3.0 C41.2,1.8 48.3,1.0 55.0,1.0 C61.7,1.0 69.2,1.5 75.0,3.0 C80.8,4.5 85.7,6.8 90.0,10.0 C94.3,13.2 98.3,17.0 101.0,22.0 C103.7,27.0 104.8,33.7 106.0,40.0 C107.2,46.3 108.2,53.7 108.0,60.0 C107.8,66.3 106.7,72.7 105.0,78.0 C103.3,83.3 100.8,87.7 98.0,92.0 C95.2,96.3 92.7,100.3 88.0,104.0 C83.3,107.7 78.0,112.3 70.0,114.0 C62.0,115.7 50.0,115.7 40.0,114.0 C30.0,112.3 16.7,109.7 10.0,104.0 C3.3,98.3 1.5,89.3 0.0,80.0 C-1.5,70.7 0.7,56.7 1.0,48.0 Z" fill="#797979" stroke="#c4c4c4" stroke-width="1.3"/>
<path d="M3.5,50.0 C3.2,43.0 3.0,37.7 4.0,33.0 C5.0,28.3 7.0,25.1 9.5,22.0 C12.0,18.9 14.9,16.5 19.0,14.5 C23.1,12.5 28.4,11.2 34.0,10.2 C39.6,9.2 46.2,8.6 52.5,8.5 C58.8,8.4 65.8,8.5 71.5,9.5 C77.2,10.5 82.5,12.1 87.0,14.8 C91.5,17.4 95.7,21.1 98.5,25.5 C101.3,29.9 102.8,35.4 104.0,41.0 C105.2,46.6 105.7,53.2 105.5,59.0 C105.3,64.8 104.5,70.5 103.0,75.5 C101.5,80.5 99.3,84.9 96.5,89.0 C93.7,93.1 90.6,97.0 86.0,100.0 C81.4,103.0 76.0,106.0 69.0,107.0 C62.0,108.0 52.3,108.0 44.0,106.0 C35.7,104.0 25.3,100.2 19.0,95.0 C12.7,89.8 8.6,82.5 6.0,75.0 C3.4,67.5 3.8,57.0 3.5,50.0 Z" fill="#181818" stroke="#747474" stroke-width="1.2"/>
<path d="M6.0,52.0 C5.0,46.7 5.2,42.0 6.0,38.0 C6.8,34.0 8.7,30.8 11.0,28.0 C13.3,25.2 16.3,22.8 20.0,21.0 C23.7,19.2 28.0,18.3 33.0,17.5 C38.0,16.7 44.2,16.2 50.0,16.0 C55.8,15.8 62.3,15.4 68.0,16.0 C73.7,16.6 79.3,17.3 84.0,19.5 C88.7,21.7 93.0,25.2 96.0,29.0 C99.0,32.8 100.8,37.2 102.0,42.0 C103.2,46.8 103.2,52.8 103.0,58.0 C102.8,63.2 102.3,68.3 101.0,73.0 C99.7,77.7 97.8,82.2 95.0,86.0 C92.2,89.8 88.5,93.7 84.0,96.0 C79.5,98.3 74.0,99.7 68.0,100.0 C62.0,100.3 54.7,100.3 48.0,98.0 C41.3,95.7 34.0,90.7 28.0,86.0 C22.0,81.3 15.7,75.7 12.0,70.0 C8.3,64.3 7.0,57.3 6.0,52.0 Z" fill="url(#bg1)" stroke="#7e7e7e" stroke-width="0.7"/>
<clipPath id="bc1"><path d="M6.0,52.0 C5.0,46.7 5.2,42.0 6.0,38.0 C6.8,34.0 8.7,30.8 11.0,28.0 C13.3,25.2 16.3,22.8 20.0,21.0 C23.7,19.2 28.0,18.3 33.0,17.5 C38.0,16.7 44.2,16.2 50.0,16.0 C55.8,15.8 62.3,15.4 68.0,16.0 C73.7,16.6 79.3,17.3 84.0,19.5 C88.7,21.7 93.0,25.2 96.0,29.0 C99.0,32.8 100.8,37.2 102.0,42.0 C103.2,46.8 103.2,52.8 103.0,58.0 C102.8,63.2 102.3,68.3 101.0,73.0 C99.7,77.7 97.8,82.2 95.0,86.0 C92.2,89.8 88.5,93.7 84.0,96.0 C79.5,98.3 74.0,99.7 68.0,100.0 C62.0,100.3 54.7,100.3 48.0,98.0 C41.3,95.7 34.0,90.7 28.0,86.0 C22.0,81.3 15.7,75.7 12.0,70.0 C8.3,64.3 7.0,57.3 6.0,52.0 Z"/></clipPath>
<g clip-path="url(#bc1)">
<path d="M68.0,18.4 Q69.2,23.1 68.0,25.3" stroke="#1f1f1f" stroke-width="1.5" fill="none" stroke-linecap="round" opacity="0.4"/>
<path d="M18.6,48.3 Q23.2,50.0 24.2,47.7" stroke="#1f1f1f" stroke-width="1.0" fill="none" stroke-linecap="round" opacity="0.4"/>
<path d="M97.2,51.5 Q95.0,52.1 91.5,53.1" stroke="#1f1f1f" stroke-width="1.5" fill="none" stroke-linecap="round" opacity="0.4"/>
<path d="M77.2,28.9 Q75.5,30.9 70.0,32.0" stroke="#1f1f1f" stroke-width="1.0" fill="none" stroke-linecap="round" opacity="0.4"/>
<path d="M28.8,69.7 Q31.6,68.4 35.4,64.0" stroke="#1f1f1f" stroke-width="1.3" fill="none" stroke-linecap="round" opacity="0.4"/>
<path d="M64.6,17.4 Q65.4,18.1 63.4,21.5" stroke="#1f1f1f" stroke-width="1.2" fill="none" stroke-linecap="round" opacity="0.4"/>
<path d="M46.1,25.4 Q46.9,28.8 46.4,31.9" stroke="#1f1f1f" stroke-width="1.7" fill="none" stroke-linecap="round" opacity="0.4"/>
<path d="M17.6,49.9 Q18.9,51.6 23.3,51.1" stroke="#1f1f1f" stroke-width="1.1" fill="none" stroke-linecap="round" opacity="0.4"/>
<path d="M13.9,46.5 Q17.9,45.9 22.6,47.4" stroke="#1f1f1f" stroke-width="1.2" fill="none" stroke-linecap="round" opacity="0.4"/>
<path d="M72.6,24.9 Q70.2,27.5 70.6,29.0" stroke="#1f1f1f" stroke-width="1.7" fill="none" stroke-linecap="round" opacity="0.4"/>
<path d="M92.0,38.8 Q87.5,41.0 86.9,41.5" stroke="#1f1f1f" stroke-width="1.3" fill="none" stroke-linecap="round" opacity="0.4"/>
<path d="M35.5,31.2 Q37.0,35.1 39.4,36.1" stroke="#1f1f1f" stroke-width="1.5" fill="none" stroke-linecap="round" opacity="0.4"/>
<path d="M22.6,35.8 Q26.8,36.1 30.1,39.9" stroke="#1f1f1f" stroke-width="1.4" fill="none" stroke-linecap="round" opacity="0.4"/>
<path d="M51.1,17.7 Q51.5,20.7 51.5,23.7" stroke="#1f1f1f" stroke-width="1.1" fill="none" stroke-linecap="round" opacity="0.4"/>
<path d="M45.7,8.9 Q45.7,11.4 49.7,13.5" stroke="#1f1f1f" stroke-width="1.0" fill="none" stroke-linecap="round" opacity="0.4"/>
<path d="M25.4,58.3 Q28.3,59.2 31.3,60.5" stroke="#1f1f1f" stroke-width="1.3" fill="none" stroke-linecap="round" opacity="0.4"/>
<path d="M57.2,16.4 Q56.5,19.6 54.2,23.4" stroke="#1f1f1f" stroke-width="1.5" fill="none" stroke-linecap="round" opacity="0.4"/>
<path d="M89.3,58.7 Q87.5,58.6 84.3,57.3" stroke="#1f1f1f" stroke-width="1.5" fill="none" stroke-linecap="round" opacity="0.4"/>
<path d="M94.4,46.8 Q90.3,47.1 86.7,44.6" stroke="#1f1f1f" stroke-width="1.6" fill="none" stroke-linecap="round" opacity="0.4"/>
<path d="M87.7,55.8 Q85.5,56.3 79.6,53.0" stroke="#1f1f1f" stroke-width="1.2" fill="none" stroke-linecap="round" opacity="0.4"/>
<path d="M78.2,29.5 Q73.8,30.4 71.9,32.4" stroke="#1f1f1f" stroke-width="1.1" fill="none" stroke-linecap="round" opacity="0.4"/>
<path d="M24.9,44.4 Q28.0,45.8 28.0,47.5" stroke="#1f1f1f" stroke-width="1.6" fill="none" stroke-linecap="round" opacity="0.4"/>
<path d="M85.4,27.4 Q83.0,28.2 80.3,30.8" stroke="#1f1f1f" stroke-width="1.3" fill="none" stroke-linecap="round" opacity="0.4"/>
<path d="M77.7,19.0 Q77.7,22.5 74.6,23.0" stroke="#1f1f1f" stroke-width="1.5" fill="none" stroke-linecap="round" opacity="0.4"/>
<path d="M20.8,62.5 Q21.5,60.9 24.2,59.7" stroke="#1f1f1f" stroke-width="1.6" fill="none" stroke-linecap="round" opacity="0.4"/>
<path d="M74.9,24.1 Q73.0,26.4 71.0,30.5" stroke="#1f1f1f" stroke-width="1.4" fill="none" stroke-linecap="round" opacity="0.4"/>
<path d="M30.9,20.6 Q32.9,23.0 35.1,25.5" stroke="#1f1f1f" stroke-width="1.6" fill="none" stroke-linecap="round" opacity="0.4"/>
<path d="M91.7,27.6 Q90.8,30.6 86.1,29.7" stroke="#1f1f1f" stroke-width="1.6" fill="none" stroke-linecap="round" opacity="0.4"/>
<path d="M14.0,65.0 Q16.3,61.5 20.0,59.5" stroke="#1f1f1f" stroke-width="1.6" fill="none" stroke-linecap="round" opacity="0.4"/>
<path d="M72.5,22.8 Q70.6,26.5 71.9,27.7" stroke="#1f1f1f" stroke-width="1.7" fill="none" stroke-linecap="round" opacity="0.4"/>
<path d="M17.7,37.5 Q22.3,37.6 26.4,38.3" stroke="#1f1f1f" stroke-width="1.8" fill="none" stroke-linecap="round" opacity="0.4"/>
<path d="M87.3,53.3 Q85.2,52.6 82.5,51.7" stroke="#1f1f1f" stroke-width="1.6" fill="none" stroke-linecap="round" opacity="0.4"/>
<path d="M98.3,33.3 Q97.4,33.7 94.9,37.8" stroke="#1f1f1f" stroke-width="1.5" fill="none" stroke-linecap="round" opacity="0.4"/>
<path d="M93.7,51.7 Q89.1,53.4 87.2,54.3" stroke="#1f1f1f" stroke-width="1.7" fill="none" stroke-linecap="round" opacity="0.4"/>
<path d="M83.4,69.2 Q79.1,66.6 76.0,64.9" stroke="#1f1f1f" stroke-width="1.5" fill="none" stroke-linecap="round" opacity="0.4"/>
<path d="M37.7,27.9 Q39.8,32.6 41.1,35.5" stroke="#1f1f1f" stroke-width="1.8" fill="none" stroke-linecap="round" opacity="0.4"/>
<path d="M14.0,44.8 Q18.2,44.9 22.1,45.3" stroke="#1f1f1f" stroke-width="1.2" fill="none" stroke-linecap="round" opacity="0.4"/>
<path d="M48.0,22.7 Q50.9,26.6 52.8,29.9" stroke="#1f1f1f" stroke-width="1.8" fill="none" stroke-linecap="round" opacity="0.4"/>
<path d="M91.0,41.9 Q87.2,43.3 86.9,46.1" stroke="#1f1f1f" stroke-width="1.8" fill="none" stroke-linecap="round" opacity="0.4"/>
<path d="M25.6,64.3 Q27.6,64.5 32.1,61.1" stroke="#1f1f1f" stroke-width="1.0" fill="none" stroke-linecap="round" opacity="0.4"/>
<path d="M71.9,19.8 Q70.2,22.3 71.3,25.5" stroke="#1f1f1f" stroke-width="1.6" fill="none" stroke-linecap="round" opacity="0.4"/>
<path d="M51.3,11.2 Q54.6,15.3 55.0,18.7" stroke="#1f1f1f" stroke-width="1.3" fill="none" stroke-linecap="round" opacity="0.4"/>
<path d="M59.5,8.9 Q62.4,10.2 61.6,14.5" stroke="#1f1f1f" stroke-width="1.1" fill="none" stroke-linecap="round" opacity="0.4"/>
<path d="M85.3,32.9 Q84.4,33.5 80.5,35.4" stroke="#1f1f1f" stroke-width="1.7" fill="none" stroke-linecap="round" opacity="0.4"/>
<path d="M76.4,18.6 Q75.0,22.7 76.3,25.3" stroke="#1f1f1f" stroke-width="1.6" fill="none" stroke-linecap="round" opacity="0.4"/>
<path d="M16.5,58.8 Q19.2,57.5 22.8,58.5" stroke="#1f1f1f" stroke-width="1.3" fill="none" stroke-linecap="round" opacity="0.4"/>
<path d="M87.7,66.7 Q82.2,66.2 80.1,63.3" stroke="#1f1f1f" stroke-width="1.0" fill="none" stroke-linecap="round" opacity="0.4"/>
<path d="M92.3,48.4 Q87.5,48.6 83.7,47.8" stroke="#1f1f1f" stroke-width="1.8" fill="none" stroke-linecap="round" opacity="0.4"/>
<path d="M24.1,47.6 Q25.5,47.9 28.9,50.2" stroke="#1f1f1f" stroke-width="1.5" fill="none" stroke-linecap="round" opacity="0.4"/>
<path d="M69.9,19.2 Q68.3,20.7 70.6,25.9" stroke="#1f1f1f" stroke-width="1.0" fill="none" stroke-linecap="round" opacity="0.4"/>
<circle cx="79.4" cy="93.4" r="1.7" fill="#525252" opacity="0.5"/>
<circle cx="16.1" cy="69.0" r="3.0" fill="#454545" opacity="0.5"/>
<circle cx="66.2" cy="87.4" r="2.6" fill="#3d3d3d" opacity="0.5"/>
<circle cx="73.2" cy="62.5" r="2.4" fill="#454545" opacity="0.5"/>
<circle cx="13.1" cy="66.3" r="2.5" fill="#515151" opacity="0.5"/>
<circle cx="69.9" cy="28.7" r="2.0" fill="#3f3f3f" opacity="0.5"/>
<circle cx="51.5" cy="29.8" r="1.7" fill="#4d4d4d" opacity="0.5"/>
<circle cx="22.7" cy="26.0" r="1.7" fill="#4f4f4f" opacity="0.5"/>
<circle cx="82.9" cy="62.3" r="2.8" fill="#555555" opacity="0.5"/>
<circle cx="88.8" cy="29.2" r="1.6" fill="#3d3d3d" opacity="0.5"/>
<circle cx="64.8" cy="67.8" r="2.6" fill="#474747" opacity="0.5"/>
<circle cx="23.2" cy="84.3" r="3.2" fill="#434343" opacity="0.5"/>
<circle cx="87.3" cy="46.8" r="2.8" fill="#414141" opacity="0.5"/>
<circle cx="53.0" cy="53.7" r="2.4" fill="#434343" opacity="0.5"/>
<circle cx="12.5" cy="64.9" r="2.4" fill="#454545" opacity="0.5"/>
<circle cx="40.5" cy="69.5" r="1.8" fill="#595959" opacity="0.5"/>
<circle cx="63.1" cy="30.8" r="2.9" fill="#474747" opacity="0.5"/>
<circle cx="54.5" cy="45.2" r="3.4" fill="#525252" opacity="0.5"/>
<circle cx="23.4" cy="67.4" r="2.1" fill="#4e4e4e" opacity="0.5"/>
<circle cx="21.7" cy="53.2" r="2.8" fill="#3d3d3d" opacity="0.5"/>
<circle cx="44.2" cy="77.8" r="3.1" fill="#3c3c3c" opacity="0.5"/>
<circle cx="21.5" cy="94.3" r="3.4" fill="#555555" opacity="0.5"/>
<circle cx="29.9" cy="54.8" r="2.6" fill="#3f3f3f" opacity="0.5"/>
<circle cx="19.3" cy="91.9" r="3.1" fill="#555555" opacity="0.5"/>
<circle cx="38.0" cy="75.7" r="3.0" fill="#535353" opacity="0.5"/>
</g>
<path d="M46,68 C58,62 82,64 98,76 C100,88 92,98 80,100 C64,102 52,96 46,86 Z" fill="#444444"/>
<path d="M42,65 C58,60 82,62 97,75" fill="none" stroke="#9c9c9c" stroke-width="0.8"/>
<path d="M88,80 L96,79 L91,85 Z" fill="#e0e0e0" stroke="none" stroke-width="1" />
<path d="M30,98 C46,96 62,100 84,104 L84,112 L30,112 Z" fill="#313131"/>
<path d="M0,38 C8,38 18,42 26,48 C36,54 46,60 52,66 C56,74 57,90 56,112 L0,112 Z" fill="#353535"/>
<path d="M0,40 C8,39 18,42 26,47 C30,50 32,54 32,58 C26,61 16,60 8,58 C4,57 1,56 0,56 Z" fill="#5e5e5e"/>
<path d="M20,62 C26,59 36,58 44,62 C50,66 54,72 56,80 C57,88 52,94 44,95 C34,96 26,94 22,88 C19,80 18,70 20,62 Z" fill="#696969"/>
<path d="M26,66 C30,64 34,66 35,70 C33,74 28,74 26,70 Z M38,78 C42,76 47,79 46,84 C43,87 38,85 38,78 Z M28,82 C31,81 33,84 31,87 C28,88 26,85 28,82 Z" fill="#262626"/>
<path d="M1,62 C8,60 18,61 21,64 C23,72 23,82 21,89 C14,91 6,91 1,89 Z" fill="#040404"/>
<path d="M38,11 L60,10 L72,13 L66,19 L58,23 L51,34 L48,23 Z" fill="#808080"/>
<path d="M48,15 C52,13 58,14 56,19 C54,23 50,21 48,15 Z" fill="#111"/>
<path d="M51,23 L54,23 L52,33 Z" fill="#eeeeee"/>
<path d="M60,38 C64,40 66,44 64,46 C61,44 59,41 60,38 Z" fill="#111"/>
</g>
</g>
<clipPath id="mc2"><rect x="0" y="0" width="105.1" height="105.9"/></clipPath>
<g transform="translate(579.5,408.8)" clip-path="url(#mc2)">
<rect x="0.00" y="0.00" width="105.10" height="105.90" fill="#070707" stroke="none" stroke-width="1" />
<g transform="translate(0,2)">
<radialGradient id="bg2" cx="0.5" cy="0.55" r="0.55"><stop offset="0" stop-color="#aaaaaa"/><stop offset="0.6" stop-color="#a0a0a0"/><stop offset="1" stop-color="#828282"/></radialGradient>
<path d="M1.0,48.0 C1.3,39.3 0.8,33.3 2.0,28.0 C3.2,22.7 5.3,19.3 8.0,16.0 C10.7,12.7 13.5,10.2 18.0,8.0 C22.5,5.8 28.8,4.2 35.0,3.0 C41.2,1.8 48.3,1.0 55.0,1.0 C61.7,1.0 69.2,1.5 75.0,3.0 C80.8,4.5 85.7,6.8 90.0,10.0 C94.3,13.2 98.3,17.0 101.0,22.0 C103.7,27.0 104.8,33.7 106.0,40.0 C107.2,46.3 108.2,53.7 108.0,60.0 C107.8,66.3 106.7,72.7 105.0,78.0 C103.3,83.3 100.8,87.7 98.0,92.0 C95.2,96.3 92.7,100.3 88.0,104.0 C83.3,107.7 78.0,112.3 70.0,114.0 C62.0,115.7 50.0,115.7 40.0,114.0 C30.0,112.3 16.7,109.7 10.0,104.0 C3.3,98.3 1.5,89.3 0.0,80.0 C-1.5,70.7 0.7,56.7 1.0,48.0 Z" fill="#cdcdcd" stroke="#ffffff" stroke-width="1.3"/>
<path d="M3.5,50.0 C3.2,43.0 3.0,37.7 4.0,33.0 C5.0,28.3 7.0,25.1 9.5,22.0 C12.0,18.9 14.9,16.5 19.0,14.5 C23.1,12.5 28.4,11.2 34.0,10.2 C39.6,9.2 46.2,8.6 52.5,8.5 C58.8,8.4 65.8,8.5 71.5,9.5 C77.2,10.5 82.5,12.1 87.0,14.8 C91.5,17.4 95.7,21.1 98.5,25.5 C101.3,29.9 102.8,35.4 104.0,41.0 C105.2,46.6 105.7,53.2 105.5,59.0 C105.3,64.8 104.5,70.5 103.0,75.5 C101.5,80.5 99.3,84.9 96.5,89.0 C93.7,93.1 90.6,97.0 86.0,100.0 C81.4,103.0 76.0,106.0 69.0,107.0 C62.0,108.0 52.3,108.0 44.0,106.0 C35.7,104.0 25.3,100.2 19.0,95.0 C12.7,89.8 8.6,82.5 6.0,75.0 C3.4,67.5 3.8,57.0 3.5,50.0 Z" fill="#181818" stroke="#c8c8c8" stroke-width="1.2"/>
<path d="M6.0,52.0 C5.0,46.7 5.2,42.0 6.0,38.0 C6.8,34.0 8.7,30.8 11.0,28.0 C13.3,25.2 16.3,22.8 20.0,21.0 C23.7,19.2 28.0,18.3 33.0,17.5 C38.0,16.7 44.2,16.2 50.0,16.0 C55.8,15.8 62.3,15.4 68.0,16.0 C73.7,16.6 79.3,17.3 84.0,19.5 C88.7,21.7 93.0,25.2 96.0,29.0 C99.0,32.8 100.8,37.2 102.0,42.0 C103.2,46.8 103.2,52.8 103.0,58.0 C102.8,63.2 102.3,68.3 101.0,73.0 C99.7,77.7 97.8,82.2 95.0,86.0 C92.2,89.8 88.5,93.7 84.0,96.0 C79.5,98.3 74.0,99.7 68.0,100.0 C62.0,100.3 54.7,100.3 48.0,98.0 C41.3,95.7 34.0,90.7 28.0,86.0 C22.0,81.3 15.7,75.7 12.0,70.0 C8.3,64.3 7.0,57.3 6.0,52.0 Z" fill="url(#bg2)" stroke="#d2d2d2" stroke-width="0.7"/>
<clipPath id="bc2"><path d="M6.0,52.0 C5.0,46.7 5.2,42.0 6.0,38.0 C6.8,34.0 8.7,30.8 11.0,28.0 C13.3,25.2 16.3,22.8 20.0,21.0 C23.7,19.2 28.0,18.3 33.0,17.5 C38.0,16.7 44.2,16.2 50.0,16.0 C55.8,15.8 62.3,15.4 68.0,16.0 C73.7,16.6 79.3,17.3 84.0,19.5 C88.7,21.7 93.0,25.2 96.0,29.0 C99.0,32.8 100.8,37.2 102.0,42.0 C103.2,46.8 103.2,52.8 103.0,58.0 C102.8,63.2 102.3,68.3 101.0,73.0 C99.7,77.7 97.8,82.2 95.0,86.0 C92.2,89.8 88.5,93.7 84.0,96.0 C79.5,98.3 74.0,99.7 68.0,100.0 C62.0,100.3 54.7,100.3 48.0,98.0 C41.3,95.7 34.0,90.7 28.0,86.0 C22.0,81.3 15.7,75.7 12.0,70.0 C8.3,64.3 7.0,57.3 6.0,52.0 Z"/></clipPath>
<g clip-path="url(#bc2)">
<path d="M61.0,10.5 Q62.6,15.7 62.1,19.2" stroke="#737373" stroke-width="1.5" fill="none" stroke-linecap="round" opacity="0.4"/>
<path d="M26.6,55.9 Q28.5,56.4 32.4,57.0" stroke="#737373" stroke-width="1.3" fill="none" stroke-linecap="round" opacity="0.4"/>
<path d="M102.7,48.5 Q98.2,48.6 97.2,46.3" stroke="#737373" stroke-width="1.7" fill="none" stroke-linecap="round" opacity="0.4"/>
<path d="M15.3,49.5 Q17.0,51.4 21.0,53.1" stroke="#737373" stroke-width="1.7" fill="none" stroke-linecap="round" opacity="0.4"/>
<path d="M76.4,24.5 Q74.4,27.7 72.6,26.8" stroke="#737373" stroke-width="1.1" fill="none" stroke-linecap="round" opacity="0.4"/>
<path d="M99.3,42.6 Q95.6,43.7 93.0,48.4" stroke="#737373" stroke-width="1.6" fill="none" stroke-linecap="round" opacity="0.4"/>
<path d="M30.5,16.0 Q32.9,17.7 32.4,21.6" stroke="#737373" stroke-width="1.4" fill="none" stroke-linecap="round" opacity="0.4"/>
<path d="M93.7,67.2 Q91.9,65.6 87.9,66.5" stroke="#737373" stroke-width="1.5" fill="none" stroke-linecap="round" opacity="0.4"/>
<path d="M66.1,15.7 Q66.9,17.1 64.3,19.9" stroke="#737373" stroke-width="1.3" fill="none" stroke-linecap="round" opacity="0.4"/>
<path d="M96.4,59.7 Q94.9,60.0 91.4,61.5" stroke="#737373" stroke-width="1.4" fill="none" stroke-linecap="round" opacity="0.4"/>
<path d="M23.8,30.4 Q25.6,33.9 30.7,33.6" stroke="#737373" stroke-width="1.7" fill="none" stroke-linecap="round" opacity="0.4"/>
<path d="M21.1,70.8 Q25.3,70.7 27.5,67.0" stroke="#737373" stroke-width="1.5" fill="none" stroke-linecap="round" opacity="0.4"/>
<path d="M42.4,24.1 Q42.7,24.7 46.2,27.7" stroke="#737373" stroke-width="1.7" fill="none" stroke-linecap="round" opacity="0.4"/>
<path d="M63.7,10.8 Q60.0,16.4 59.9,18.5" stroke="#737373" stroke-width="1.1" fill="none" stroke-linecap="round" opacity="0.4"/>
<path d="M97.1,35.3 Q92.3,35.5 90.8,39.0" stroke="#737373" stroke-width="1.5" fill="none" stroke-linecap="round" opacity="0.4"/>
<path d="M22.5,35.7 Q24.3,37.0 27.8,36.5" stroke="#737373" stroke-width="1.4" fill="none" stroke-linecap="round" opacity="0.4"/>
<path d="M40.4,19.5 Q41.6,24.5 43.2,25.7" stroke="#737373" stroke-width="1.6" fill="none" stroke-linecap="round" opacity="0.4"/>
<path d="M24.9,39.0 Q25.4,40.8 29.6,40.5" stroke="#737373" stroke-width="1.5" fill="none" stroke-linecap="round" opacity="0.4"/>
<path d="M42.6,11.2 Q45.0,14.1 44.0,16.6" stroke="#737373" stroke-width="1.5" fill="none" stroke-linecap="round" opacity="0.4"/>
<path d="M32.3,14.0 Q34.4,17.2 37.6,19.7" stroke="#737373" stroke-width="1.4" fill="none" stroke-linecap="round" opacity="0.4"/>
<path d="M60.2,20.9 Q60.3,24.0 58.2,27.5" stroke="#737373" stroke-width="1.4" fill="none" stroke-linecap="round" opacity="0.4"/>
<path d="M57.7,14.9 Q58.2,19.7 60.6,20.6" stroke="#737373" stroke-width="1.7" fill="none" stroke-linecap="round" opacity="0.4"/>
<path d="M51.2,11.6 Q52.2,14.8 53.0,16.3" stroke="#737373" stroke-width="1.0" fill="none" stroke-linecap="round" opacity="0.4"/>
<path d="M51.6,8.9 Q48.7,13.8 49.0,15.5" stroke="#737373" stroke-width="1.7" fill="none" stroke-linecap="round" opacity="0.4"/>
<path d="M21.2,69.7 Q24.8,68.7 27.2,64.8" stroke="#737373" stroke-width="1.6" fill="none" stroke-linecap="round" opacity="0.4"/>
<path d="M47.8,24.4 Q49.9,26.2 51.7,29.9" stroke="#737373" stroke-width="1.3" fill="none" stroke-linecap="round" opacity="0.4"/>
<path d="M65.0,10.8 Q62.6,16.2 64.2,19.6" stroke="#737373" stroke-width="1.3" fill="none" stroke-linecap="round" opacity="0.4"/>
<path d="M95.9,33.2 Q93.0,33.0 91.9,34.2" stroke="#737373" stroke-width="1.3" fill="none" stroke-linecap="round" opacity="0.4"/>
<path d="M62.5,20.3 Q61.1,22.5 62.8,26.8" stroke="#737373" stroke-width="1.5" fill="none" stroke-linecap="round" opacity="0.4"/>
<path d="M33.2,30.6 Q37.7,33.1 38.3,33.3" stroke="#737373" stroke-width="1.1" fill="none" stroke-linecap="round" opacity="0.4"/>
<path d="M28.6,29.7 Q31.4,32.6 34.1,33.4" stroke="#737373" stroke-width="1.1" fill="none" stroke-linecap="round" opacity="0.4"/>
<path d="M65.1,22.2 Q66.0,27.1 64.6,28.9" stroke="#737373" stroke-width="1.8" fill="none" stroke-linecap="round" opacity="0.4"/>
<path d="M41.6,16.5 Q43.2,18.6 42.5,21.3" stroke="#737373" stroke-width="1.3" fill="none" stroke-linecap="round" opacity="0.4"/>
<path d="M94.7,33.9 Q90.6,35.5 88.6,39.0" stroke="#737373" stroke-width="1.2" fill="none" stroke-linecap="round" opacity="0.4"/>
<path d="M28.8,69.2 Q33.0,67.0 34.2,65.8" stroke="#737373" stroke-width="1.1" fill="none" stroke-linecap="round" opacity="0.4"/>
<path d="M87.4,61.2 Q84.2,61.7 82.4,58.5" stroke="#737373" stroke-width="1.6" fill="none" stroke-linecap="round" opacity="0.4"/>
<path d="M24.9,23.0 Q26.5,24.4 31.0,29.0" stroke="#737373" stroke-width="1.7" fill="none" stroke-linecap="round" opacity="0.4"/>
<path d="M98.1,56.2 Q93.3,53.7 90.7,53.5" stroke="#737373" stroke-width="1.7" fill="none" stroke-linecap="round" opacity="0.4"/>
<path d="M94.0,48.4 Q91.4,51.5 89.5,51.3" stroke="#737373" stroke-width="1.2" fill="none" stroke-linecap="round" opacity="0.4"/>
<path d="M35.7,32.1 Q39.6,33.2 42.1,34.5" stroke="#737373" stroke-width="1.3" fill="none" stroke-linecap="round" opacity="0.4"/>
<path d="M27.3,35.3 Q30.6,37.7 31.8,42.4" stroke="#737373" stroke-width="1.2" fill="none" stroke-linecap="round" opacity="0.4"/>
<path d="M32.6,16.3 Q36.4,18.7 39.1,22.1" stroke="#737373" stroke-width="1.4" fill="none" stroke-linecap="round" opacity="0.4"/>
<path d="M16.7,41.3 Q19.5,43.8 22.5,46.7" stroke="#737373" stroke-width="1.5" fill="none" stroke-linecap="round" opacity="0.4"/>
<path d="M12.1,52.8 Q15.5,51.8 19.7,50.9" stroke="#737373" stroke-width="1.7" fill="none" stroke-linecap="round" opacity="0.4"/>
<path d="M81.6,30.4 Q78.9,31.9 73.3,33.3" stroke="#737373" stroke-width="1.4" fill="none" stroke-linecap="round" opacity="0.4"/>
<path d="M39.2,10.9 Q37.7,12.2 38.8,17.3" stroke="#737373" stroke-width="1.4" fill="none" stroke-linecap="round" opacity="0.4"/>
<path d="M24.3,43.5 Q26.1,41.8 28.4,43.3" stroke="#737373" stroke-width="1.2" fill="none" stroke-linecap="round" opacity="0.4"/>
<path d="M72.6,23.3 Q70.7,26.2 70.7,28.6" stroke="#737373" stroke-width="1.6" fill="none" stroke-linecap="round" opacity="0.4"/>
<path d="M20.9,69.0 Q25.0,68.2 27.5,69.2" stroke="#737373" stroke-width="1.5" fill="none" stroke-linecap="round" opacity="0.4"/>
<path d="M102.9,59.0 Q98.6,60.0 95.4,61.2" stroke="#737373" stroke-width="1.3" fill="none" stroke-linecap="round" opacity="0.4"/>
<circle cx="78.3" cy="56.0" r="3.5" fill="#8e8e8e" opacity="0.5"/>
<circle cx="64.1" cy="79.3" r="2.2" fill="#979797" opacity="0.5"/>
<circle cx="86.6" cy="26.9" r="2.6" fill="#939393" opacity="0.5"/>
<circle cx="13.7" cy="48.2" r="1.7" fill="#ababab" opacity="0.5"/>
<circle cx="22.9" cy="33.2" r="3.1" fill="#919191" opacity="0.5"/>
<circle cx="71.1" cy="82.8" r="1.5" fill="#949494" opacity="0.5"/>
<circle cx="79.6" cy="28.8" r="1.9" fill="#a1a1a1" opacity="0.5"/>
<circle cx="37.3" cy="43.5" r="1.5" fill="#939393" opacity="0.5"/>
<circle cx="44.5" cy="66.8" r="1.7" fill="#a2a2a2" opacity="0.5"/>
<circle cx="58.3" cy="42.9" r="2.4" fill="#919191" opacity="0.5"/>
<circle cx="88.3" cy="25.2" r="2.8" fill="#a1a1a1" opacity="0.5"/>
<circle cx="64.7" cy="27.5" r="3.2" fill="#979797" opacity="0.5"/>
<circle cx="78.6" cy="23.5" r="2.1" fill="#909090" opacity="0.5"/>
<circle cx="86.8" cy="82.8" r="3.4" fill="#9a9a9a" opacity="0.5"/>
<circle cx="88.7" cy="75.6" r="3.1" fill="#949494" opacity="0.5"/>
<circle cx="83.3" cy="47.3" r="1.6" fill="#aeaeae" opacity="0.5"/>
<circle cx="46.9" cy="79.4" r="2.8" fill="#9d9d9d" opacity="0.5"/>
<circle cx="60.6" cy="74.6" r="2.7" fill="#9c9c9c" opacity="0.5"/>
<circle cx="87.9" cy="82.0" r="2.8" fill="#acacac" opacity="0.5"/>
<circle cx="38.3" cy="90.2" r="2.7" fill="#9b9b9b" opacity="0.5"/>
<circle cx="77.7" cy="54.0" r="2.4" fill="#a5a5a5" opacity="0.5"/>
<circle cx="83.1" cy="65.6" r="1.9" fill="#959595" opacity="0.5"/>
<circle cx="32.4" cy="38.0" r="3.3" fill="#a5a5a5" opacity="0.5"/>
<circle cx="84.7" cy="47.7" r="1.6" fill="#8e8e8e" opacity="0.5"/>
<circle cx="12.1" cy="59.7" r="3.0" fill="#a2a2a2" opacity="0.5"/>
</g>
<path d="M46,68 C58,62 82,64 98,76 C100,88 92,98 80,100 C64,102 52,96 46,86 Z" fill="#989898"/>
<path d="M42,65 C58,60 82,62 97,75" fill="none" stroke="#f0f0f0" stroke-width="0.8"/>
<path d="M88,80 L96,79 L91,85 Z" fill="#e0e0e0" stroke="none" stroke-width="1" />
<path d="M30,98 C46,96 62,100 84,104 L84,112 L30,112 Z" fill="#686868"/>
<path d="M0,38 C8,38 18,42 26,48 C36,54 46,60 52,66 C56,74 57,90 56,112 L0,112 Z" fill="#707070"/>
<path d="M0,40 C8,39 18,42 26,47 C30,50 32,54 32,58 C26,61 16,60 8,58 C4,57 1,56 0,56 Z" fill="#a6a6a6"/>
<path d="M20,62 C26,59 36,58 44,62 C50,66 54,72 56,80 C57,88 52,94 44,95 C34,96 26,94 22,88 C19,80 18,70 20,62 Z" fill="#adadad"/>
<path d="M26,66 C30,64 34,66 35,70 C33,74 28,74 26,70 Z M38,78 C42,76 47,79 46,84 C43,87 38,85 38,78 Z M28,82 C31,81 33,84 31,87 C28,88 26,85 28,82 Z" fill="#505050"/>
<path d="M7,70 C12,68 20,69 23,72 C24,78 23,84 21,88 C15,89 10,88 7,86 C6,80 6,75 7,70 Z" fill="#050505"/>
<path d="M2,46 C8,46 16,50 22,56 C24,60 22,62 18,62 C12,60 6,56 2,54 Z" fill="#404040"/>
<path d="M6,22 C16,14 30,11 42,13 C40,17 30,19 20,22 C13,24 9,27 7,32 Z" fill="#1a1a1a"/>
<path d="M40,13 L66,12 C64,19 58,25 56,36 C52,29 46,23 40,21 Z" fill="#1c1c1c"/>
</g>
</g>
<clipPath id="mc3"><rect x="0" y="0" width="107.0" height="106.3"/></clipPath>
<g transform="translate(472.5,514.7)" clip-path="url(#mc3)">
<rect x="0.00" y="0.00" width="107.00" height="106.30" fill="#070707" stroke="none" stroke-width="1" />
<g transform="translate(0,5)">
<radialGradient id="bg3" cx="0.5" cy="0.55" r="0.55"><stop offset="0" stop-color="#6e6e6e"/><stop offset="0.6" stop-color="#646464"/><stop offset="1" stop-color="#464646"/></radialGradient>
<path d="M1.0,48.0 C1.3,39.3 0.8,33.3 2.0,28.0 C3.2,22.7 5.3,19.3 8.0,16.0 C10.7,12.7 13.5,10.2 18.0,8.0 C22.5,5.8 28.8,4.2 35.0,3.0 C41.2,1.8 48.3,1.0 55.0,1.0 C61.7,1.0 69.2,1.5 75.0,3.0 C80.8,4.5 85.7,6.8 90.0,10.0 C94.3,13.2 98.3,17.0 101.0,22.0 C103.7,27.0 104.8,33.7 106.0,40.0 C107.2,46.3 108.2,53.7 108.0,60.0 C107.8,66.3 106.7,72.7 105.0,78.0 C103.3,83.3 100.8,87.7 98.0,92.0 C95.2,96.3 92.7,100.3 88.0,104.0 C83.3,107.7 78.0,112.3 70.0,114.0 C62.0,115.7 50.0,115.7 40.0,114.0 C30.0,112.3 16.7,109.7 10.0,104.0 C3.3,98.3 1.5,89.3 0.0,80.0 C-1.5,70.7 0.7,56.7 1.0,48.0 Z" fill="#919191" stroke="#dcdcdc" stroke-width="1.3"/>
<path d="M3.5,50.0 C3.2,43.0 3.0,37.7 4.0,33.0 C5.0,28.3 7.0,25.1 9.5,22.0 C12.0,18.9 14.9,16.5 19.0,14.5 C23.1,12.5 28.4,11.2 34.0,10.2 C39.6,9.2 46.2,8.6 52.5,8.5 C58.8,8.4 65.8,8.5 71.5,9.5 C77.2,10.5 82.5,12.1 87.0,14.8 C91.5,17.4 95.7,21.1 98.5,25.5 C101.3,29.9 102.8,35.4 104.0,41.0 C105.2,46.6 105.7,53.2 105.5,59.0 C105.3,64.8 104.5,70.5 103.0,75.5 C101.5,80.5 99.3,84.9 96.5,89.0 C93.7,93.1 90.6,97.0 86.0,100.0 C81.4,103.0 76.0,106.0 69.0,107.0 C62.0,108.0 52.3,108.0 44.0,106.0 C35.7,104.0 25.3,100.2 19.0,95.0 C12.7,89.8 8.6,82.5 6.0,75.0 C3.4,67.5 3.8,57.0 3.5,50.0 Z" fill="#181818" stroke="#8c8c8c" stroke-width="1.2"/>
<path d="M6.0,52.0 C5.0,46.7 5.2,42.0 6.0,38.0 C6.8,34.0 8.7,30.8 11.0,28.0 C13.3,25.2 16.3,22.8 20.0,21.0 C23.7,19.2 28.0,18.3 33.0,17.5 C38.0,16.7 44.2,16.2 50.0,16.0 C55.8,15.8 62.3,15.4 68.0,16.0 C73.7,16.6 79.3,17.3 84.0,19.5 C88.7,21.7 93.0,25.2 96.0,29.0 C99.0,32.8 100.8,37.2 102.0,42.0 C103.2,46.8 103.2,52.8 103.0,58.0 C102.8,63.2 102.3,68.3 101.0,73.0 C99.7,77.7 97.8,82.2 95.0,86.0 C92.2,89.8 88.5,93.7 84.0,96.0 C79.5,98.3 74.0,99.7 68.0,100.0 C62.0,100.3 54.7,100.3 48.0,98.0 C41.3,95.7 34.0,90.7 28.0,86.0 C22.0,81.3 15.7,75.7 12.0,70.0 C8.3,64.3 7.0,57.3 6.0,52.0 Z" fill="url(#bg3)" stroke="#969696" stroke-width="0.7"/>
<clipPath id="bc3"><path d="M6.0,52.0 C5.0,46.7 5.2,42.0 6.0,38.0 C6.8,34.0 8.7,30.8 11.0,28.0 C13.3,25.2 16.3,22.8 20.0,21.0 C23.7,19.2 28.0,18.3 33.0,17.5 C38.0,16.7 44.2,16.2 50.0,16.0 C55.8,15.8 62.3,15.4 68.0,16.0 C73.7,16.6 79.3,17.3 84.0,19.5 C88.7,21.7 93.0,25.2 96.0,29.0 C99.0,32.8 100.8,37.2 102.0,42.0 C103.2,46.8 103.2,52.8 103.0,58.0 C102.8,63.2 102.3,68.3 101.0,73.0 C99.7,77.7 97.8,82.2 95.0,86.0 C92.2,89.8 88.5,93.7 84.0,96.0 C79.5,98.3 74.0,99.7 68.0,100.0 C62.0,100.3 54.7,100.3 48.0,98.0 C41.3,95.7 34.0,90.7 28.0,86.0 C22.0,81.3 15.7,75.7 12.0,70.0 C8.3,64.3 7.0,57.3 6.0,52.0 Z"/></clipPath>
<g clip-path="url(#bc3)">
<path d="M91.4,26.1 Q87.8,27.2 86.6,27.0" stroke="#373737" stroke-width="1.1" fill="none" stroke-linecap="round" opacity="0.4"/>
<path d="M85.7,38.6 Q83.2,39.4 78.5,40.6" stroke="#373737" stroke-width="1.7" fill="none" stroke-linecap="round" opacity="0.4"/>
<path d="M85.5,68.6 Q84.4,65.7 81.5,63.3" stroke="#373737" stroke-width="1.2" fill="none" stroke-linecap="round" opacity="0.4"/>
<path d="M86.8,64.1 Q82.4,61.0 80.7,59.3" stroke="#373737" stroke-width="1.2" fill="none" stroke-linecap="round" opacity="0.4"/>
<path d="M63.4,18.3 Q60.2,23.4 58.6,25.3" stroke="#373737" stroke-width="1.1" fill="none" stroke-linecap="round" opacity="0.4"/>
<path d="M16.0,58.8 Q21.9,61.1 23.8,60.4" stroke="#373737" stroke-width="1.2" fill="none" stroke-linecap="round" opacity="0.4"/>
<path d="M95.9,30.0 Q92.6,29.7 92.1,32.3" stroke="#373737" stroke-width="1.4" fill="none" stroke-linecap="round" opacity="0.4"/>
<path d="M87.5,18.8 Q87.9,21.6 84.4,22.3" stroke="#373737" stroke-width="1.4" fill="none" stroke-linecap="round" opacity="0.4"/>
<path d="M21.1,34.7 Q23.8,35.9 25.4,37.9" stroke="#373737" stroke-width="1.6" fill="none" stroke-linecap="round" opacity="0.4"/>
<path d="M42.1,19.1 Q43.3,22.6 47.0,25.6" stroke="#373737" stroke-width="1.3" fill="none" stroke-linecap="round" opacity="0.4"/>
<path d="M91.2,53.9 Q88.4,54.4 85.9,56.4" stroke="#373737" stroke-width="1.4" fill="none" stroke-linecap="round" opacity="0.4"/>
<path d="M84.4,40.3 Q81.3,41.5 75.7,42.5" stroke="#373737" stroke-width="1.5" fill="none" stroke-linecap="round" opacity="0.4"/>
<path d="M43.4,19.9 Q44.0,21.4 46.2,24.2" stroke="#373737" stroke-width="1.7" fill="none" stroke-linecap="round" opacity="0.4"/>
<path d="M95.8,41.1 Q94.3,43.0 92.3,43.3" stroke="#373737" stroke-width="1.3" fill="none" stroke-linecap="round" opacity="0.4"/>
<path d="M80.9,15.4 Q80.9,17.1 78.7,20.3" stroke="#373737" stroke-width="1.6" fill="none" stroke-linecap="round" opacity="0.4"/>
<path d="M44.3,26.4 Q47.9,29.9 49.1,30.5" stroke="#373737" stroke-width="1.4" fill="none" stroke-linecap="round" opacity="0.4"/>
<path d="M90.4,57.4 Q85.6,59.4 84.4,58.8" stroke="#373737" stroke-width="1.0" fill="none" stroke-linecap="round" opacity="0.4"/>
<path d="M95.2,63.7 Q93.2,65.7 87.9,65.2" stroke="#373737" stroke-width="1.1" fill="none" stroke-linecap="round" opacity="0.4"/>
<path d="M25.6,46.2 Q30.0,45.6 32.0,45.1" stroke="#373737" stroke-width="1.6" fill="none" stroke-linecap="round" opacity="0.4"/>
<path d="M21.8,32.8 Q23.9,36.7 26.6,36.8" stroke="#373737" stroke-width="1.7" fill="none" stroke-linecap="round" opacity="0.4"/>
<path d="M92.2,47.7 Q88.6,50.8 88.0,50.2" stroke="#373737" stroke-width="1.2" fill="none" stroke-linecap="round" opacity="0.4"/>
<path d="M90.9,53.4 Q86.7,55.3 84.1,55.3" stroke="#373737" stroke-width="1.5" fill="none" stroke-linecap="round" opacity="0.4"/>
<path d="M89.5,64.0 Q85.8,66.3 84.2,64.7" stroke="#373737" stroke-width="1.5" fill="none" stroke-linecap="round" opacity="0.4"/>
<path d="M53.3,18.4 Q51.6,20.5 52.7,26.2" stroke="#373737" stroke-width="1.1" fill="none" stroke-linecap="round" opacity="0.4"/>
<path d="M98.2,43.8 Q95.2,45.8 93.7,46.3" stroke="#373737" stroke-width="1.6" fill="none" stroke-linecap="round" opacity="0.4"/>
<path d="M25.3,37.7 Q27.1,41.6 28.5,41.9" stroke="#373737" stroke-width="1.2" fill="none" stroke-linecap="round" opacity="0.4"/>
<path d="M77.9,20.3 Q75.1,25.5 74.4,28.2" stroke="#373737" stroke-width="1.8" fill="none" stroke-linecap="round" opacity="0.4"/>
<path d="M58.3,18.4 Q60.1,20.0 58.4,22.8" stroke="#373737" stroke-width="1.4" fill="none" stroke-linecap="round" opacity="0.4"/>
<path d="M66.1,21.2 Q67.3,24.9 64.8,25.5" stroke="#373737" stroke-width="1.2" fill="none" stroke-linecap="round" opacity="0.4"/>
<path d="M98.0,37.6 Q93.8,40.2 92.0,41.1" stroke="#373737" stroke-width="1.5" fill="none" stroke-linecap="round" opacity="0.4"/>
<path d="M26.8,42.2 Q30.1,43.8 30.3,45.2" stroke="#373737" stroke-width="1.5" fill="none" stroke-linecap="round" opacity="0.4"/>
<path d="M81.9,32.9 Q81.0,33.8 77.1,37.4" stroke="#373737" stroke-width="1.7" fill="none" stroke-linecap="round" opacity="0.4"/>
<path d="M16.7,51.1 Q20.6,47.6 24.7,48.2" stroke="#373737" stroke-width="1.4" fill="none" stroke-linecap="round" opacity="0.4"/>
<path d="M54.2,7.8 Q54.0,12.2 52.0,13.8" stroke="#373737" stroke-width="1.3" fill="none" stroke-linecap="round" opacity="0.4"/>
<path d="M16.5,59.0 Q17.5,59.4 21.0,59.0" stroke="#373737" stroke-width="1.6" fill="none" stroke-linecap="round" opacity="0.4"/>
<path d="M88.3,65.8 Q87.8,64.2 83.6,64.5" stroke="#373737" stroke-width="1.4" fill="none" stroke-linecap="round" opacity="0.4"/>
<path d="M42.2,26.7 Q44.2,30.2 46.5,31.9" stroke="#373737" stroke-width="1.5" fill="none" stroke-linecap="round" opacity="0.4"/>
<path d="M21.0,34.3 Q21.5,35.7 25.9,38.9" stroke="#373737" stroke-width="1.5" fill="none" stroke-linecap="round" opacity="0.4"/>
<path d="M66.2,16.5 Q66.0,21.0 63.9,22.8" stroke="#373737" stroke-width="1.6" fill="none" stroke-linecap="round" opacity="0.4"/>
<path d="M96.4,59.3 Q95.5,60.3 91.6,59.2" stroke="#373737" stroke-width="1.5" fill="none" stroke-linecap="round" opacity="0.4"/>
<path d="M24.3,53.6 Q26.7,55.3 31.5,53.2" stroke="#373737" stroke-width="1.2" fill="none" stroke-linecap="round" opacity="0.4"/>
<path d="M96.6,62.7 Q91.6,59.5 88.9,58.5" stroke="#373737" stroke-width="1.7" fill="none" stroke-linecap="round" opacity="0.4"/>
<path d="M46.5,16.9 Q48.1,20.8 47.8,24.5" stroke="#373737" stroke-width="1.2" fill="none" stroke-linecap="round" opacity="0.4"/>
<path d="M82.7,34.7 Q77.7,34.0 75.6,37.3" stroke="#373737" stroke-width="1.7" fill="none" stroke-linecap="round" opacity="0.4"/>
<path d="M19.2,44.0 Q21.0,42.1 24.6,43.5" stroke="#373737" stroke-width="1.7" fill="none" stroke-linecap="round" opacity="0.4"/>
<path d="M96.2,35.5 Q92.6,38.3 92.3,38.2" stroke="#373737" stroke-width="1.8" fill="none" stroke-linecap="round" opacity="0.4"/>
<path d="M99.2,67.4 Q94.3,64.5 92.5,65.3" stroke="#373737" stroke-width="1.5" fill="none" stroke-linecap="round" opacity="0.4"/>
<path d="M100.6,70.6 Q99.3,68.6 95.0,68.3" stroke="#373737" stroke-width="1.6" fill="none" stroke-linecap="round" opacity="0.4"/>
<path d="M72.2,19.9 Q70.5,22.0 71.7,25.8" stroke="#373737" stroke-width="1.8" fill="none" stroke-linecap="round" opacity="0.4"/>
<path d="M86.3,47.0 Q83.4,50.8 79.9,51.3" stroke="#373737" stroke-width="1.7" fill="none" stroke-linecap="round" opacity="0.4"/>
<circle cx="89.8" cy="94.4" r="2.8" fill="#545454" opacity="0.5"/>
<circle cx="99.9" cy="23.6" r="1.9" fill="#646464" opacity="0.5"/>
<circle cx="92.1" cy="31.1" r="3.3" fill="#626262" opacity="0.5"/>
<circle cx="20.9" cy="45.4" r="2.5" fill="#626262" opacity="0.5"/>
<circle cx="71.2" cy="67.4" r="2.9" fill="#686868" opacity="0.5"/>
<circle cx="69.5" cy="92.3" r="1.8" fill="#616161" opacity="0.5"/>
<circle cx="96.9" cy="84.6" r="2.9" fill="#6c6c6c" opacity="0.5"/>
<circle cx="44.6" cy="89.3" r="2.7" fill="#6d6d6d" opacity="0.5"/>
<circle cx="33.1" cy="93.4" r="2.1" fill="#6b6b6b" opacity="0.5"/>
<circle cx="97.6" cy="47.1" r="3.4" fill="#5a5a5a" opacity="0.5"/>
<circle cx="27.1" cy="83.1" r="3.2" fill="#666666" opacity="0.5"/>
<circle cx="24.1" cy="66.9" r="1.6" fill="#5c5c5c" opacity="0.5"/>
<circle cx="62.9" cy="67.6" r="2.9" fill="#585858" opacity="0.5"/>
<circle cx="60.1" cy="60.3" r="3.4" fill="#606060" opacity="0.5"/>
<circle cx="70.7" cy="33.1" r="2.2" fill="#727272" opacity="0.5"/>
<circle cx="61.2" cy="36.7" r="2.4" fill="#616161" opacity="0.5"/>
<circle cx="92.3" cy="84.3" r="2.1" fill="#5e5e5e" opacity="0.5"/>
<circle cx="98.2" cy="59.0" r="3.1" fill="#525252" opacity="0.5"/>
<circle cx="14.7" cy="94.8" r="1.8" fill="#5e5e5e" opacity="0.5"/>
<circle cx="91.8" cy="48.8" r="1.8" fill="#646464" opacity="0.5"/>
<circle cx="20.0" cy="41.4" r="3.4" fill="#626262" opacity="0.5"/>
<circle cx="38.8" cy="81.1" r="2.2" fill="#6c6c6c" opacity="0.5"/>
<circle cx="51.0" cy="51.2" r="2.9" fill="#666666" opacity="0.5"/>
<circle cx="88.7" cy="28.8" r="2.6" fill="#5b5b5b" opacity="0.5"/>
<circle cx="78.2" cy="21.6" r="1.6" fill="#6a6a6a" opacity="0.5"/>
</g>
<path d="M46,68 C58,62 82,64 98,76 C100,88 92,98 80,100 C64,102 52,96 46,86 Z" fill="#5c5c5c"/>
<path d="M42,65 C58,60 82,62 97,75" fill="none" stroke="#b4b4b4" stroke-width="0.8"/>
<path d="M88,80 L96,79 L91,85 Z" fill="#e0e0e0" stroke="none" stroke-width="1" />
<path d="M30,98 C46,96 62,100 84,104 L84,112 L30,112 Z" fill="#414141"/>
<path d="M0,38 C8,38 18,42 26,48 C36,54 46,60 52,66 C56,74 57,90 56,112 L0,112 Z" fill="#464646"/>
<path d="M0,40 C8,39 18,42 26,47 C30,50 32,54 32,58 C26,61 16,60 8,58 C4,57 1,56 0,56 Z" fill="#737373"/>
<path d="M20,62 C26,59 36,58 44,62 C50,66 54,72 56,80 C57,88 52,94 44,95 C34,96 26,94 22,88 C19,80 18,70 20,62 Z" fill="#7d7d7d"/>
<path d="M26,66 C30,64 34,66 35,70 C33,74 28,74 26,70 Z M38,78 C42,76 47,79 46,84 C43,87 38,85 38,78 Z M28,82 C31,81 33,84 31,87 C28,88 26,85 28,82 Z" fill="#323232"/>
<path d="M4,68 C8,66 14,67 16,70 C17,76 16,82 14,86 C10,88 6,87 4,84 C3,78 3,72 4,68 Z" fill="#060606"/>
<circle cx="26" cy="70" r="4.2" fill="#0a0a0a"/>
<path d="M40,13 L64,12 C60,19 54,27 52,37 C48,29 44,21 40,17 Z" fill="#151515"/>
<path d="M51,38 C55,32 59,28 63,24 C65,22 67,24 65,28 C61,32 57,36 53,40 Z" fill="#d0d0d0"/>
</g>
</g>
<clipPath id="mc4"><rect x="0" y="0" width="105.1" height="106.3"/></clipPath>
<g transform="translate(579.5,514.7)" clip-path="url(#mc4)">
<rect x="0.00" y="0.00" width="105.10" height="106.30" fill="#070707" stroke="none" stroke-width="1" />
<g transform="translate(0,5)">
<radialGradient id="bg4" cx="0.5" cy="0.55" r="0.55"><stop offset="0" stop-color="#747474"/><stop offset="0.6" stop-color="#6a6a6a"/><stop offset="1" stop-color="#4c4c4c"/></radialGradient>
<path d="M1.0,48.0 C1.3,39.3 0.8,33.3 2.0,28.0 C3.2,22.7 5.3,19.3 8.0,16.0 C10.7,12.7 13.5,10.2 18.0,8.0 C22.5,5.8 28.8,4.2 35.0,3.0 C41.2,1.8 48.3,1.0 55.0,1.0 C61.7,1.0 69.2,1.5 75.0,3.0 C80.8,4.5 85.7,6.8 90.0,10.0 C94.3,13.2 98.3,17.0 101.0,22.0 C103.7,27.0 104.8,33.7 106.0,40.0 C107.2,46.3 108.2,53.7 108.0,60.0 C107.8,66.3 106.7,72.7 105.0,78.0 C103.3,83.3 100.8,87.7 98.0,92.0 C95.2,96.3 92.7,100.3 88.0,104.0 C83.3,107.7 78.0,112.3 70.0,114.0 C62.0,115.7 50.0,115.7 40.0,114.0 C30.0,112.3 16.7,109.7 10.0,104.0 C3.3,98.3 1.5,89.3 0.0,80.0 C-1.5,70.7 0.7,56.7 1.0,48.0 Z" fill="#979797" stroke="#e2e2e2" stroke-width="1.3"/>
<path d="M3.5,50.0 C3.2,43.0 3.0,37.7 4.0,33.0 C5.0,28.3 7.0,25.1 9.5,22.0 C12.0,18.9 14.9,16.5 19.0,14.5 C23.1,12.5 28.4,11.2 34.0,10.2 C39.6,9.2 46.2,8.6 52.5,8.5 C58.8,8.4 65.8,8.5 71.5,9.5 C77.2,10.5 82.5,12.1 87.0,14.8 C91.5,17.4 95.7,21.1 98.5,25.5 C101.3,29.9 102.8,35.4 104.0,41.0 C105.2,46.6 105.7,53.2 105.5,59.0 C105.3,64.8 104.5,70.5 103.0,75.5 C101.5,80.5 99.3,84.9 96.5,89.0 C93.7,93.1 90.6,97.0 86.0,100.0 C81.4,103.0 76.0,106.0 69.0,107.0 C62.0,108.0 52.3,108.0 44.0,106.0 C35.7,104.0 25.3,100.2 19.0,95.0 C12.7,89.8 8.6,82.5 6.0,75.0 C3.4,67.5 3.8,57.0 3.5,50.0 Z" fill="#181818" stroke="#929292" stroke-width="1.2"/>
<path d="M6.0,52.0 C5.0,46.7 5.2,42.0 6.0,38.0 C6.8,34.0 8.7,30.8 11.0,28.0 C13.3,25.2 16.3,22.8 20.0,21.0 C23.7,19.2 28.0,18.3 33.0,17.5 C38.0,16.7 44.2,16.2 50.0,16.0 C55.8,15.8 62.3,15.4 68.0,16.0 C73.7,16.6 79.3,17.3 84.0,19.5 C88.7,21.7 93.0,25.2 96.0,29.0 C99.0,32.8 100.8,37.2 102.0,42.0 C103.2,46.8 103.2,52.8 103.0,58.0 C102.8,63.2 102.3,68.3 101.0,73.0 C99.7,77.7 97.8,82.2 95.0,86.0 C92.2,89.8 88.5,93.7 84.0,96.0 C79.5,98.3 74.0,99.7 68.0,100.0 C62.0,100.3 54.7,100.3 48.0,98.0 C41.3,95.7 34.0,90.7 28.0,86.0 C22.0,81.3 15.7,75.7 12.0,70.0 C8.3,64.3 7.0,57.3 6.0,52.0 Z" fill="url(#bg4)" stroke="#9c9c9c" stroke-width="0.7"/>
<clipPath id="bc4"><path d="M6.0,52.0 C5.0,46.7 5.2,42.0 6.0,38.0 C6.8,34.0 8.7,30.8 11.0,28.0 C13.3,25.2 16.3,22.8 20.0,21.0 C23.7,19.2 28.0,18.3 33.0,17.5 C38.0,16.7 44.2,16.2 50.0,16.0 C55.8,15.8 62.3,15.4 68.0,16.0 C73.7,16.6 79.3,17.3 84.0,19.5 C88.7,21.7 93.0,25.2 96.0,29.0 C99.0,32.8 100.8,37.2 102.0,42.0 C103.2,46.8 103.2,52.8 103.0,58.0 C102.8,63.2 102.3,68.3 101.0,73.0 C99.7,77.7 97.8,82.2 95.0,86.0 C92.2,89.8 88.5,93.7 84.0,96.0 C79.5,98.3 74.0,99.7 68.0,100.0 C62.0,100.3 54.7,100.3 48.0,98.0 C41.3,95.7 34.0,90.7 28.0,86.0 C22.0,81.3 15.7,75.7 12.0,70.0 C8.3,64.3 7.0,57.3 6.0,52.0 Z"/></clipPath>
<g clip-path="url(#bc4)">
<path d="M28.6,68.5 Q30.0,66.1 34.3,66.8" stroke="#3d3d3d" stroke-width="1.2" fill="none" stroke-linecap="round" opacity="0.4"/>
<path d="M85.7,38.7 Q80.6,40.0 78.4,41.1" stroke="#3d3d3d" stroke-width="1.4" fill="none" stroke-linecap="round" opacity="0.4"/>
<path d="M40.2,10.2 Q43.6,11.3 43.5,13.1" stroke="#3d3d3d" stroke-width="1.2" fill="none" stroke-linecap="round" opacity="0.4"/>
<path d="M33.4,26.6 Q35.9,29.3 40.8,31.3" stroke="#3d3d3d" stroke-width="1.4" fill="none" stroke-linecap="round" opacity="0.4"/>
<path d="M98.9,68.3 Q97.3,70.2 93.1,68.1" stroke="#3d3d3d" stroke-width="1.0" fill="none" stroke-linecap="round" opacity="0.4"/>
<path d="M94.3,29.2 Q93.1,32.9 89.6,34.8" stroke="#3d3d3d" stroke-width="1.2" fill="none" stroke-linecap="round" opacity="0.4"/>
<path d="M75.8,26.0 Q74.2,27.5 74.0,29.8" stroke="#3d3d3d" stroke-width="1.5" fill="none" stroke-linecap="round" opacity="0.4"/>
<path d="M102.7,46.5 Q99.7,44.3 94.3,43.6" stroke="#3d3d3d" stroke-width="1.1" fill="none" stroke-linecap="round" opacity="0.4"/>
<path d="M76.5,19.9 Q74.8,25.2 75.6,27.2" stroke="#3d3d3d" stroke-width="1.5" fill="none" stroke-linecap="round" opacity="0.4"/>
<path d="M80.1,32.4 Q77.9,35.4 74.4,34.4" stroke="#3d3d3d" stroke-width="1.2" fill="none" stroke-linecap="round" opacity="0.4"/>
<path d="M48.8,11.2 Q48.7,12.7 48.2,17.4" stroke="#3d3d3d" stroke-width="1.1" fill="none" stroke-linecap="round" opacity="0.4"/>
<path d="M85.8,68.0 Q84.3,68.7 81.0,66.6" stroke="#3d3d3d" stroke-width="1.4" fill="none" stroke-linecap="round" opacity="0.4"/>
<path d="M56.7,10.6 Q57.5,13.8 57.4,15.9" stroke="#3d3d3d" stroke-width="1.0" fill="none" stroke-linecap="round" opacity="0.4"/>
<path d="M24.7,55.8 Q30.4,57.4 32.3,56.8" stroke="#3d3d3d" stroke-width="1.2" fill="none" stroke-linecap="round" opacity="0.4"/>
<path d="M98.9,33.3 Q96.7,34.8 95.6,38.0" stroke="#3d3d3d" stroke-width="1.1" fill="none" stroke-linecap="round" opacity="0.4"/>
<path d="M26.7,64.6 Q30.1,60.4 32.6,58.7" stroke="#3d3d3d" stroke-width="1.2" fill="none" stroke-linecap="round" opacity="0.4"/>
<path d="M91.2,46.1 Q89.6,46.9 86.4,47.4" stroke="#3d3d3d" stroke-width="1.7" fill="none" stroke-linecap="round" opacity="0.4"/>
<path d="M41.4,18.4 Q43.9,21.6 44.7,25.2" stroke="#3d3d3d" stroke-width="1.1" fill="none" stroke-linecap="round" opacity="0.4"/>
<path d="M13.7,54.3 Q17.9,56.2 20.7,57.5" stroke="#3d3d3d" stroke-width="1.1" fill="none" stroke-linecap="round" opacity="0.4"/>
<path d="M88.9,51.1 Q85.7,51.6 83.4,53.7" stroke="#3d3d3d" stroke-width="1.3" fill="none" stroke-linecap="round" opacity="0.4"/>
<path d="M87.3,29.1 Q85.9,31.5 82.5,31.2" stroke="#3d3d3d" stroke-width="1.0" fill="none" stroke-linecap="round" opacity="0.4"/>
<path d="M77.9,13.9 Q78.7,16.0 76.9,19.1" stroke="#3d3d3d" stroke-width="1.3" fill="none" stroke-linecap="round" opacity="0.4"/>
<path d="M92.5,45.3 Q89.7,47.4 88.2,47.8" stroke="#3d3d3d" stroke-width="1.3" fill="none" stroke-linecap="round" opacity="0.4"/>
<path d="M85.2,40.9 Q82.6,41.7 80.2,42.5" stroke="#3d3d3d" stroke-width="1.7" fill="none" stroke-linecap="round" opacity="0.4"/>
<path d="M30.4,34.3 Q31.3,35.4 33.8,36.7" stroke="#3d3d3d" stroke-width="1.0" fill="none" stroke-linecap="round" opacity="0.4"/>
<path d="M25.4,72.2 Q30.0,69.9 31.3,67.1" stroke="#3d3d3d" stroke-width="1.3" fill="none" stroke-linecap="round" opacity="0.4"/>
<path d="M88.2,40.5 Q84.8,40.0 81.1,40.9" stroke="#3d3d3d" stroke-width="1.1" fill="none" stroke-linecap="round" opacity="0.4"/>
<path d="M67.1,22.4 Q67.9,25.8 65.1,27.9" stroke="#3d3d3d" stroke-width="1.4" fill="none" stroke-linecap="round" opacity="0.4"/>
<path d="M92.2,51.5 Q89.4,50.1 86.3,50.9" stroke="#3d3d3d" stroke-width="1.3" fill="none" stroke-linecap="round" opacity="0.4"/>
<path d="M90.3,46.7 Q89.2,49.8 84.4,51.4" stroke="#3d3d3d" stroke-width="1.3" fill="none" stroke-linecap="round" opacity="0.4"/>
<path d="M96.1,73.1 Q94.0,74.6 91.9,72.2" stroke="#3d3d3d" stroke-width="1.1" fill="none" stroke-linecap="round" opacity="0.4"/>
<path d="M23.5,65.2 Q25.6,64.2 27.4,63.5" stroke="#3d3d3d" stroke-width="1.1" fill="none" stroke-linecap="round" opacity="0.4"/>
<path d="M17.3,72.1 Q20.0,71.5 22.9,69.4" stroke="#3d3d3d" stroke-width="1.7" fill="none" stroke-linecap="round" opacity="0.4"/>
<path d="M98.5,45.6 Q94.4,48.4 93.6,48.4" stroke="#3d3d3d" stroke-width="1.0" fill="none" stroke-linecap="round" opacity="0.4"/>
<path d="M70.0,10.4 Q69.2,15.0 69.0,16.0" stroke="#3d3d3d" stroke-width="1.5" fill="none" stroke-linecap="round" opacity="0.4"/>
<path d="M87.3,49.4 Q83.2,51.4 79.8,50.9" stroke="#3d3d3d" stroke-width="1.6" fill="none" stroke-linecap="round" opacity="0.4"/>
<path d="M99.1,60.3 Q95.0,61.1 90.6,59.6" stroke="#3d3d3d" stroke-width="1.4" fill="none" stroke-linecap="round" opacity="0.4"/>
<path d="M17.1,51.9 Q19.4,53.2 24.7,55.4" stroke="#3d3d3d" stroke-width="1.2" fill="none" stroke-linecap="round" opacity="0.4"/>
<path d="M28.4,17.6 Q29.8,19.4 33.0,21.6" stroke="#3d3d3d" stroke-width="1.5" fill="none" stroke-linecap="round" opacity="0.4"/>
<path d="M36.7,27.8 Q40.3,28.1 40.7,31.0" stroke="#3d3d3d" stroke-width="1.6" fill="none" stroke-linecap="round" opacity="0.4"/>
<path d="M13.7,57.1 Q16.1,55.9 19.0,58.2" stroke="#3d3d3d" stroke-width="1.1" fill="none" stroke-linecap="round" opacity="0.4"/>
<path d="M94.3,41.9 Q92.2,43.2 88.5,44.7" stroke="#3d3d3d" stroke-width="1.0" fill="none" stroke-linecap="round" opacity="0.4"/>
<path d="M71.5,21.8 Q70.7,23.9 67.8,29.1" stroke="#3d3d3d" stroke-width="1.6" fill="none" stroke-linecap="round" opacity="0.4"/>
<path d="M76.9,14.2 Q75.1,18.9 72.7,21.5" stroke="#3d3d3d" stroke-width="1.2" fill="none" stroke-linecap="round" opacity="0.4"/>
<path d="M65.1,11.4 Q65.7,16.7 63.5,18.2" stroke="#3d3d3d" stroke-width="1.2" fill="none" stroke-linecap="round" opacity="0.4"/>
<path d="M17.5,62.4 Q19.7,63.2 22.0,63.7" stroke="#3d3d3d" stroke-width="1.7" fill="none" stroke-linecap="round" opacity="0.4"/>
<path d="M89.4,53.3 Q86.3,52.9 83.5,55.4" stroke="#3d3d3d" stroke-width="1.7" fill="none" stroke-linecap="round" opacity="0.4"/>
<path d="M36.2,23.9 Q36.7,27.9 38.5,32.0" stroke="#3d3d3d" stroke-width="1.5" fill="none" stroke-linecap="round" opacity="0.4"/>
<path d="M25.8,45.6 Q30.8,46.2 34.1,45.0" stroke="#3d3d3d" stroke-width="1.5" fill="none" stroke-linecap="round" opacity="0.4"/>
<path d="M30.2,18.4 Q35.2,20.8 37.1,22.2" stroke="#3d3d3d" stroke-width="1.2" fill="none" stroke-linecap="round" opacity="0.4"/>
<circle cx="25.2" cy="25.6" r="3.1" fill="#6e6e6e" opacity="0.5"/>
<circle cx="61.0" cy="36.3" r="2.2" fill="#727272" opacity="0.5"/>
<circle cx="36.8" cy="22.0" r="2.1" fill="#5e5e5e" opacity="0.5"/>
<circle cx="15.9" cy="49.1" r="2.5" fill="#626262" opacity="0.5"/>
<circle cx="68.5" cy="44.5" r="2.6" fill="#717171" opacity="0.5"/>
<circle cx="97.7" cy="84.4" r="2.9" fill="#5e5e5e" opacity="0.5"/>
<circle cx="39.3" cy="37.2" r="3.2" fill="#767676" opacity="0.5"/>
<circle cx="93.1" cy="45.6" r="2.3" fill="#626262" opacity="0.5"/>
<circle cx="97.9" cy="72.8" r="2.8" fill="#676767" opacity="0.5"/>
<circle cx="93.1" cy="61.7" r="1.8" fill="#5e5e5e" opacity="0.5"/>
<circle cx="90.8" cy="39.6" r="1.9" fill="#666666" opacity="0.5"/>
<circle cx="41.0" cy="30.4" r="2.4" fill="#6f6f6f" opacity="0.5"/>
<circle cx="94.5" cy="39.4" r="2.2" fill="#696969" opacity="0.5"/>
<circle cx="97.2" cy="53.9" r="2.9" fill="#707070" opacity="0.5"/>
<circle cx="28.0" cy="50.0" r="2.6" fill="#5a5a5a" opacity="0.5"/>
<circle cx="11.5" cy="59.1" r="2.6" fill="#767676" opacity="0.5"/>
<circle cx="48.0" cy="57.3" r="2.9" fill="#757575" opacity="0.5"/>
<circle cx="54.2" cy="58.4" r="2.6" fill="#585858" opacity="0.5"/>
<circle cx="31.6" cy="70.9" r="3.5" fill="#6a6a6a" opacity="0.5"/>
<circle cx="77.8" cy="48.6" r="1.7" fill="#676767" opacity="0.5"/>
<circle cx="24.3" cy="64.4" r="2.3" fill="#777777" opacity="0.5"/>
<circle cx="96.1" cy="27.8" r="2.8" fill="#696969" opacity="0.5"/>
<circle cx="40.8" cy="38.1" r="2.0" fill="#5e5e5e" opacity="0.5"/>
<circle cx="12.3" cy="48.5" r="1.6" fill="#5e5e5e" opacity="0.5"/>
<circle cx="50.1" cy="91.4" r="2.4" fill="#707070" opacity="0.5"/>
</g>
<path d="M46,68 C58,62 82,64 98,76 C100,88 92,98 80,100 C64,102 52,96 46,86 Z" fill="#626262"/>
<path d="M42,65 C58,60 82,62 97,75" fill="none" stroke="#bababa" stroke-width="0.8"/>
<path d="M88,80 L96,79 L91,85 Z" fill="#e0e0e0" stroke="none" stroke-width="1" />
<path d="M30,98 C46,96 62,100 84,104 L84,112 L30,112 Z" fill="#444444"/>
<path d="M0,38 C8,38 18,42 26,48 C36,54 46,60 52,66 C56,74 57,90 56,112 L0,112 Z" fill="#4a4a4a"/>
<path d="M0,40 C8,39 18,42 26,47 C30,50 32,54 32,58 C26,61 16,60 8,58 C4,57 1,56 0,56 Z" fill="#787878"/>
<path d="M20,62 C26,59 36,58 44,62 C50,66 54,72 56,80 C57,88 52,94 44,95 C34,96 26,94 22,88 C19,80 18,70 20,62 Z" fill="#818181"/>
<path d="M26,66 C30,64 34,66 35,70 C33,74 28,74 26,70 Z M38,78 C42,76 47,79 46,84 C43,87 38,85 38,78 Z M28,82 C31,81 33,84 31,87 C28,88 26,85 28,82 Z" fill="#353535"/>
<path d="M0,56 C8,55 18,57 22,60 C24,68 24,82 20,90 C12,92 4,92 0,90 Z" fill="#030303"/>
<path d="M46,11 L72,11 C70,17 66,21 62,23 C56,25 52,29 50,33 C48,25 47,17 46,11 Z" fill="#131313"/>
<path d="M50,33 C54,27 60,24 66,23 C72,23 74,27 70,31 C64,35 58,37 52,37 Z" fill="#b0b0b0"/>
</g>
</g>
</g>
<path d="M511,417.5 L530,416.5 L547,421 L543,426 L532,430 L525,440.5 L520,432 Z" fill="none" stroke="#f7a21b" stroke-width="1.3" stroke-dasharray="1.6,1.4"/>
<rect x="473.90" y="497.20" width="45.20" height="18.80" fill="#f7a21b" stroke="none" stroke-width="1" />
<text x="476.10" y="509.80" style="font-size:10.5px;font-weight:bold;" fill="#000" text-anchor="start"  stroke="#000" stroke-width="0.16">Pre-Op</text>
<rect x="580.80" y="497.20" width="45.30" height="18.80" fill="#f7a21b" stroke="none" stroke-width="1" />
<text x="583.00" y="509.80" style="font-size:10.5px;font-weight:bold;" fill="#000" text-anchor="start"  stroke="#000" stroke-width="0.16">POD 17</text>
<rect x="474.70" y="603.00" width="44.90" height="17.90" fill="#f7a21b" stroke="none" stroke-width="1" />
<text x="476.90" y="615.60" style="font-size:10.5px;font-weight:bold;" fill="#000" text-anchor="start"  stroke="#000" stroke-width="0.16">POD 74</text>
<rect x="581.40" y="603.00" width="45.60" height="17.90" fill="#f7a21b" stroke="none" stroke-width="1" />
<text x="583.60" y="615.60" style="font-size:10.5px;font-weight:bold;" fill="#000" text-anchor="start"  stroke="#000" stroke-width="0.16">POD 108</text>
<rect x="472.50" y="408.80" width="212.10" height="212.20" fill="none" stroke="#000" stroke-width="1.5" />
<line x1="451.40" y1="417.60" x2="472.50" y2="409.30" stroke="#000" stroke-width="1.5" />
<line x1="451.40" y1="501.50" x2="472.50" y2="620.50" stroke="#000" stroke-width="1.5" />
</svg>
</body></html>
